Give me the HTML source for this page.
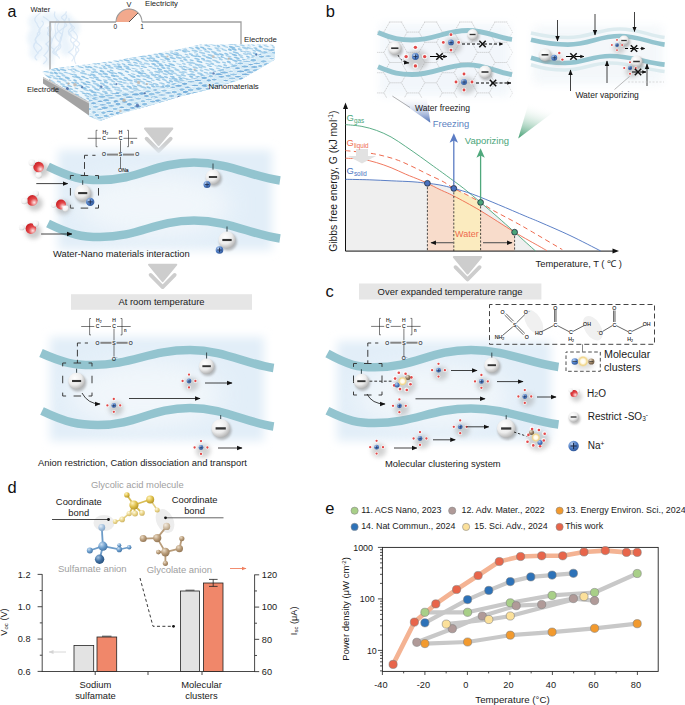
<!DOCTYPE html>
<html><head><meta charset="utf-8"><style>
html,body{margin:0;padding:0;background:#fff;}
svg{display:block;}
text{font-family:"Liberation Sans", sans-serif;}
</style></head><body>
<svg width="685" height="705" viewBox="0 0 685 705">
<defs>
<radialGradient id="gAn" cx="0.38" cy="0.32" r="0.75">
 <stop offset="0" stop-color="#ffffff"/><stop offset="0.55" stop-color="#ececec"/><stop offset="1" stop-color="#a8a8a8"/>
</radialGradient>
<radialGradient id="gNa" cx="0.35" cy="0.3" r="0.8">
 <stop offset="0" stop-color="#b9d0f0"/><stop offset="0.5" stop-color="#4f7fc8"/><stop offset="1" stop-color="#2b4f8e"/>
</radialGradient>
<radialGradient id="gO" cx="0.68" cy="0.7" r="0.75">
 <stop offset="0" stop-color="#fde8e8"/><stop offset="0.5" stop-color="#e4484a"/><stop offset="1" stop-color="#c81e22"/>
</radialGradient>
<radialGradient id="gH" cx="0.35" cy="0.3" r="0.8">
 <stop offset="0" stop-color="#ffffff"/><stop offset="0.6" stop-color="#f2f2f2"/><stop offset="1" stop-color="#c4c4c4"/>
</radialGradient>
<filter id="bl05" x="-20%" y="-20%" width="140%" height="140%"><feGaussianBlur stdDeviation="0.6"/></filter>
<filter id="bl1" x="-50%" y="-50%" width="200%" height="200%"><feGaussianBlur stdDeviation="1.3"/></filter>
<filter id="bl2" x="-50%" y="-50%" width="200%" height="200%"><feGaussianBlur stdDeviation="2"/></filter>
<filter id="bl8" x="-30%" y="-30%" width="160%" height="160%"><feGaussianBlur stdDeviation="12"/></filter>
<filter id="bl4" x="-20%" y="-20%" width="140%" height="140%"><feGaussianBlur stdDeviation="5"/></filter>
<marker id="ah" viewBox="0 0 10 10" refX="9" refY="5" markerWidth="5.5" markerHeight="5.5" orient="auto" markerUnits="userSpaceOnUse">
 <path d="M0,1 L10,5 L0,9 z" fill="#111"/>
</marker>
<clipPath id="cpSlab"><polygon points="42,72 53,68.5 106,62 150,54.4 182,48.6 201,44.6 240,44.2 272.5,44.8 275,47 273,48.5 232,65.5 201,76.5 150,89 89,96.5 89,102 89,96.5 150,89 201,76.5 232,65.5 273,48.5 275,47 275,59.5 242,79 211,89 181,96.3 150,105.5 116,115 100,121 89,116"/></clipPath><clipPath id="cpFront"><polygon points="89,96.5 150,89 201,76.5 232,65.5 273,48.5 275,47 275,59.5 242,79 211,89 181,96.3 150,105.5 116,115 100,121 89,116"/></clipPath><marker id="ahS" viewBox="0 0 10 10" refX="9" refY="5" markerWidth="4.2" markerHeight="4.2" orient="auto" markerUnits="userSpaceOnUse"><path d="M0,1 L10,5 L0,9 z" fill="#111"/></marker><clipPath id="cpHex"><rect x="377" y="21" width="136" height="77"/></clipPath><linearGradient id="gWedgeB" x1="0" y1="0" x2="0" y2="1"><stop offset="0" stop-color="#ffffff" stop-opacity="0"/><stop offset="1" stop-color="#4a6db5"/></linearGradient><linearGradient id="gWedgeG" x1="0.3" y1="0" x2="0" y2="1"><stop offset="0.15" stop-color="#ffffff" stop-opacity="0"/><stop offset="1" stop-color="#3b9a6c"/></linearGradient><radialGradient id="gYel" cx="0.5" cy="0.5" r="0.5"><stop offset="0" stop-color="#ffffff"/><stop offset="0.4" stop-color="#fffaea"/><stop offset="0.72" stop-color="#f2d68a"/><stop offset="1" stop-color="#f3d98a" stop-opacity="0.1"/></radialGradient><radialGradient id="gBr" cx="0.35" cy="0.3" r="0.8"><stop offset="0" stop-color="#e8dccb"/><stop offset="0.5" stop-color="#9c8466"/><stop offset="1" stop-color="#5e4c38"/></radialGradient><radialGradient id="gBl" cx="0.35" cy="0.3" r="0.8"><stop offset="0" stop-color="#c9def2"/><stop offset="0.5" stop-color="#6b9dcc"/><stop offset="1" stop-color="#3d6e9f"/></radialGradient><radialGradient id="gBlD" cx="0.35" cy="0.3" r="0.8"><stop offset="0" stop-color="#9fc0e0"/><stop offset="0.5" stop-color="#3f6fa2"/><stop offset="1" stop-color="#234a73"/></radialGradient><radialGradient id="gBlL" cx="0.35" cy="0.3" r="0.8"><stop offset="0" stop-color="#e6eef7"/><stop offset="0.5" stop-color="#a8c4df"/><stop offset="1" stop-color="#7d9fc3"/></radialGradient><radialGradient id="gYb" cx="0.35" cy="0.3" r="0.8"><stop offset="0" stop-color="#fff4c0"/><stop offset="0.5" stop-color="#e0c04a"/><stop offset="1" stop-color="#a88a20"/></radialGradient><radialGradient id="gYl" cx="0.35" cy="0.3" r="0.8"><stop offset="0" stop-color="#fffae0"/><stop offset="0.5" stop-color="#ead58a"/><stop offset="1" stop-color="#c7ad5a"/></radialGradient><radialGradient id="gTn" cx="0.35" cy="0.3" r="0.8"><stop offset="0" stop-color="#eadbc6"/><stop offset="0.5" stop-color="#b89b78"/><stop offset="1" stop-color="#8a6e4e"/></radialGradient><radialGradient id="gTnL" cx="0.35" cy="0.3" r="0.8"><stop offset="0" stop-color="#f3ebe0"/><stop offset="0.5" stop-color="#d3c1a8"/><stop offset="1" stop-color="#ad9677"/></radialGradient><marker id="ahO" viewBox="0 0 10 10" refX="9" refY="5" markerWidth="5" markerHeight="5" orient="auto" markerUnits="userSpaceOnUse"><path d="M0,1 L10,5 L0,9 z" fill="#f08060"/></marker><marker id="ahG" viewBox="0 0 10 10" refX="9" refY="5" markerWidth="5" markerHeight="5" orient="auto" markerUnits="userSpaceOnUse"><path d="M0,1 L10,5 L0,9 z" fill="#d4d4d4"/></marker>
</defs>
<text x="7.6" y="17" font-size="16" fill="#111" text-anchor="start" >a</text><g opacity="0.8" filter="url(#bl2)"><ellipse cx="36" cy="22" rx="8" ry="8" fill="#e2eef9" opacity="0.85"/><ellipse cx="50" cy="18" rx="9" ry="6" fill="#e2eef9" opacity="0.85"/><ellipse cx="64" cy="20" rx="9" ry="7" fill="#e2eef9" opacity="0.85"/><ellipse cx="34" cy="38" rx="7" ry="10" fill="#e2eef9" opacity="0.85"/><ellipse cx="46" cy="36" rx="8" ry="9" fill="#e2eef9" opacity="0.85"/><ellipse cx="62" cy="34" rx="8" ry="9" fill="#e2eef9" opacity="0.85"/><ellipse cx="36" cy="52" rx="7" ry="8" fill="#e2eef9" opacity="0.85"/><ellipse cx="50" cy="50" rx="7" ry="9" fill="#e2eef9" opacity="0.85"/><ellipse cx="66" cy="48" rx="6" ry="8" fill="#e2eef9" opacity="0.85"/><ellipse cx="48" cy="62" rx="6" ry="4" fill="#e2eef9" opacity="0.85"/><ellipse cx="74" cy="28" rx="6" ry="8" fill="#e2eef9" opacity="0.85"/></g><g fill="none" stroke="#c6dbf1" stroke-width="1.2" opacity="0.55" filter="url(#bl05)"><path d="M49.7,57.8 C49.8,53.8 50.6,49.2 49.4,45.2 C51.2,41.2 53.6,40.3 49.5,36.3 C43.8,32.3 51.9,31.8 47.5,27.8 C54.3,23.8 49.4,20.4 42.9,16.4"/><path d="M59.4,58.6 C59.8,54.6 48.4,53.8 54.5,49.8 C48.0,45.8 51.5,44.9 52.0,40.9 C52.2,36.9 57.3,34.7 55.4,30.7 C54.8,26.7 53.9,24.2 57.0,20.2"/><path d="M75.9,63.9 C73.3,59.9 74.2,55.7 78.0,51.7 C81.7,47.7 72.3,46.3 73.7,42.3 C80.1,38.3 77.4,34.1 72.5,30.1 C78.3,26.1 69.2,26.1 69.6,22.1"/><path d="M75.1,55.6 C79.0,51.6 73.1,51.2 76.4,47.2 C82.8,43.2 78.3,42.8 74.7,38.8 C69.1,34.8 66.0,34.2 72.1,30.2 C73.0,26.2 68.2,22.2 68.9,18.2"/><path d="M37.2,60.2 C31.8,56.2 37.5,55.6 38.6,51.6 C45.2,47.6 40.5,46.5 36.3,42.5 C32.2,38.5 38.7,37.0 40.1,33.0 C34.5,29.0 48.4,24.7 41.6,20.7"/><path d="M38.2,53.6 C35.4,49.6 30.6,45.8 36.5,41.8 C32.9,37.8 38.8,37.3 37.4,33.3 C43.8,29.3 36.7,27.4 36.9,23.4 C32.4,19.4 35.7,16.6 40.5,12.6"/><path d="M71.6,61.4 C75.0,57.4 74.7,56.2 68.5,52.2 C73.9,48.2 74.5,47.2 73.0,43.2 C66.5,39.2 75.5,37.1 69.0,33.1 C65.6,29.1 75.6,27.9 71.1,23.9"/><path d="M56.6,54.1 C50.6,50.1 55.0,49.2 58.8,45.2 C60.4,41.2 59.3,38.4 62.4,34.4 C55.6,30.4 56.2,25.8 59.4,21.8 C54.9,17.8 53.2,15.6 55.0,11.6"/><path d="M55.5,51.8 C62.2,47.8 61.6,46.0 59.4,42.0 C54.3,38.0 53.7,34.6 60.2,30.6 C63.0,26.6 70.8,26.5 64.3,22.5 C64.1,18.5 68.9,18.4 65.7,14.4"/><path d="M43.3,64.0 C46.6,60.0 49.4,59.6 43.8,55.6 C47.9,51.6 51.6,47.9 45.8,43.9 C51.4,39.9 52.9,38.2 47.7,34.2 C52.7,30.2 51.6,28.1 50.6,24.1"/><path d="M58.0,55.4 C52.1,51.4 61.0,48.4 59.1,44.4 C62.3,40.4 61.3,35.5 62.9,31.5 C62.1,27.5 68.4,23.8 63.7,19.8 C57.1,15.8 67.6,15.4 66.2,11.4"/></g><text x="30.6" y="12.3" font-size="7.45" fill="#222" text-anchor="start" >Water</text><path d="M50,83 L50,22 L116,22 M142,22 L241,22 L241,45" fill="none" stroke="#a0a0a0" stroke-width="1.3"/><path d="M116,22 A13,13 0 0 1 138.2,12.8 L129,22 Z" fill="#f2a98d"/><path d="M116,22 A13,13 0 0 1 142,22" fill="none" stroke="#9a9a9a" stroke-width="1.1"/><line x1="129" y1="22" x2="138" y2="13" stroke="#333" stroke-width="0.8"/><text x="129" y="6.6" font-size="7.4" fill="#222" text-anchor="middle" >V</text><text x="115.2" y="28.8" font-size="6.5" fill="#222" text-anchor="middle" >0</text><text x="142" y="28.8" font-size="6.5" fill="#222" text-anchor="middle" >1</text><text x="145" y="5.5" font-size="7.7" fill="#222" text-anchor="start" >Electricity</text><polygon points="42,72 53,68.5 106,62 150,54.4 182,48.6 201,44.6 240,44.2 272.5,44.8 275,47 273,48.5 232,65.5 201,76.5 150,89 89,96.5 89,102 89,96.5 150,89 201,76.5 232,65.5 273,48.5 275,47 275,59.5 242,79 211,89 181,96.3 150,105.5 116,115 100,121 89,116" fill="#eef7fc"/><g clip-path="url(#cpSlab)"><g transform="skewY(14)"><ellipse cx="39.5" cy="29.7" rx="2.9" ry="0.6" fill="#a3cee9"/><ellipse cx="44.3" cy="28.7" rx="3.3" ry="0.7" fill="#93c5e6"/><ellipse cx="50.6" cy="25.7" rx="2.0" ry="0.8" fill="#a3cee9"/><ellipse cx="55.1" cy="24.3" rx="2.8" ry="1.1" fill="#a3cee9"/><ellipse cx="61.8" cy="21.8" rx="2.2" ry="0.9" fill="#9ecbe8"/><ellipse cx="66.4" cy="20.3" rx="2.1" ry="0.8" fill="#9ecbe8"/><ellipse cx="71.3" cy="19.2" rx="2.2" ry="0.7" fill="#93c5e6"/><ellipse cx="78.0" cy="16.9" rx="2.6" ry="0.9" fill="#aad2ec"/><ellipse cx="83.1" cy="15.6" rx="2.4" ry="0.7" fill="#9ecbe8"/><ellipse cx="89.2" cy="12.5" rx="2.8" ry="0.9" fill="#aad2ec"/><ellipse cx="94.6" cy="10.6" rx="3.4" ry="0.7" fill="#8bc0e3"/><ellipse cx="98.5" cy="9.4" rx="3.3" ry="0.8" fill="#93c5e6"/><ellipse cx="105.5" cy="7.2" rx="3.2" ry="0.8" fill="#aad2ec"/><ellipse cx="110.5" cy="5.5" rx="2.6" ry="1.1" fill="#aad2ec"/><ellipse cx="115.5" cy="3.9" rx="2.0" ry="1.0" fill="#a3cee9"/><ellipse cx="122.4" cy="1.7" rx="2.3" ry="0.8" fill="#aad2ec"/><ellipse cx="125.1" cy="0.3" rx="2.2" ry="0.7" fill="#93c5e6"/><ellipse cx="131.0" cy="-2.1" rx="3.0" ry="0.8" fill="#8bc0e3"/><ellipse cx="136.0" cy="-3.6" rx="2.7" ry="1.1" fill="#8bc0e3"/><ellipse cx="143.6" cy="-6.5" rx="2.5" ry="0.8" fill="#8bc0e3"/><ellipse cx="149.3" cy="-8.6" rx="2.2" ry="0.7" fill="#9ecbe8"/><ellipse cx="152.0" cy="-8.6" rx="2.2" ry="0.8" fill="#9ecbe8"/><ellipse cx="158.6" cy="-11.6" rx="2.7" ry="1.1" fill="#a3cee9"/><ellipse cx="165.5" cy="-13.6" rx="3.0" ry="0.9" fill="#a3cee9"/><ellipse cx="169.3" cy="-15.3" rx="2.1" ry="0.9" fill="#93c5e6"/><ellipse cx="174.1" cy="-16.2" rx="2.6" ry="0.7" fill="#a3cee9"/><ellipse cx="179.1" cy="-19.3" rx="2.1" ry="0.7" fill="#aad2ec"/><ellipse cx="186.1" cy="-21.6" rx="2.2" ry="0.8" fill="#aad2ec"/><ellipse cx="192.5" cy="-23.1" rx="2.6" ry="0.7" fill="#8bc0e3"/><ellipse cx="198.0" cy="-25.2" rx="2.6" ry="0.6" fill="#93c5e6"/><ellipse cx="202.7" cy="-26.5" rx="2.6" ry="1.0" fill="#a3cee9"/><ellipse cx="206.1" cy="-27.4" rx="2.7" ry="0.7" fill="#a3cee9"/><ellipse cx="214.0" cy="-30.4" rx="2.3" ry="1.0" fill="#93c5e6"/><ellipse cx="218.7" cy="-32.7" rx="2.5" ry="0.7" fill="#9ecbe8"/><ellipse cx="223.7" cy="-33.8" rx="2.4" ry="0.7" fill="#9ecbe8"/><ellipse cx="229.9" cy="-35.8" rx="3.0" ry="0.7" fill="#a3cee9"/><ellipse cx="234.4" cy="-37.6" rx="3.4" ry="1.0" fill="#8bc0e3"/><ellipse cx="239.1" cy="-39.3" rx="3.3" ry="0.8" fill="#aad2ec"/><ellipse cx="246.5" cy="-42.3" rx="2.2" ry="0.7" fill="#9ecbe8"/><ellipse cx="250.1" cy="-43.4" rx="3.4" ry="0.9" fill="#93c5e6"/><ellipse cx="255.9" cy="-45.2" rx="3.1" ry="0.6" fill="#93c5e6"/><ellipse cx="262.5" cy="-47.3" rx="3.0" ry="0.9" fill="#9ecbe8"/><ellipse cx="266.6" cy="-48.9" rx="2.0" ry="1.1" fill="#8bc0e3"/><ellipse cx="272.1" cy="-50.7" rx="2.0" ry="0.7" fill="#9ecbe8"/><ellipse cx="276.3" cy="-52.4" rx="2.6" ry="1.0" fill="#a3cee9"/><ellipse cx="283.9" cy="-54.5" rx="2.9" ry="0.8" fill="#a3cee9"/><ellipse cx="42.8" cy="31.3" rx="3.1" ry="1.0" fill="#93c5e6"/><ellipse cx="48.2" cy="30.7" rx="2.6" ry="1.1" fill="#9ecbe8"/><ellipse cx="52.2" cy="28.3" rx="2.7" ry="1.0" fill="#aad2ec"/><ellipse cx="58.2" cy="26.4" rx="2.1" ry="1.1" fill="#aad2ec"/><ellipse cx="65.4" cy="24.3" rx="3.1" ry="0.9" fill="#a3cee9"/><ellipse cx="68.7" cy="22.4" rx="2.7" ry="1.1" fill="#9ecbe8"/><ellipse cx="75.4" cy="20.9" rx="2.1" ry="0.7" fill="#a3cee9"/><ellipse cx="81.1" cy="18.6" rx="2.4" ry="0.9" fill="#a3cee9"/><ellipse cx="85.9" cy="17.3" rx="3.2" ry="0.6" fill="#9ecbe8"/><ellipse cx="90.7" cy="15.6" rx="2.7" ry="0.9" fill="#93c5e6"/><ellipse cx="96.5" cy="13.3" rx="2.7" ry="0.9" fill="#aad2ec"/><ellipse cx="102.0" cy="11.3" rx="2.6" ry="1.1" fill="#a3cee9"/><ellipse cx="108.6" cy="9.6" rx="2.3" ry="0.9" fill="#9ecbe8"/><ellipse cx="113.9" cy="6.6" rx="2.1" ry="0.8" fill="#93c5e6"/><ellipse cx="118.8" cy="5.3" rx="2.2" ry="0.8" fill="#93c5e6"/><ellipse cx="124.8" cy="2.8" rx="3.0" ry="1.0" fill="#9ecbe8"/><ellipse cx="128.4" cy="1.5" rx="2.6" ry="1.0" fill="#93c5e6"/><ellipse cx="134.2" cy="-0.0" rx="3.4" ry="1.1" fill="#9ecbe8"/><ellipse cx="140.5" cy="-1.5" rx="2.5" ry="0.8" fill="#aad2ec"/><ellipse cx="144.8" cy="-3.4" rx="1.9" ry="0.9" fill="#8bc0e3"/><ellipse cx="151.3" cy="-6.1" rx="2.7" ry="0.8" fill="#93c5e6"/><ellipse cx="155.0" cy="-6.7" rx="2.2" ry="1.1" fill="#93c5e6"/><ellipse cx="160.8" cy="-9.9" rx="3.1" ry="0.7" fill="#9ecbe8"/><ellipse cx="167.8" cy="-11.2" rx="2.9" ry="1.1" fill="#8bc0e3"/><ellipse cx="171.3" cy="-12.4" rx="2.8" ry="1.0" fill="#93c5e6"/><ellipse cx="177.1" cy="-14.5" rx="2.2" ry="1.1" fill="#aad2ec"/><ellipse cx="184.3" cy="-17.3" rx="3.1" ry="0.6" fill="#9ecbe8"/><ellipse cx="187.3" cy="-18.0" rx="2.6" ry="0.8" fill="#a3cee9"/><ellipse cx="193.7" cy="-20.2" rx="2.8" ry="0.6" fill="#9ecbe8"/><ellipse cx="200.5" cy="-22.5" rx="2.3" ry="0.7" fill="#aad2ec"/><ellipse cx="205.1" cy="-24.7" rx="2.2" ry="0.8" fill="#9ecbe8"/><ellipse cx="209.5" cy="-25.8" rx="3.4" ry="0.6" fill="#93c5e6"/><ellipse cx="216.2" cy="-28.5" rx="2.2" ry="0.9" fill="#8bc0e3"/><ellipse cx="219.8" cy="-29.4" rx="2.5" ry="0.9" fill="#8bc0e3"/><ellipse cx="227.6" cy="-32.9" rx="2.2" ry="0.7" fill="#9ecbe8"/><ellipse cx="232.6" cy="-34.1" rx="2.9" ry="0.8" fill="#aad2ec"/><ellipse cx="238.4" cy="-35.9" rx="1.9" ry="0.9" fill="#aad2ec"/><ellipse cx="242.3" cy="-38.4" rx="2.9" ry="0.8" fill="#a3cee9"/><ellipse cx="248.4" cy="-40.2" rx="2.3" ry="0.8" fill="#8bc0e3"/><ellipse cx="252.4" cy="-41.6" rx="1.9" ry="0.8" fill="#aad2ec"/><ellipse cx="260.0" cy="-43.9" rx="2.3" ry="1.1" fill="#aad2ec"/><ellipse cx="263.3" cy="-45.5" rx="2.4" ry="0.6" fill="#aad2ec"/><ellipse cx="269.5" cy="-47.7" rx="2.7" ry="0.6" fill="#aad2ec"/><ellipse cx="275.8" cy="-49.9" rx="2.8" ry="0.8" fill="#aad2ec"/><ellipse cx="279.8" cy="-51.2" rx="2.8" ry="0.9" fill="#9ecbe8"/><ellipse cx="286.1" cy="-52.8" rx="3.2" ry="0.8" fill="#aad2ec"/><ellipse cx="40.6" cy="35.6" rx="2.3" ry="0.9" fill="#9ecbe8"/><ellipse cx="44.1" cy="34.9" rx="3.2" ry="0.9" fill="#a3cee9"/><ellipse cx="49.8" cy="32.4" rx="2.7" ry="1.1" fill="#93c5e6"/><ellipse cx="57.1" cy="30.0" rx="3.2" ry="1.0" fill="#9ecbe8"/><ellipse cx="60.4" cy="28.0" rx="2.9" ry="1.1" fill="#8bc0e3"/><ellipse cx="67.9" cy="26.1" rx="2.8" ry="0.9" fill="#9ecbe8"/><ellipse cx="72.4" cy="23.8" rx="3.1" ry="1.0" fill="#a3cee9"/><ellipse cx="78.9" cy="21.7" rx="2.7" ry="1.0" fill="#8bc0e3"/><ellipse cx="82.5" cy="20.4" rx="2.3" ry="1.0" fill="#9ecbe8"/><ellipse cx="87.8" cy="19.3" rx="2.6" ry="1.1" fill="#93c5e6"/><ellipse cx="93.9" cy="17.2" rx="3.1" ry="0.9" fill="#9ecbe8"/><ellipse cx="98.2" cy="15.0" rx="2.3" ry="1.0" fill="#aad2ec"/><ellipse cx="105.1" cy="12.6" rx="2.6" ry="0.9" fill="#93c5e6"/><ellipse cx="110.7" cy="11.4" rx="2.3" ry="0.9" fill="#8bc0e3"/><ellipse cx="115.5" cy="9.8" rx="3.4" ry="0.9" fill="#aad2ec"/><ellipse cx="122.3" cy="7.7" rx="1.9" ry="0.9" fill="#a3cee9"/><ellipse cx="127.7" cy="5.1" rx="2.3" ry="0.7" fill="#9ecbe8"/><ellipse cx="130.6" cy="3.6" rx="3.0" ry="0.7" fill="#aad2ec"/><ellipse cx="136.2" cy="2.7" rx="2.7" ry="1.1" fill="#aad2ec"/><ellipse cx="141.8" cy="0.8" rx="2.6" ry="0.6" fill="#93c5e6"/><ellipse cx="149.3" cy="-2.1" rx="2.5" ry="1.0" fill="#8bc0e3"/><ellipse cx="153.0" cy="-3.9" rx="3.2" ry="0.6" fill="#aad2ec"/><ellipse cx="159.7" cy="-6.5" rx="3.3" ry="1.0" fill="#aad2ec"/><ellipse cx="163.5" cy="-7.9" rx="2.5" ry="1.1" fill="#93c5e6"/><ellipse cx="169.2" cy="-9.4" rx="2.3" ry="0.6" fill="#93c5e6"/><ellipse cx="173.7" cy="-10.7" rx="2.9" ry="0.7" fill="#aad2ec"/><ellipse cx="180.2" cy="-13.4" rx="3.1" ry="1.0" fill="#8bc0e3"/><ellipse cx="186.9" cy="-15.0" rx="2.8" ry="1.1" fill="#a3cee9"/><ellipse cx="191.3" cy="-16.7" rx="2.0" ry="1.0" fill="#8bc0e3"/><ellipse cx="196.9" cy="-19.5" rx="3.2" ry="0.9" fill="#a3cee9"/><ellipse cx="201.0" cy="-20.4" rx="2.4" ry="0.8" fill="#aad2ec"/><ellipse cx="207.1" cy="-22.9" rx="2.6" ry="1.0" fill="#93c5e6"/><ellipse cx="211.9" cy="-24.7" rx="2.2" ry="1.1" fill="#8bc0e3"/><ellipse cx="218.3" cy="-26.5" rx="2.4" ry="1.0" fill="#8bc0e3"/><ellipse cx="222.6" cy="-28.4" rx="2.0" ry="0.8" fill="#93c5e6"/><ellipse cx="228.5" cy="-30.2" rx="3.1" ry="0.7" fill="#93c5e6"/><ellipse cx="235.1" cy="-32.4" rx="2.5" ry="0.9" fill="#8bc0e3"/><ellipse cx="239.2" cy="-33.4" rx="2.6" ry="0.9" fill="#aad2ec"/><ellipse cx="244.2" cy="-35.5" rx="2.8" ry="1.1" fill="#9ecbe8"/><ellipse cx="249.5" cy="-36.8" rx="2.5" ry="1.0" fill="#8bc0e3"/><ellipse cx="257.3" cy="-39.6" rx="3.2" ry="0.6" fill="#93c5e6"/><ellipse cx="261.2" cy="-41.1" rx="3.1" ry="1.1" fill="#8bc0e3"/><ellipse cx="265.4" cy="-43.1" rx="3.3" ry="1.1" fill="#8bc0e3"/><ellipse cx="273.5" cy="-46.1" rx="2.1" ry="0.7" fill="#a3cee9"/><ellipse cx="278.9" cy="-48.2" rx="3.1" ry="1.0" fill="#8bc0e3"/><ellipse cx="281.8" cy="-48.3" rx="1.9" ry="0.7" fill="#a3cee9"/><ellipse cx="43.9" cy="37.6" rx="2.4" ry="0.7" fill="#aad2ec"/><ellipse cx="48.2" cy="35.8" rx="3.0" ry="0.7" fill="#aad2ec"/><ellipse cx="53.6" cy="34.1" rx="2.5" ry="0.7" fill="#a3cee9"/><ellipse cx="57.5" cy="32.7" rx="3.4" ry="0.8" fill="#aad2ec"/><ellipse cx="64.7" cy="30.6" rx="2.6" ry="0.7" fill="#9ecbe8"/><ellipse cx="68.4" cy="28.7" rx="2.9" ry="0.6" fill="#9ecbe8"/><ellipse cx="75.1" cy="26.7" rx="2.5" ry="0.7" fill="#8bc0e3"/><ellipse cx="81.7" cy="23.8" rx="2.0" ry="0.8" fill="#8bc0e3"/><ellipse cx="85.5" cy="22.7" rx="1.9" ry="0.8" fill="#a3cee9"/><ellipse cx="90.1" cy="21.2" rx="2.2" ry="1.0" fill="#9ecbe8"/><ellipse cx="95.9" cy="18.8" rx="3.0" ry="0.8" fill="#a3cee9"/><ellipse cx="102.1" cy="16.6" rx="2.2" ry="0.8" fill="#93c5e6"/><ellipse cx="108.8" cy="14.2" rx="2.5" ry="0.7" fill="#a3cee9"/><ellipse cx="111.9" cy="13.0" rx="2.0" ry="0.8" fill="#aad2ec"/><ellipse cx="119.0" cy="11.8" rx="3.3" ry="0.8" fill="#9ecbe8"/><ellipse cx="124.1" cy="9.4" rx="2.6" ry="0.8" fill="#8bc0e3"/><ellipse cx="130.0" cy="7.9" rx="2.6" ry="0.7" fill="#93c5e6"/><ellipse cx="133.9" cy="5.7" rx="3.3" ry="0.7" fill="#9ecbe8"/><ellipse cx="139.6" cy="4.3" rx="2.4" ry="1.0" fill="#93c5e6"/><ellipse cx="144.0" cy="2.3" rx="2.5" ry="1.1" fill="#9ecbe8"/><ellipse cx="150.2" cy="0.6" rx="2.6" ry="0.9" fill="#9ecbe8"/><ellipse cx="157.0" cy="-1.8" rx="2.0" ry="0.6" fill="#93c5e6"/><ellipse cx="162.3" cy="-4.6" rx="2.2" ry="0.6" fill="#a3cee9"/><ellipse cx="166.4" cy="-5.8" rx="3.3" ry="0.9" fill="#aad2ec"/><ellipse cx="173.0" cy="-7.5" rx="3.3" ry="0.8" fill="#a3cee9"/><ellipse cx="178.9" cy="-9.6" rx="3.3" ry="0.6" fill="#9ecbe8"/><ellipse cx="182.0" cy="-10.6" rx="2.6" ry="1.0" fill="#aad2ec"/><ellipse cx="189.7" cy="-13.1" rx="2.1" ry="0.9" fill="#93c5e6"/><ellipse cx="194.7" cy="-15.0" rx="3.1" ry="1.0" fill="#a3cee9"/><ellipse cx="198.6" cy="-16.2" rx="2.6" ry="1.0" fill="#a3cee9"/><ellipse cx="203.5" cy="-18.8" rx="3.0" ry="0.7" fill="#93c5e6"/><ellipse cx="210.5" cy="-20.9" rx="2.7" ry="0.7" fill="#8bc0e3"/><ellipse cx="216.6" cy="-22.3" rx="2.3" ry="0.6" fill="#93c5e6"/><ellipse cx="220.7" cy="-23.7" rx="3.4" ry="0.7" fill="#9ecbe8"/><ellipse cx="226.1" cy="-26.1" rx="2.9" ry="1.0" fill="#93c5e6"/><ellipse cx="232.5" cy="-28.8" rx="2.3" ry="0.7" fill="#aad2ec"/><ellipse cx="237.8" cy="-30.8" rx="2.3" ry="0.7" fill="#9ecbe8"/><ellipse cx="241.9" cy="-31.2" rx="2.2" ry="0.6" fill="#aad2ec"/><ellipse cx="249.3" cy="-34.4" rx="2.2" ry="1.0" fill="#8bc0e3"/><ellipse cx="254.7" cy="-36.8" rx="2.6" ry="1.1" fill="#8bc0e3"/><ellipse cx="259.9" cy="-38.7" rx="2.3" ry="0.7" fill="#9ecbe8"/><ellipse cx="264.4" cy="-39.2" rx="2.2" ry="0.6" fill="#a3cee9"/><ellipse cx="270.5" cy="-41.9" rx="2.3" ry="1.0" fill="#93c5e6"/><ellipse cx="273.8" cy="-42.8" rx="2.8" ry="0.7" fill="#aad2ec"/><ellipse cx="279.9" cy="-45.7" rx="3.4" ry="0.6" fill="#9ecbe8"/><ellipse cx="286.6" cy="-47.0" rx="2.5" ry="0.8" fill="#a3cee9"/><ellipse cx="39.5" cy="41.4" rx="3.1" ry="0.9" fill="#93c5e6"/><ellipse cx="45.1" cy="40.2" rx="2.9" ry="0.7" fill="#a3cee9"/><ellipse cx="49.7" cy="37.8" rx="2.9" ry="0.8" fill="#aad2ec"/><ellipse cx="56.7" cy="35.7" rx="2.0" ry="1.0" fill="#aad2ec"/><ellipse cx="61.4" cy="33.5" rx="3.0" ry="1.0" fill="#9ecbe8"/><ellipse cx="66.7" cy="32.2" rx="3.3" ry="0.8" fill="#9ecbe8"/><ellipse cx="72.2" cy="30.8" rx="2.5" ry="1.1" fill="#8bc0e3"/><ellipse cx="78.6" cy="27.6" rx="2.0" ry="0.7" fill="#8bc0e3"/><ellipse cx="82.0" cy="27.1" rx="2.5" ry="0.9" fill="#9ecbe8"/><ellipse cx="88.2" cy="24.3" rx="2.2" ry="0.6" fill="#8bc0e3"/><ellipse cx="94.0" cy="23.2" rx="3.4" ry="0.7" fill="#9ecbe8"/><ellipse cx="100.3" cy="19.9" rx="3.3" ry="0.8" fill="#a3cee9"/><ellipse cx="106.0" cy="18.4" rx="3.3" ry="0.9" fill="#9ecbe8"/><ellipse cx="110.6" cy="17.5" rx="2.8" ry="0.9" fill="#9ecbe8"/><ellipse cx="116.5" cy="14.5" rx="2.2" ry="0.8" fill="#a3cee9"/><ellipse cx="120.0" cy="13.5" rx="2.1" ry="1.1" fill="#9ecbe8"/><ellipse cx="125.1" cy="12.0" rx="3.0" ry="0.6" fill="#aad2ec"/><ellipse cx="130.7" cy="10.1" rx="2.7" ry="0.9" fill="#aad2ec"/><ellipse cx="137.6" cy="7.3" rx="2.3" ry="0.8" fill="#aad2ec"/><ellipse cx="142.5" cy="5.8" rx="1.9" ry="0.9" fill="#8bc0e3"/><ellipse cx="147.9" cy="3.9" rx="2.8" ry="1.1" fill="#9ecbe8"/><ellipse cx="154.3" cy="1.6" rx="2.0" ry="0.8" fill="#aad2ec"/><ellipse cx="157.7" cy="0.4" rx="2.7" ry="0.6" fill="#9ecbe8"/><ellipse cx="163.0" cy="-1.0" rx="3.1" ry="0.9" fill="#93c5e6"/><ellipse cx="170.3" cy="-3.3" rx="2.9" ry="1.0" fill="#93c5e6"/><ellipse cx="176.0" cy="-5.2" rx="3.0" ry="1.0" fill="#9ecbe8"/><ellipse cx="179.4" cy="-6.5" rx="2.3" ry="1.0" fill="#9ecbe8"/><ellipse cx="186.3" cy="-9.2" rx="2.2" ry="1.1" fill="#a3cee9"/><ellipse cx="191.9" cy="-11.9" rx="3.2" ry="0.8" fill="#8bc0e3"/><ellipse cx="195.6" cy="-12.7" rx="3.3" ry="0.7" fill="#aad2ec"/><ellipse cx="202.3" cy="-15.4" rx="2.5" ry="0.7" fill="#8bc0e3"/><ellipse cx="206.5" cy="-15.9" rx="2.9" ry="1.1" fill="#9ecbe8"/><ellipse cx="213.6" cy="-19.4" rx="3.1" ry="0.6" fill="#aad2ec"/><ellipse cx="219.5" cy="-21.1" rx="2.7" ry="1.0" fill="#93c5e6"/><ellipse cx="222.9" cy="-22.2" rx="3.2" ry="1.0" fill="#aad2ec"/><ellipse cx="228.3" cy="-23.5" rx="2.8" ry="0.8" fill="#93c5e6"/><ellipse cx="234.2" cy="-26.7" rx="3.0" ry="0.6" fill="#a3cee9"/><ellipse cx="239.1" cy="-27.7" rx="3.4" ry="0.9" fill="#aad2ec"/><ellipse cx="245.9" cy="-29.9" rx="2.2" ry="0.8" fill="#8bc0e3"/><ellipse cx="250.4" cy="-32.1" rx="2.0" ry="0.9" fill="#a3cee9"/><ellipse cx="256.4" cy="-34.6" rx="1.9" ry="0.8" fill="#93c5e6"/><ellipse cx="261.5" cy="-35.7" rx="2.5" ry="0.8" fill="#9ecbe8"/><ellipse cx="266.0" cy="-37.1" rx="2.6" ry="0.7" fill="#9ecbe8"/><ellipse cx="272.8" cy="-39.8" rx="2.0" ry="0.7" fill="#aad2ec"/><ellipse cx="277.3" cy="-41.6" rx="1.9" ry="1.0" fill="#a3cee9"/><ellipse cx="284.1" cy="-43.5" rx="2.8" ry="0.9" fill="#a3cee9"/><ellipse cx="43.4" cy="43.0" rx="3.3" ry="0.6" fill="#a3cee9"/><ellipse cx="46.8" cy="41.7" rx="2.1" ry="1.1" fill="#93c5e6"/><ellipse cx="52.1" cy="40.4" rx="3.3" ry="0.7" fill="#9ecbe8"/><ellipse cx="59.0" cy="38.1" rx="2.9" ry="0.8" fill="#a3cee9"/><ellipse cx="63.4" cy="36.1" rx="2.4" ry="0.6" fill="#8bc0e3"/><ellipse cx="70.3" cy="33.3" rx="3.2" ry="1.0" fill="#8bc0e3"/><ellipse cx="73.9" cy="32.9" rx="2.2" ry="1.1" fill="#aad2ec"/><ellipse cx="79.8" cy="30.0" rx="2.4" ry="1.0" fill="#aad2ec"/><ellipse cx="86.5" cy="28.0" rx="2.7" ry="0.8" fill="#a3cee9"/><ellipse cx="92.6" cy="25.9" rx="3.3" ry="1.1" fill="#93c5e6"/><ellipse cx="97.8" cy="23.7" rx="2.3" ry="0.7" fill="#9ecbe8"/><ellipse cx="103.3" cy="22.7" rx="2.4" ry="1.1" fill="#aad2ec"/><ellipse cx="107.8" cy="20.7" rx="3.2" ry="1.1" fill="#a3cee9"/><ellipse cx="112.8" cy="19.6" rx="2.9" ry="1.1" fill="#8bc0e3"/><ellipse cx="119.6" cy="16.4" rx="3.2" ry="1.0" fill="#8bc0e3"/><ellipse cx="124.0" cy="14.6" rx="3.3" ry="0.7" fill="#93c5e6"/><ellipse cx="128.0" cy="14.0" rx="2.1" ry="1.1" fill="#93c5e6"/><ellipse cx="133.2" cy="11.5" rx="2.9" ry="0.6" fill="#93c5e6"/><ellipse cx="140.6" cy="8.8" rx="2.8" ry="0.8" fill="#a3cee9"/><ellipse cx="146.4" cy="6.8" rx="3.2" ry="1.1" fill="#8bc0e3"/><ellipse cx="149.6" cy="5.8" rx="2.1" ry="0.6" fill="#93c5e6"/><ellipse cx="157.0" cy="3.8" rx="2.3" ry="0.7" fill="#93c5e6"/><ellipse cx="162.3" cy="2.0" rx="2.3" ry="0.8" fill="#aad2ec"/><ellipse cx="165.6" cy="0.3" rx="2.3" ry="1.0" fill="#aad2ec"/><ellipse cx="173.4" cy="-1.7" rx="2.8" ry="0.9" fill="#aad2ec"/><ellipse cx="178.0" cy="-4.3" rx="2.5" ry="0.8" fill="#93c5e6"/><ellipse cx="182.7" cy="-5.0" rx="2.7" ry="0.7" fill="#93c5e6"/><ellipse cx="188.7" cy="-7.7" rx="2.6" ry="0.9" fill="#aad2ec"/><ellipse cx="194.6" cy="-8.8" rx="1.9" ry="0.9" fill="#8bc0e3"/><ellipse cx="199.8" cy="-10.9" rx="3.4" ry="0.9" fill="#a3cee9"/><ellipse cx="204.0" cy="-12.2" rx="2.3" ry="0.7" fill="#9ecbe8"/><ellipse cx="210.1" cy="-15.4" rx="2.9" ry="0.6" fill="#a3cee9"/><ellipse cx="216.3" cy="-16.9" rx="2.4" ry="0.8" fill="#8bc0e3"/><ellipse cx="222.0" cy="-18.7" rx="2.5" ry="1.0" fill="#aad2ec"/><ellipse cx="225.5" cy="-20.6" rx="3.3" ry="0.9" fill="#8bc0e3"/><ellipse cx="233.1" cy="-22.7" rx="3.3" ry="0.7" fill="#a3cee9"/><ellipse cx="237.8" cy="-24.2" rx="2.9" ry="0.8" fill="#aad2ec"/><ellipse cx="242.6" cy="-25.7" rx="2.6" ry="0.9" fill="#aad2ec"/><ellipse cx="247.0" cy="-27.9" rx="3.1" ry="0.9" fill="#9ecbe8"/><ellipse cx="252.8" cy="-29.6" rx="2.9" ry="0.9" fill="#aad2ec"/><ellipse cx="258.1" cy="-31.4" rx="3.2" ry="0.7" fill="#9ecbe8"/><ellipse cx="265.4" cy="-33.9" rx="2.8" ry="0.8" fill="#9ecbe8"/><ellipse cx="269.0" cy="-35.9" rx="3.4" ry="1.0" fill="#93c5e6"/><ellipse cx="274.0" cy="-37.0" rx="2.2" ry="0.7" fill="#9ecbe8"/><ellipse cx="281.1" cy="-39.4" rx="2.6" ry="0.7" fill="#93c5e6"/><ellipse cx="285.1" cy="-40.5" rx="2.6" ry="0.6" fill="#8bc0e3"/><ellipse cx="40.5" cy="47.2" rx="2.8" ry="0.9" fill="#9ecbe8"/><ellipse cx="44.7" cy="46.1" rx="1.9" ry="0.7" fill="#8bc0e3"/><ellipse cx="51.4" cy="43.6" rx="2.9" ry="1.1" fill="#a3cee9"/><ellipse cx="57.2" cy="41.7" rx="2.9" ry="0.8" fill="#aad2ec"/><ellipse cx="60.9" cy="40.4" rx="3.2" ry="0.7" fill="#8bc0e3"/><ellipse cx="67.6" cy="38.0" rx="2.3" ry="0.8" fill="#8bc0e3"/><ellipse cx="71.1" cy="37.1" rx="2.7" ry="1.0" fill="#9ecbe8"/><ellipse cx="78.9" cy="33.6" rx="1.9" ry="1.1" fill="#93c5e6"/><ellipse cx="81.9" cy="32.8" rx="2.1" ry="1.0" fill="#9ecbe8"/><ellipse cx="88.7" cy="29.9" rx="2.8" ry="0.9" fill="#8bc0e3"/><ellipse cx="94.0" cy="28.7" rx="3.1" ry="0.9" fill="#8bc0e3"/><ellipse cx="100.1" cy="26.4" rx="3.4" ry="0.7" fill="#a3cee9"/><ellipse cx="105.5" cy="24.0" rx="3.4" ry="0.8" fill="#93c5e6"/><ellipse cx="109.5" cy="23.0" rx="2.0" ry="0.6" fill="#8bc0e3"/><ellipse cx="116.0" cy="21.1" rx="2.8" ry="0.7" fill="#aad2ec"/><ellipse cx="121.7" cy="19.5" rx="2.7" ry="0.7" fill="#8bc0e3"/><ellipse cx="126.3" cy="16.8" rx="3.3" ry="0.6" fill="#9ecbe8"/><ellipse cx="131.7" cy="15.5" rx="2.2" ry="1.1" fill="#aad2ec"/><ellipse cx="137.7" cy="13.8" rx="3.1" ry="0.8" fill="#aad2ec"/><ellipse cx="143.3" cy="11.5" rx="3.1" ry="0.9" fill="#9ecbe8"/><ellipse cx="147.3" cy="9.8" rx="2.3" ry="0.8" fill="#9ecbe8"/><ellipse cx="153.3" cy="8.3" rx="3.1" ry="0.8" fill="#aad2ec"/><ellipse cx="158.3" cy="6.1" rx="2.8" ry="0.6" fill="#aad2ec"/><ellipse cx="163.2" cy="4.1" rx="2.5" ry="0.6" fill="#a3cee9"/><ellipse cx="170.7" cy="2.2" rx="2.1" ry="1.1" fill="#a3cee9"/><ellipse cx="173.6" cy="0.1" rx="3.3" ry="1.0" fill="#aad2ec"/><ellipse cx="180.7" cy="-1.6" rx="3.2" ry="0.7" fill="#8bc0e3"/><ellipse cx="185.4" cy="-3.8" rx="3.3" ry="1.0" fill="#9ecbe8"/><ellipse cx="191.5" cy="-5.2" rx="3.4" ry="0.6" fill="#a3cee9"/><ellipse cx="197.4" cy="-7.1" rx="2.2" ry="1.0" fill="#a3cee9"/><ellipse cx="200.8" cy="-8.3" rx="2.9" ry="0.7" fill="#93c5e6"/><ellipse cx="206.7" cy="-11.2" rx="2.1" ry="0.9" fill="#93c5e6"/><ellipse cx="212.8" cy="-12.4" rx="3.0" ry="0.7" fill="#9ecbe8"/><ellipse cx="218.3" cy="-14.4" rx="1.9" ry="1.1" fill="#8bc0e3"/><ellipse cx="224.1" cy="-16.9" rx="2.3" ry="0.9" fill="#8bc0e3"/><ellipse cx="228.8" cy="-17.9" rx="2.0" ry="1.0" fill="#93c5e6"/><ellipse cx="233.1" cy="-20.6" rx="3.0" ry="1.1" fill="#93c5e6"/><ellipse cx="239.8" cy="-22.4" rx="3.2" ry="0.6" fill="#8bc0e3"/><ellipse cx="245.6" cy="-24.6" rx="3.2" ry="0.8" fill="#8bc0e3"/><ellipse cx="251.4" cy="-26.3" rx="3.3" ry="0.8" fill="#aad2ec"/><ellipse cx="255.8" cy="-27.9" rx="3.1" ry="0.8" fill="#8bc0e3"/><ellipse cx="261.1" cy="-29.8" rx="2.3" ry="0.9" fill="#9ecbe8"/><ellipse cx="267.2" cy="-31.5" rx="2.4" ry="0.8" fill="#aad2ec"/><ellipse cx="271.2" cy="-32.7" rx="2.0" ry="1.1" fill="#8bc0e3"/><ellipse cx="278.2" cy="-35.3" rx="2.7" ry="0.6" fill="#aad2ec"/><ellipse cx="281.9" cy="-37.7" rx="3.1" ry="0.9" fill="#93c5e6"/><ellipse cx="43.5" cy="49.7" rx="2.8" ry="0.9" fill="#a3cee9"/><ellipse cx="49.2" cy="46.5" rx="2.0" ry="0.9" fill="#9ecbe8"/><ellipse cx="52.4" cy="45.6" rx="2.0" ry="1.0" fill="#93c5e6"/><ellipse cx="58.5" cy="44.3" rx="3.1" ry="0.9" fill="#aad2ec"/><ellipse cx="65.3" cy="41.0" rx="2.0" ry="0.6" fill="#a3cee9"/><ellipse cx="70.1" cy="40.4" rx="2.0" ry="0.9" fill="#93c5e6"/><ellipse cx="76.0" cy="38.1" rx="2.5" ry="1.0" fill="#8bc0e3"/><ellipse cx="80.4" cy="35.6" rx="2.5" ry="0.9" fill="#9ecbe8"/><ellipse cx="85.8" cy="34.2" rx="2.1" ry="1.0" fill="#9ecbe8"/><ellipse cx="92.4" cy="32.2" rx="2.5" ry="0.6" fill="#93c5e6"/><ellipse cx="98.1" cy="30.5" rx="2.2" ry="0.7" fill="#8bc0e3"/><ellipse cx="100.7" cy="29.4" rx="2.3" ry="1.0" fill="#9ecbe8"/><ellipse cx="108.7" cy="26.1" rx="3.0" ry="1.0" fill="#9ecbe8"/><ellipse cx="113.5" cy="24.1" rx="2.8" ry="1.0" fill="#8bc0e3"/><ellipse cx="118.8" cy="23.4" rx="3.3" ry="0.6" fill="#93c5e6"/><ellipse cx="122.3" cy="20.9" rx="2.9" ry="1.0" fill="#93c5e6"/><ellipse cx="128.8" cy="19.0" rx="2.8" ry="1.1" fill="#8bc0e3"/><ellipse cx="134.8" cy="17.0" rx="3.3" ry="1.0" fill="#8bc0e3"/><ellipse cx="140.4" cy="14.8" rx="3.1" ry="0.8" fill="#9ecbe8"/><ellipse cx="145.7" cy="13.3" rx="2.5" ry="1.0" fill="#aad2ec"/><ellipse cx="151.5" cy="11.5" rx="2.3" ry="0.6" fill="#a3cee9"/><ellipse cx="155.6" cy="10.1" rx="3.4" ry="1.1" fill="#a3cee9"/><ellipse cx="162.4" cy="7.7" rx="3.4" ry="0.7" fill="#8bc0e3"/><ellipse cx="167.4" cy="6.0" rx="3.2" ry="1.0" fill="#aad2ec"/><ellipse cx="172.8" cy="3.7" rx="2.3" ry="0.7" fill="#93c5e6"/><ellipse cx="177.1" cy="1.9" rx="3.2" ry="1.1" fill="#9ecbe8"/><ellipse cx="182.5" cy="1.1" rx="3.1" ry="1.0" fill="#8bc0e3"/><ellipse cx="188.1" cy="-2.0" rx="2.7" ry="1.0" fill="#9ecbe8"/><ellipse cx="194.7" cy="-3.4" rx="3.4" ry="0.8" fill="#93c5e6"/><ellipse cx="199.8" cy="-5.5" rx="2.2" ry="0.7" fill="#93c5e6"/><ellipse cx="205.5" cy="-7.5" rx="2.0" ry="1.0" fill="#93c5e6"/><ellipse cx="209.4" cy="-8.7" rx="3.2" ry="1.1" fill="#a3cee9"/><ellipse cx="215.0" cy="-10.8" rx="2.2" ry="0.7" fill="#93c5e6"/><ellipse cx="220.0" cy="-12.3" rx="2.4" ry="0.9" fill="#8bc0e3"/><ellipse cx="227.1" cy="-14.5" rx="2.3" ry="1.1" fill="#8bc0e3"/><ellipse cx="231.3" cy="-17.1" rx="2.8" ry="1.0" fill="#9ecbe8"/><ellipse cx="236.6" cy="-19.0" rx="2.3" ry="0.9" fill="#93c5e6"/><ellipse cx="241.2" cy="-19.3" rx="3.2" ry="0.9" fill="#a3cee9"/><ellipse cx="247.1" cy="-21.4" rx="2.3" ry="0.7" fill="#8bc0e3"/><ellipse cx="254.0" cy="-24.0" rx="3.3" ry="0.7" fill="#93c5e6"/><ellipse cx="258.2" cy="-25.2" rx="2.5" ry="0.6" fill="#93c5e6"/><ellipse cx="264.3" cy="-27.5" rx="2.6" ry="1.1" fill="#93c5e6"/><ellipse cx="270.5" cy="-30.0" rx="3.3" ry="1.0" fill="#93c5e6"/><ellipse cx="274.2" cy="-31.4" rx="2.9" ry="1.1" fill="#a3cee9"/><ellipse cx="280.0" cy="-33.6" rx="2.1" ry="1.1" fill="#9ecbe8"/><ellipse cx="284.8" cy="-34.6" rx="3.3" ry="0.6" fill="#a3cee9"/><ellipse cx="41.1" cy="53.3" rx="2.0" ry="1.0" fill="#8bc0e3"/><ellipse cx="44.2" cy="51.3" rx="3.0" ry="1.1" fill="#aad2ec"/><ellipse cx="51.1" cy="49.3" rx="2.9" ry="0.9" fill="#aad2ec"/><ellipse cx="55.5" cy="47.3" rx="2.6" ry="0.7" fill="#9ecbe8"/><ellipse cx="62.5" cy="46.0" rx="3.2" ry="0.9" fill="#9ecbe8"/><ellipse cx="67.8" cy="43.0" rx="3.1" ry="0.6" fill="#a3cee9"/><ellipse cx="73.4" cy="42.1" rx="2.1" ry="0.8" fill="#93c5e6"/><ellipse cx="79.0" cy="39.4" rx="1.9" ry="0.6" fill="#aad2ec"/><ellipse cx="82.7" cy="37.9" rx="2.1" ry="0.8" fill="#aad2ec"/><ellipse cx="87.8" cy="35.9" rx="3.0" ry="0.9" fill="#9ecbe8"/><ellipse cx="93.8" cy="33.9" rx="2.5" ry="0.7" fill="#93c5e6"/><ellipse cx="98.8" cy="33.2" rx="2.4" ry="0.7" fill="#8bc0e3"/><ellipse cx="103.7" cy="30.9" rx="2.6" ry="0.7" fill="#a3cee9"/><ellipse cx="109.0" cy="29.7" rx="2.9" ry="0.7" fill="#8bc0e3"/><ellipse cx="116.5" cy="26.0" rx="3.0" ry="1.1" fill="#8bc0e3"/><ellipse cx="122.4" cy="25.1" rx="3.3" ry="0.7" fill="#aad2ec"/><ellipse cx="126.2" cy="22.7" rx="3.1" ry="1.1" fill="#9ecbe8"/><ellipse cx="133.1" cy="20.0" rx="3.1" ry="0.8" fill="#9ecbe8"/><ellipse cx="137.0" cy="19.7" rx="3.3" ry="0.8" fill="#aad2ec"/><ellipse cx="142.4" cy="18.0" rx="2.2" ry="0.9" fill="#9ecbe8"/><ellipse cx="149.0" cy="15.2" rx="2.2" ry="0.7" fill="#a3cee9"/><ellipse cx="152.2" cy="13.4" rx="2.8" ry="0.9" fill="#aad2ec"/><ellipse cx="157.9" cy="11.5" rx="2.9" ry="0.9" fill="#9ecbe8"/><ellipse cx="164.4" cy="9.3" rx="2.0" ry="1.0" fill="#8bc0e3"/><ellipse cx="170.6" cy="8.2" rx="2.7" ry="0.8" fill="#aad2ec"/><ellipse cx="176.0" cy="6.2" rx="2.6" ry="0.6" fill="#8bc0e3"/><ellipse cx="179.4" cy="4.8" rx="2.3" ry="0.9" fill="#aad2ec"/><ellipse cx="184.5" cy="3.0" rx="2.8" ry="1.1" fill="#aad2ec"/><ellipse cx="191.3" cy="0.3" rx="2.7" ry="0.7" fill="#9ecbe8"/><ellipse cx="197.5" cy="-1.3" rx="2.4" ry="1.0" fill="#8bc0e3"/><ellipse cx="202.2" cy="-2.9" rx="2.3" ry="0.7" fill="#8bc0e3"/><ellipse cx="207.3" cy="-5.9" rx="3.1" ry="0.7" fill="#9ecbe8"/><ellipse cx="214.1" cy="-8.0" rx="2.2" ry="0.7" fill="#aad2ec"/><ellipse cx="218.4" cy="-8.4" rx="1.9" ry="1.1" fill="#9ecbe8"/><ellipse cx="222.9" cy="-10.2" rx="2.9" ry="0.9" fill="#9ecbe8"/><ellipse cx="229.6" cy="-13.6" rx="3.2" ry="1.0" fill="#93c5e6"/><ellipse cx="233.8" cy="-14.5" rx="2.8" ry="1.0" fill="#93c5e6"/><ellipse cx="238.7" cy="-16.3" rx="2.1" ry="0.9" fill="#9ecbe8"/><ellipse cx="244.2" cy="-18.0" rx="3.0" ry="0.7" fill="#93c5e6"/><ellipse cx="251.8" cy="-20.9" rx="2.5" ry="1.1" fill="#a3cee9"/><ellipse cx="254.7" cy="-21.1" rx="2.0" ry="0.8" fill="#8bc0e3"/><ellipse cx="260.7" cy="-24.1" rx="2.6" ry="1.1" fill="#aad2ec"/><ellipse cx="267.7" cy="-25.8" rx="2.0" ry="0.9" fill="#aad2ec"/><ellipse cx="271.5" cy="-27.8" rx="2.8" ry="0.8" fill="#a3cee9"/><ellipse cx="276.7" cy="-29.7" rx="2.2" ry="1.0" fill="#9ecbe8"/><ellipse cx="282.0" cy="-30.6" rx="3.1" ry="1.1" fill="#93c5e6"/><ellipse cx="43.6" cy="55.4" rx="3.2" ry="0.6" fill="#a3cee9"/><ellipse cx="47.4" cy="53.8" rx="2.3" ry="0.9" fill="#93c5e6"/><ellipse cx="53.8" cy="50.9" rx="2.7" ry="0.8" fill="#93c5e6"/><ellipse cx="58.3" cy="49.5" rx="2.9" ry="0.7" fill="#a3cee9"/><ellipse cx="65.6" cy="47.8" rx="3.3" ry="0.6" fill="#a3cee9"/><ellipse cx="69.8" cy="45.2" rx="2.1" ry="0.7" fill="#aad2ec"/><ellipse cx="76.3" cy="43.6" rx="2.3" ry="1.0" fill="#a3cee9"/><ellipse cx="79.9" cy="42.1" rx="2.9" ry="0.7" fill="#8bc0e3"/><ellipse cx="85.1" cy="40.7" rx="2.6" ry="0.9" fill="#a3cee9"/><ellipse cx="91.2" cy="38.7" rx="1.9" ry="0.8" fill="#9ecbe8"/><ellipse cx="96.7" cy="36.1" rx="2.8" ry="0.6" fill="#aad2ec"/><ellipse cx="101.2" cy="35.4" rx="2.4" ry="0.8" fill="#aad2ec"/><ellipse cx="106.9" cy="33.4" rx="2.3" ry="1.0" fill="#9ecbe8"/><ellipse cx="113.0" cy="30.8" rx="2.4" ry="1.0" fill="#a3cee9"/><ellipse cx="118.0" cy="28.8" rx="3.0" ry="0.7" fill="#9ecbe8"/><ellipse cx="125.1" cy="26.7" rx="3.3" ry="0.8" fill="#aad2ec"/><ellipse cx="128.1" cy="24.9" rx="2.8" ry="0.8" fill="#a3cee9"/><ellipse cx="133.4" cy="24.0" rx="3.3" ry="1.1" fill="#aad2ec"/><ellipse cx="140.7" cy="21.2" rx="3.3" ry="0.7" fill="#93c5e6"/><ellipse cx="143.9" cy="20.2" rx="2.8" ry="0.9" fill="#a3cee9"/><ellipse cx="149.7" cy="18.3" rx="2.3" ry="0.9" fill="#93c5e6"/><ellipse cx="155.8" cy="15.6" rx="2.6" ry="1.0" fill="#aad2ec"/><ellipse cx="161.1" cy="13.9" rx="2.8" ry="1.0" fill="#93c5e6"/><ellipse cx="167.7" cy="12.0" rx="2.6" ry="0.8" fill="#9ecbe8"/><ellipse cx="172.4" cy="10.3" rx="2.6" ry="0.8" fill="#9ecbe8"/><ellipse cx="176.5" cy="9.0" rx="2.4" ry="1.1" fill="#9ecbe8"/><ellipse cx="184.4" cy="5.3" rx="2.5" ry="1.1" fill="#93c5e6"/><ellipse cx="187.2" cy="4.4" rx="3.2" ry="0.8" fill="#a3cee9"/><ellipse cx="194.7" cy="2.2" rx="3.4" ry="0.9" fill="#a3cee9"/><ellipse cx="199.9" cy="0.2" rx="2.6" ry="0.6" fill="#aad2ec"/><ellipse cx="204.6" cy="-2.0" rx="2.0" ry="0.7" fill="#8bc0e3"/><ellipse cx="209.7" cy="-3.3" rx="2.7" ry="0.9" fill="#9ecbe8"/><ellipse cx="216.8" cy="-5.7" rx="2.6" ry="0.9" fill="#a3cee9"/><ellipse cx="220.5" cy="-6.9" rx="3.1" ry="0.7" fill="#aad2ec"/><ellipse cx="225.9" cy="-9.4" rx="2.4" ry="0.7" fill="#aad2ec"/><ellipse cx="232.2" cy="-10.6" rx="3.4" ry="1.1" fill="#8bc0e3"/><ellipse cx="237.5" cy="-12.8" rx="3.1" ry="0.7" fill="#9ecbe8"/><ellipse cx="242.3" cy="-15.1" rx="2.7" ry="0.7" fill="#a3cee9"/><ellipse cx="249.3" cy="-16.8" rx="2.0" ry="0.8" fill="#93c5e6"/><ellipse cx="252.8" cy="-17.9" rx="1.9" ry="0.8" fill="#93c5e6"/><ellipse cx="258.9" cy="-20.1" rx="2.2" ry="0.9" fill="#a3cee9"/><ellipse cx="264.3" cy="-21.7" rx="3.2" ry="0.9" fill="#9ecbe8"/><ellipse cx="269.7" cy="-24.2" rx="2.1" ry="0.7" fill="#a3cee9"/><ellipse cx="273.8" cy="-26.1" rx="2.2" ry="0.9" fill="#8bc0e3"/><ellipse cx="280.6" cy="-27.5" rx="2.0" ry="0.6" fill="#a3cee9"/><ellipse cx="285.2" cy="-29.2" rx="2.4" ry="0.7" fill="#aad2ec"/><ellipse cx="40.4" cy="59.4" rx="3.3" ry="0.6" fill="#9ecbe8"/><ellipse cx="45.3" cy="57.0" rx="2.0" ry="1.1" fill="#a3cee9"/><ellipse cx="51.5" cy="54.4" rx="2.0" ry="0.7" fill="#9ecbe8"/><ellipse cx="54.9" cy="54.4" rx="3.2" ry="0.8" fill="#8bc0e3"/><ellipse cx="61.1" cy="51.8" rx="3.3" ry="0.9" fill="#93c5e6"/><ellipse cx="66.3" cy="49.7" rx="3.0" ry="0.7" fill="#aad2ec"/><ellipse cx="72.1" cy="48.1" rx="1.9" ry="1.1" fill="#93c5e6"/><ellipse cx="76.9" cy="45.9" rx="2.2" ry="1.1" fill="#aad2ec"/><ellipse cx="82.9" cy="43.8" rx="2.4" ry="1.1" fill="#aad2ec"/><ellipse cx="88.3" cy="41.5" rx="2.1" ry="1.1" fill="#aad2ec"/><ellipse cx="94.2" cy="40.0" rx="2.6" ry="0.8" fill="#8bc0e3"/><ellipse cx="98.1" cy="39.0" rx="2.4" ry="0.7" fill="#9ecbe8"/><ellipse cx="103.7" cy="36.5" rx="3.2" ry="0.7" fill="#8bc0e3"/><ellipse cx="110.1" cy="34.9" rx="2.3" ry="0.8" fill="#9ecbe8"/><ellipse cx="116.2" cy="32.2" rx="3.3" ry="0.7" fill="#8bc0e3"/><ellipse cx="121.0" cy="30.3" rx="2.6" ry="0.7" fill="#aad2ec"/><ellipse cx="126.7" cy="28.7" rx="3.4" ry="0.9" fill="#8bc0e3"/><ellipse cx="132.1" cy="26.5" rx="3.2" ry="0.7" fill="#a3cee9"/><ellipse cx="136.1" cy="26.0" rx="3.0" ry="1.0" fill="#93c5e6"/><ellipse cx="143.0" cy="23.1" rx="2.4" ry="0.8" fill="#93c5e6"/><ellipse cx="148.5" cy="21.5" rx="2.2" ry="0.7" fill="#93c5e6"/><ellipse cx="152.2" cy="20.4" rx="3.1" ry="1.0" fill="#9ecbe8"/><ellipse cx="157.6" cy="17.7" rx="2.2" ry="0.7" fill="#8bc0e3"/><ellipse cx="163.6" cy="15.7" rx="3.3" ry="1.0" fill="#9ecbe8"/><ellipse cx="170.8" cy="12.9" rx="2.4" ry="1.0" fill="#aad2ec"/><ellipse cx="176.1" cy="10.8" rx="3.0" ry="0.9" fill="#8bc0e3"/><ellipse cx="180.0" cy="10.3" rx="2.2" ry="0.7" fill="#a3cee9"/><ellipse cx="186.5" cy="8.2" rx="2.0" ry="0.6" fill="#9ecbe8"/><ellipse cx="191.0" cy="6.6" rx="2.1" ry="1.0" fill="#a3cee9"/><ellipse cx="196.1" cy="4.7" rx="2.2" ry="1.1" fill="#a3cee9"/><ellipse cx="202.0" cy="2.5" rx="3.3" ry="1.0" fill="#a3cee9"/><ellipse cx="207.0" cy="-0.0" rx="3.2" ry="1.0" fill="#aad2ec"/><ellipse cx="213.9" cy="-1.2" rx="2.8" ry="1.0" fill="#9ecbe8"/><ellipse cx="218.7" cy="-4.0" rx="2.4" ry="1.0" fill="#aad2ec"/><ellipse cx="224.3" cy="-5.9" rx="2.9" ry="0.8" fill="#a3cee9"/><ellipse cx="229.9" cy="-7.6" rx="2.0" ry="1.1" fill="#8bc0e3"/><ellipse cx="234.2" cy="-9.0" rx="2.7" ry="1.0" fill="#8bc0e3"/><ellipse cx="239.8" cy="-10.5" rx="2.2" ry="1.0" fill="#9ecbe8"/><ellipse cx="245.2" cy="-13.1" rx="3.3" ry="1.1" fill="#a3cee9"/><ellipse cx="249.9" cy="-14.2" rx="3.4" ry="1.0" fill="#a3cee9"/><ellipse cx="255.3" cy="-15.5" rx="2.2" ry="0.8" fill="#93c5e6"/><ellipse cx="260.6" cy="-18.3" rx="2.1" ry="1.0" fill="#8bc0e3"/><ellipse cx="266.1" cy="-20.3" rx="2.7" ry="0.8" fill="#aad2ec"/><ellipse cx="272.8" cy="-22.8" rx="3.0" ry="0.9" fill="#9ecbe8"/><ellipse cx="277.1" cy="-23.4" rx="2.7" ry="1.0" fill="#9ecbe8"/><ellipse cx="283.5" cy="-26.5" rx="3.4" ry="1.1" fill="#8bc0e3"/><ellipse cx="43.6" cy="60.1" rx="2.3" ry="0.8" fill="#9ecbe8"/><ellipse cx="46.8" cy="60.1" rx="2.4" ry="0.7" fill="#aad2ec"/><ellipse cx="53.4" cy="56.7" rx="2.4" ry="0.9" fill="#aad2ec"/><ellipse cx="58.3" cy="55.6" rx="2.0" ry="0.9" fill="#8bc0e3"/><ellipse cx="63.1" cy="54.1" rx="3.4" ry="0.9" fill="#93c5e6"/><ellipse cx="70.1" cy="52.0" rx="2.6" ry="1.0" fill="#aad2ec"/><ellipse cx="73.7" cy="50.7" rx="2.9" ry="0.9" fill="#aad2ec"/><ellipse cx="80.9" cy="47.0" rx="3.0" ry="0.6" fill="#8bc0e3"/><ellipse cx="86.9" cy="45.3" rx="2.2" ry="1.0" fill="#9ecbe8"/><ellipse cx="90.2" cy="44.7" rx="2.4" ry="0.9" fill="#8bc0e3"/><ellipse cx="95.8" cy="42.9" rx="2.4" ry="0.8" fill="#a3cee9"/><ellipse cx="103.3" cy="40.3" rx="2.3" ry="0.6" fill="#93c5e6"/><ellipse cx="107.7" cy="38.5" rx="3.1" ry="1.0" fill="#93c5e6"/><ellipse cx="114.1" cy="36.0" rx="2.6" ry="0.7" fill="#aad2ec"/><ellipse cx="118.6" cy="34.7" rx="2.1" ry="0.7" fill="#9ecbe8"/><ellipse cx="123.5" cy="33.4" rx="2.0" ry="0.6" fill="#8bc0e3"/><ellipse cx="129.0" cy="30.4" rx="2.5" ry="0.6" fill="#a3cee9"/><ellipse cx="135.5" cy="29.0" rx="2.5" ry="0.8" fill="#93c5e6"/><ellipse cx="139.9" cy="26.9" rx="2.4" ry="0.8" fill="#9ecbe8"/><ellipse cx="146.4" cy="24.3" rx="2.3" ry="0.8" fill="#a3cee9"/><ellipse cx="151.2" cy="23.2" rx="2.6" ry="0.9" fill="#a3cee9"/><ellipse cx="156.0" cy="22.1" rx="3.3" ry="1.1" fill="#8bc0e3"/><ellipse cx="162.8" cy="19.2" rx="3.1" ry="0.6" fill="#aad2ec"/><ellipse cx="167.2" cy="17.2" rx="2.8" ry="1.1" fill="#8bc0e3"/><ellipse cx="172.7" cy="15.0" rx="3.2" ry="0.9" fill="#93c5e6"/><ellipse cx="178.7" cy="13.1" rx="3.0" ry="1.0" fill="#9ecbe8"/><ellipse cx="183.5" cy="11.6" rx="2.8" ry="0.8" fill="#a3cee9"/><ellipse cx="187.8" cy="10.2" rx="2.3" ry="0.7" fill="#9ecbe8"/><ellipse cx="194.0" cy="7.6" rx="3.2" ry="0.7" fill="#93c5e6"/><ellipse cx="198.4" cy="6.8" rx="3.0" ry="0.7" fill="#8bc0e3"/><ellipse cx="203.9" cy="4.8" rx="2.1" ry="0.9" fill="#a3cee9"/><ellipse cx="210.3" cy="2.9" rx="2.9" ry="1.0" fill="#9ecbe8"/><ellipse cx="216.5" cy="0.3" rx="3.0" ry="1.0" fill="#93c5e6"/><ellipse cx="221.3" cy="-0.7" rx="2.7" ry="0.9" fill="#8bc0e3"/><ellipse cx="226.4" cy="-2.5" rx="2.2" ry="0.9" fill="#93c5e6"/><ellipse cx="230.7" cy="-4.3" rx="2.0" ry="0.7" fill="#aad2ec"/><ellipse cx="235.8" cy="-6.2" rx="3.3" ry="0.9" fill="#93c5e6"/><ellipse cx="243.1" cy="-9.1" rx="3.2" ry="0.9" fill="#9ecbe8"/><ellipse cx="248.1" cy="-10.2" rx="3.2" ry="0.7" fill="#aad2ec"/><ellipse cx="254.2" cy="-12.6" rx="1.9" ry="0.7" fill="#9ecbe8"/><ellipse cx="258.3" cy="-14.0" rx="3.3" ry="1.0" fill="#93c5e6"/><ellipse cx="265.0" cy="-16.9" rx="2.4" ry="0.8" fill="#a3cee9"/><ellipse cx="268.4" cy="-17.3" rx="2.9" ry="0.7" fill="#9ecbe8"/><ellipse cx="275.4" cy="-21.0" rx="3.4" ry="0.8" fill="#93c5e6"/><ellipse cx="280.3" cy="-22.6" rx="2.3" ry="0.7" fill="#aad2ec"/><ellipse cx="286.7" cy="-24.0" rx="3.2" ry="0.9" fill="#aad2ec"/><ellipse cx="40.1" cy="65.1" rx="3.1" ry="1.1" fill="#93c5e6"/><ellipse cx="44.1" cy="64.1" rx="2.6" ry="0.9" fill="#93c5e6"/><ellipse cx="51.6" cy="60.1" rx="2.2" ry="1.1" fill="#a3cee9"/><ellipse cx="55.9" cy="59.2" rx="2.1" ry="1.1" fill="#8bc0e3"/><ellipse cx="60.8" cy="58.2" rx="2.7" ry="0.8" fill="#a3cee9"/><ellipse cx="66.2" cy="56.2" rx="2.8" ry="0.6" fill="#9ecbe8"/><ellipse cx="73.3" cy="53.5" rx="2.4" ry="0.9" fill="#aad2ec"/><ellipse cx="77.3" cy="51.6" rx="2.6" ry="0.7" fill="#9ecbe8"/><ellipse cx="83.1" cy="50.5" rx="2.0" ry="0.7" fill="#9ecbe8"/><ellipse cx="88.0" cy="47.8" rx="2.7" ry="0.7" fill="#a3cee9"/><ellipse cx="94.2" cy="46.0" rx="2.1" ry="1.0" fill="#a3cee9"/><ellipse cx="100.5" cy="43.1" rx="2.2" ry="0.8" fill="#a3cee9"/><ellipse cx="105.2" cy="41.9" rx="2.3" ry="1.0" fill="#9ecbe8"/><ellipse cx="110.7" cy="39.9" rx="3.0" ry="1.0" fill="#a3cee9"/><ellipse cx="116.6" cy="37.7" rx="3.2" ry="1.0" fill="#aad2ec"/><ellipse cx="119.8" cy="36.7" rx="2.4" ry="1.1" fill="#8bc0e3"/><ellipse cx="126.4" cy="35.2" rx="3.1" ry="1.1" fill="#9ecbe8"/><ellipse cx="130.8" cy="32.4" rx="3.2" ry="0.8" fill="#8bc0e3"/><ellipse cx="136.9" cy="31.4" rx="3.3" ry="0.9" fill="#9ecbe8"/><ellipse cx="142.0" cy="28.9" rx="3.0" ry="0.9" fill="#aad2ec"/><ellipse cx="146.8" cy="27.1" rx="3.3" ry="0.9" fill="#aad2ec"/><ellipse cx="153.6" cy="25.8" rx="2.4" ry="1.0" fill="#8bc0e3"/><ellipse cx="159.4" cy="23.7" rx="3.2" ry="0.8" fill="#9ecbe8"/><ellipse cx="163.6" cy="21.3" rx="1.9" ry="0.7" fill="#aad2ec"/><ellipse cx="168.9" cy="19.1" rx="2.0" ry="0.8" fill="#a3cee9"/><ellipse cx="174.4" cy="17.9" rx="2.0" ry="0.7" fill="#93c5e6"/><ellipse cx="181.7" cy="15.5" rx="2.0" ry="1.0" fill="#a3cee9"/><ellipse cx="185.4" cy="13.5" rx="2.2" ry="0.9" fill="#93c5e6"/><ellipse cx="191.6" cy="12.5" rx="2.2" ry="0.8" fill="#93c5e6"/><ellipse cx="197.0" cy="9.8" rx="2.9" ry="0.8" fill="#93c5e6"/><ellipse cx="203.0" cy="8.3" rx="2.0" ry="0.9" fill="#8bc0e3"/><ellipse cx="208.8" cy="5.7" rx="3.3" ry="1.1" fill="#93c5e6"/><ellipse cx="214.0" cy="4.1" rx="3.4" ry="0.6" fill="#a3cee9"/><ellipse cx="218.8" cy="2.8" rx="2.1" ry="0.6" fill="#9ecbe8"/><ellipse cx="222.6" cy="1.4" rx="2.0" ry="1.0" fill="#8bc0e3"/><ellipse cx="228.6" cy="-0.8" rx="3.2" ry="0.7" fill="#a3cee9"/><ellipse cx="234.6" cy="-3.5" rx="2.8" ry="1.0" fill="#8bc0e3"/><ellipse cx="240.5" cy="-4.8" rx="2.4" ry="1.0" fill="#8bc0e3"/><ellipse cx="245.4" cy="-7.1" rx="2.7" ry="0.8" fill="#aad2ec"/><ellipse cx="249.2" cy="-8.3" rx="2.9" ry="1.0" fill="#aad2ec"/><ellipse cx="255.0" cy="-10.1" rx="2.5" ry="1.1" fill="#93c5e6"/><ellipse cx="261.7" cy="-13.2" rx="2.7" ry="0.7" fill="#9ecbe8"/><ellipse cx="266.1" cy="-14.0" rx="3.0" ry="1.1" fill="#9ecbe8"/><ellipse cx="272.3" cy="-16.5" rx="3.0" ry="0.8" fill="#8bc0e3"/><ellipse cx="276.8" cy="-17.3" rx="3.3" ry="0.8" fill="#9ecbe8"/><ellipse cx="282.5" cy="-19.3" rx="2.1" ry="1.0" fill="#93c5e6"/><ellipse cx="43.6" cy="67.1" rx="2.9" ry="0.8" fill="#9ecbe8"/><ellipse cx="48.3" cy="64.7" rx="3.3" ry="1.1" fill="#9ecbe8"/><ellipse cx="52.2" cy="62.8" rx="3.0" ry="0.7" fill="#aad2ec"/><ellipse cx="58.1" cy="61.8" rx="2.9" ry="0.8" fill="#8bc0e3"/><ellipse cx="63.5" cy="59.6" rx="2.1" ry="1.1" fill="#aad2ec"/><ellipse cx="71.0" cy="56.4" rx="2.4" ry="0.6" fill="#93c5e6"/><ellipse cx="75.1" cy="56.0" rx="2.1" ry="1.0" fill="#a3cee9"/><ellipse cx="81.8" cy="52.7" rx="2.0" ry="1.0" fill="#aad2ec"/><ellipse cx="84.6" cy="52.5" rx="2.6" ry="0.8" fill="#9ecbe8"/><ellipse cx="92.7" cy="49.0" rx="1.9" ry="0.7" fill="#93c5e6"/><ellipse cx="95.7" cy="48.0" rx="2.7" ry="0.8" fill="#9ecbe8"/><ellipse cx="102.0" cy="45.9" rx="2.5" ry="1.0" fill="#8bc0e3"/><ellipse cx="108.6" cy="44.4" rx="1.9" ry="0.7" fill="#93c5e6"/><ellipse cx="111.6" cy="42.7" rx="2.2" ry="0.8" fill="#93c5e6"/><ellipse cx="118.9" cy="39.5" rx="3.2" ry="0.6" fill="#93c5e6"/><ellipse cx="122.6" cy="38.8" rx="2.1" ry="0.8" fill="#9ecbe8"/><ellipse cx="128.3" cy="36.9" rx="2.8" ry="0.9" fill="#93c5e6"/><ellipse cx="134.6" cy="35.2" rx="3.3" ry="0.6" fill="#9ecbe8"/><ellipse cx="140.9" cy="33.1" rx="2.2" ry="0.6" fill="#9ecbe8"/><ellipse cx="143.9" cy="31.1" rx="3.3" ry="0.7" fill="#93c5e6"/><ellipse cx="150.4" cy="29.2" rx="2.4" ry="0.6" fill="#93c5e6"/><ellipse cx="156.5" cy="27.1" rx="2.7" ry="1.0" fill="#aad2ec"/><ellipse cx="161.2" cy="25.1" rx="2.5" ry="1.1" fill="#8bc0e3"/><ellipse cx="167.6" cy="23.7" rx="3.1" ry="1.1" fill="#93c5e6"/><ellipse cx="171.6" cy="21.8" rx="3.4" ry="1.0" fill="#8bc0e3"/><ellipse cx="179.1" cy="19.6" rx="2.9" ry="0.6" fill="#a3cee9"/><ellipse cx="183.9" cy="18.0" rx="2.0" ry="1.0" fill="#aad2ec"/><ellipse cx="189.0" cy="15.6" rx="2.9" ry="0.9" fill="#a3cee9"/><ellipse cx="192.5" cy="14.8" rx="3.2" ry="0.9" fill="#a3cee9"/><ellipse cx="199.4" cy="11.9" rx="3.1" ry="1.0" fill="#8bc0e3"/><ellipse cx="204.3" cy="9.7" rx="3.4" ry="0.7" fill="#aad2ec"/><ellipse cx="208.9" cy="9.1" rx="2.9" ry="1.1" fill="#aad2ec"/><ellipse cx="214.8" cy="7.1" rx="3.2" ry="0.8" fill="#a3cee9"/><ellipse cx="220.8" cy="4.2" rx="2.1" ry="1.1" fill="#a3cee9"/><ellipse cx="225.9" cy="2.4" rx="2.2" ry="0.8" fill="#9ecbe8"/><ellipse cx="230.7" cy="1.3" rx="2.2" ry="1.1" fill="#93c5e6"/><ellipse cx="236.6" cy="-1.1" rx="3.2" ry="0.8" fill="#8bc0e3"/><ellipse cx="241.5" cy="-3.0" rx="2.1" ry="0.8" fill="#a3cee9"/><ellipse cx="248.0" cy="-5.0" rx="2.0" ry="0.8" fill="#8bc0e3"/><ellipse cx="253.8" cy="-7.0" rx="2.6" ry="1.0" fill="#a3cee9"/><ellipse cx="257.7" cy="-8.1" rx="2.5" ry="0.9" fill="#9ecbe8"/><ellipse cx="264.4" cy="-10.6" rx="3.1" ry="0.7" fill="#a3cee9"/><ellipse cx="268.7" cy="-12.1" rx="2.0" ry="0.7" fill="#a3cee9"/><ellipse cx="274.3" cy="-14.4" rx="2.3" ry="1.1" fill="#93c5e6"/><ellipse cx="280.4" cy="-16.3" rx="2.0" ry="0.7" fill="#aad2ec"/><ellipse cx="286.0" cy="-18.4" rx="2.0" ry="0.8" fill="#aad2ec"/><ellipse cx="38.7" cy="71.4" rx="3.4" ry="0.8" fill="#a3cee9"/><ellipse cx="46.3" cy="68.2" rx="2.5" ry="0.9" fill="#a3cee9"/><ellipse cx="49.9" cy="67.8" rx="3.0" ry="0.8" fill="#9ecbe8"/><ellipse cx="55.7" cy="64.5" rx="3.0" ry="0.8" fill="#a3cee9"/><ellipse cx="61.4" cy="63.8" rx="2.9" ry="1.0" fill="#93c5e6"/><ellipse cx="67.3" cy="61.1" rx="2.6" ry="1.1" fill="#8bc0e3"/><ellipse cx="73.8" cy="58.4" rx="2.0" ry="0.8" fill="#9ecbe8"/><ellipse cx="77.8" cy="57.9" rx="2.9" ry="1.0" fill="#8bc0e3"/><ellipse cx="83.3" cy="56.1" rx="2.3" ry="0.8" fill="#8bc0e3"/><ellipse cx="89.4" cy="52.9" rx="2.2" ry="0.6" fill="#93c5e6"/><ellipse cx="92.9" cy="51.6" rx="3.0" ry="0.9" fill="#93c5e6"/><ellipse cx="100.3" cy="49.1" rx="2.4" ry="1.1" fill="#a3cee9"/><ellipse cx="105.3" cy="47.7" rx="2.8" ry="1.1" fill="#93c5e6"/><ellipse cx="111.2" cy="45.2" rx="2.4" ry="0.9" fill="#93c5e6"/><ellipse cx="114.7" cy="44.6" rx="2.7" ry="0.6" fill="#8bc0e3"/><ellipse cx="120.3" cy="43.1" rx="2.7" ry="0.9" fill="#8bc0e3"/><ellipse cx="126.9" cy="40.0" rx="2.3" ry="0.8" fill="#8bc0e3"/><ellipse cx="132.8" cy="37.9" rx="2.2" ry="0.6" fill="#a3cee9"/><ellipse cx="137.6" cy="37.1" rx="2.9" ry="1.0" fill="#9ecbe8"/><ellipse cx="142.2" cy="35.3" rx="2.2" ry="1.1" fill="#a3cee9"/><ellipse cx="148.5" cy="33.1" rx="1.9" ry="0.6" fill="#a3cee9"/><ellipse cx="154.3" cy="30.0" rx="2.2" ry="0.8" fill="#9ecbe8"/><ellipse cx="159.4" cy="29.3" rx="2.8" ry="0.9" fill="#8bc0e3"/><ellipse cx="163.4" cy="27.1" rx="2.2" ry="1.1" fill="#93c5e6"/><ellipse cx="168.3" cy="26.3" rx="2.0" ry="0.9" fill="#9ecbe8"/><ellipse cx="173.6" cy="24.3" rx="3.0" ry="0.7" fill="#9ecbe8"/><ellipse cx="180.9" cy="21.7" rx="2.3" ry="0.7" fill="#9ecbe8"/><ellipse cx="184.8" cy="20.6" rx="2.2" ry="0.7" fill="#93c5e6"/><ellipse cx="190.4" cy="17.5" rx="2.0" ry="0.7" fill="#aad2ec"/><ellipse cx="197.2" cy="15.6" rx="2.5" ry="1.1" fill="#9ecbe8"/><ellipse cx="200.7" cy="15.0" rx="2.3" ry="0.7" fill="#a3cee9"/><ellipse cx="208.2" cy="12.1" rx="3.0" ry="0.8" fill="#aad2ec"/><ellipse cx="212.3" cy="10.9" rx="2.1" ry="1.0" fill="#9ecbe8"/><ellipse cx="217.9" cy="7.8" rx="2.5" ry="1.0" fill="#9ecbe8"/><ellipse cx="224.0" cy="6.6" rx="2.2" ry="0.7" fill="#9ecbe8"/><ellipse cx="228.8" cy="4.9" rx="2.1" ry="1.1" fill="#93c5e6"/><ellipse cx="234.8" cy="2.2" rx="2.9" ry="0.9" fill="#93c5e6"/><ellipse cx="239.2" cy="0.8" rx="3.0" ry="0.9" fill="#93c5e6"/><ellipse cx="244.4" cy="-1.1" rx="2.4" ry="0.9" fill="#93c5e6"/><ellipse cx="249.8" cy="-2.7" rx="3.1" ry="1.0" fill="#9ecbe8"/><ellipse cx="256.2" cy="-5.2" rx="2.8" ry="0.7" fill="#93c5e6"/><ellipse cx="261.0" cy="-5.9" rx="2.9" ry="0.6" fill="#aad2ec"/><ellipse cx="266.4" cy="-8.5" rx="2.4" ry="0.8" fill="#93c5e6"/><ellipse cx="273.0" cy="-11.1" rx="2.0" ry="0.9" fill="#93c5e6"/><ellipse cx="278.3" cy="-13.2" rx="2.1" ry="0.8" fill="#93c5e6"/><ellipse cx="281.7" cy="-13.8" rx="2.0" ry="1.0" fill="#9ecbe8"/><ellipse cx="42.5" cy="73.1" rx="2.0" ry="1.0" fill="#9ecbe8"/><ellipse cx="47.7" cy="71.1" rx="2.0" ry="0.6" fill="#8bc0e3"/><ellipse cx="52.9" cy="68.7" rx="2.1" ry="0.7" fill="#9ecbe8"/><ellipse cx="58.9" cy="67.0" rx="2.1" ry="0.9" fill="#9ecbe8"/><ellipse cx="64.5" cy="64.3" rx="2.3" ry="1.1" fill="#aad2ec"/><ellipse cx="69.4" cy="62.8" rx="2.1" ry="0.7" fill="#a3cee9"/><ellipse cx="75.1" cy="61.8" rx="1.9" ry="1.1" fill="#8bc0e3"/><ellipse cx="81.3" cy="59.4" rx="2.2" ry="1.0" fill="#93c5e6"/><ellipse cx="86.6" cy="56.8" rx="2.3" ry="0.6" fill="#8bc0e3"/><ellipse cx="91.6" cy="54.9" rx="2.8" ry="0.7" fill="#a3cee9"/><ellipse cx="95.9" cy="53.6" rx="3.1" ry="0.9" fill="#93c5e6"/><ellipse cx="103.0" cy="50.9" rx="2.4" ry="0.7" fill="#9ecbe8"/><ellipse cx="107.8" cy="50.1" rx="3.1" ry="0.8" fill="#8bc0e3"/><ellipse cx="113.2" cy="47.5" rx="2.4" ry="1.1" fill="#8bc0e3"/><ellipse cx="117.0" cy="47.0" rx="2.1" ry="0.9" fill="#9ecbe8"/><ellipse cx="122.7" cy="44.4" rx="2.1" ry="0.7" fill="#9ecbe8"/><ellipse cx="129.6" cy="42.5" rx="2.0" ry="0.6" fill="#8bc0e3"/><ellipse cx="133.2" cy="41.0" rx="2.4" ry="0.6" fill="#a3cee9"/><ellipse cx="140.3" cy="38.1" rx="2.8" ry="1.1" fill="#8bc0e3"/><ellipse cx="144.2" cy="37.4" rx="2.4" ry="0.7" fill="#8bc0e3"/><ellipse cx="151.2" cy="35.0" rx="2.1" ry="1.1" fill="#aad2ec"/><ellipse cx="157.2" cy="32.9" rx="3.1" ry="1.0" fill="#a3cee9"/><ellipse cx="160.6" cy="31.3" rx="2.9" ry="1.1" fill="#a3cee9"/><ellipse cx="166.3" cy="30.0" rx="2.7" ry="1.1" fill="#93c5e6"/><ellipse cx="171.1" cy="28.1" rx="3.1" ry="1.0" fill="#9ecbe8"/><ellipse cx="177.0" cy="25.8" rx="2.7" ry="1.1" fill="#a3cee9"/><ellipse cx="184.2" cy="23.4" rx="3.0" ry="0.8" fill="#8bc0e3"/><ellipse cx="189.3" cy="21.6" rx="3.3" ry="1.1" fill="#8bc0e3"/><ellipse cx="195.2" cy="18.9" rx="2.9" ry="1.0" fill="#a3cee9"/><ellipse cx="200.4" cy="17.4" rx="2.4" ry="0.8" fill="#a3cee9"/><ellipse cx="203.3" cy="15.9" rx="3.1" ry="0.8" fill="#a3cee9"/><ellipse cx="209.5" cy="13.8" rx="2.7" ry="0.6" fill="#8bc0e3"/><ellipse cx="216.5" cy="12.0" rx="2.3" ry="0.6" fill="#aad2ec"/><ellipse cx="220.0" cy="11.2" rx="2.5" ry="0.9" fill="#9ecbe8"/><ellipse cx="225.2" cy="9.1" rx="2.0" ry="1.1" fill="#9ecbe8"/><ellipse cx="231.4" cy="6.4" rx="2.1" ry="0.7" fill="#aad2ec"/><ellipse cx="238.2" cy="4.4" rx="3.2" ry="0.8" fill="#8bc0e3"/><ellipse cx="242.0" cy="3.5" rx="3.1" ry="0.9" fill="#9ecbe8"/><ellipse cx="247.6" cy="0.3" rx="3.2" ry="0.7" fill="#9ecbe8"/><ellipse cx="253.2" cy="-0.5" rx="2.3" ry="0.8" fill="#93c5e6"/><ellipse cx="260.1" cy="-3.0" rx="3.0" ry="1.0" fill="#9ecbe8"/><ellipse cx="265.3" cy="-4.6" rx="2.9" ry="0.6" fill="#a3cee9"/><ellipse cx="269.0" cy="-6.8" rx="2.3" ry="0.8" fill="#8bc0e3"/><ellipse cx="276.1" cy="-8.5" rx="2.0" ry="1.0" fill="#8bc0e3"/><ellipse cx="279.9" cy="-9.6" rx="2.0" ry="1.1" fill="#93c5e6"/><ellipse cx="285.9" cy="-12.4" rx="3.0" ry="1.1" fill="#a3cee9"/><ellipse cx="40.7" cy="75.5" rx="2.4" ry="0.7" fill="#aad2ec"/><ellipse cx="44.4" cy="75.0" rx="2.8" ry="0.6" fill="#8bc0e3"/><ellipse cx="49.9" cy="73.1" rx="3.4" ry="0.9" fill="#9ecbe8"/><ellipse cx="55.6" cy="71.0" rx="2.5" ry="1.1" fill="#93c5e6"/><ellipse cx="62.5" cy="68.8" rx="2.5" ry="1.1" fill="#aad2ec"/><ellipse cx="67.5" cy="66.5" rx="2.1" ry="0.9" fill="#93c5e6"/><ellipse cx="73.2" cy="64.6" rx="2.1" ry="0.9" fill="#93c5e6"/><ellipse cx="76.9" cy="63.9" rx="2.2" ry="0.8" fill="#93c5e6"/><ellipse cx="83.4" cy="61.9" rx="3.1" ry="0.8" fill="#9ecbe8"/><ellipse cx="88.0" cy="60.2" rx="2.6" ry="0.9" fill="#8bc0e3"/><ellipse cx="93.7" cy="57.9" rx="2.4" ry="0.8" fill="#8bc0e3"/><ellipse cx="98.7" cy="55.5" rx="3.3" ry="0.8" fill="#8bc0e3"/><ellipse cx="105.2" cy="54.0" rx="2.4" ry="0.7" fill="#a3cee9"/><ellipse cx="110.1" cy="52.0" rx="2.9" ry="1.0" fill="#aad2ec"/><ellipse cx="115.3" cy="50.4" rx="2.5" ry="1.0" fill="#93c5e6"/><ellipse cx="120.3" cy="48.7" rx="2.0" ry="1.1" fill="#a3cee9"/><ellipse cx="125.9" cy="46.6" rx="2.4" ry="1.1" fill="#93c5e6"/><ellipse cx="132.9" cy="43.4" rx="2.8" ry="1.1" fill="#93c5e6"/><ellipse cx="138.4" cy="41.6" rx="2.2" ry="1.0" fill="#93c5e6"/><ellipse cx="143.4" cy="40.2" rx="3.3" ry="1.0" fill="#aad2ec"/><ellipse cx="147.7" cy="38.8" rx="2.4" ry="1.1" fill="#9ecbe8"/><ellipse cx="153.5" cy="36.8" rx="2.9" ry="1.1" fill="#9ecbe8"/><ellipse cx="158.0" cy="35.5" rx="3.3" ry="0.6" fill="#93c5e6"/><ellipse cx="165.2" cy="32.9" rx="2.8" ry="0.8" fill="#a3cee9"/><ellipse cx="170.2" cy="31.3" rx="2.9" ry="1.1" fill="#9ecbe8"/><ellipse cx="174.0" cy="29.8" rx="3.0" ry="0.9" fill="#aad2ec"/><ellipse cx="181.5" cy="27.3" rx="3.1" ry="1.0" fill="#aad2ec"/><ellipse cx="184.8" cy="26.1" rx="3.0" ry="0.9" fill="#aad2ec"/><ellipse cx="191.8" cy="23.8" rx="2.8" ry="0.9" fill="#a3cee9"/><ellipse cx="195.8" cy="21.6" rx="2.0" ry="1.0" fill="#93c5e6"/><ellipse cx="201.6" cy="20.3" rx="2.0" ry="1.1" fill="#aad2ec"/><ellipse cx="206.6" cy="18.2" rx="3.0" ry="0.8" fill="#a3cee9"/><ellipse cx="211.6" cy="16.4" rx="2.7" ry="1.0" fill="#93c5e6"/><ellipse cx="218.3" cy="14.1" rx="2.6" ry="0.8" fill="#aad2ec"/><ellipse cx="224.9" cy="11.9" rx="2.2" ry="0.9" fill="#9ecbe8"/><ellipse cx="228.4" cy="11.3" rx="2.8" ry="1.0" fill="#9ecbe8"/><ellipse cx="235.2" cy="7.6" rx="2.7" ry="0.8" fill="#93c5e6"/><ellipse cx="241.1" cy="5.9" rx="2.0" ry="0.7" fill="#8bc0e3"/><ellipse cx="245.2" cy="4.9" rx="2.2" ry="1.1" fill="#93c5e6"/><ellipse cx="251.5" cy="3.2" rx="2.4" ry="1.1" fill="#93c5e6"/><ellipse cx="256.4" cy="0.9" rx="2.5" ry="1.1" fill="#a3cee9"/><ellipse cx="261.3" cy="-1.1" rx="2.2" ry="0.8" fill="#aad2ec"/><ellipse cx="267.5" cy="-3.6" rx="3.2" ry="0.6" fill="#9ecbe8"/><ellipse cx="273.0" cy="-4.6" rx="3.1" ry="0.7" fill="#aad2ec"/><ellipse cx="278.3" cy="-6.2" rx="3.3" ry="1.0" fill="#93c5e6"/><ellipse cx="281.8" cy="-8.4" rx="1.9" ry="1.1" fill="#a3cee9"/><ellipse cx="42.0" cy="78.4" rx="2.1" ry="0.9" fill="#aad2ec"/><ellipse cx="47.6" cy="76.0" rx="2.2" ry="0.8" fill="#93c5e6"/><ellipse cx="54.4" cy="74.3" rx="2.1" ry="0.7" fill="#9ecbe8"/><ellipse cx="58.5" cy="73.4" rx="2.6" ry="0.6" fill="#aad2ec"/><ellipse cx="65.1" cy="70.5" rx="3.1" ry="0.7" fill="#93c5e6"/><ellipse cx="69.8" cy="68.6" rx="2.5" ry="0.8" fill="#93c5e6"/><ellipse cx="76.3" cy="66.2" rx="2.3" ry="1.0" fill="#a3cee9"/><ellipse cx="80.3" cy="65.6" rx="2.5" ry="1.0" fill="#8bc0e3"/><ellipse cx="84.9" cy="63.0" rx="2.2" ry="0.9" fill="#8bc0e3"/><ellipse cx="90.0" cy="62.3" rx="3.4" ry="0.6" fill="#93c5e6"/><ellipse cx="95.9" cy="59.9" rx="3.3" ry="1.1" fill="#aad2ec"/><ellipse cx="102.4" cy="58.1" rx="2.6" ry="1.0" fill="#9ecbe8"/><ellipse cx="106.1" cy="55.8" rx="2.4" ry="1.1" fill="#93c5e6"/><ellipse cx="113.2" cy="53.2" rx="2.2" ry="0.9" fill="#a3cee9"/><ellipse cx="119.5" cy="51.8" rx="3.3" ry="1.0" fill="#a3cee9"/><ellipse cx="124.3" cy="49.2" rx="2.6" ry="0.8" fill="#9ecbe8"/><ellipse cx="129.7" cy="47.9" rx="3.2" ry="0.9" fill="#93c5e6"/><ellipse cx="135.6" cy="46.1" rx="2.0" ry="0.7" fill="#9ecbe8"/><ellipse cx="138.5" cy="45.0" rx="3.0" ry="0.7" fill="#93c5e6"/><ellipse cx="144.6" cy="43.4" rx="2.2" ry="0.6" fill="#8bc0e3"/><ellipse cx="149.4" cy="40.7" rx="3.3" ry="0.7" fill="#93c5e6"/><ellipse cx="157.3" cy="38.5" rx="3.3" ry="0.7" fill="#9ecbe8"/><ellipse cx="161.4" cy="36.9" rx="3.3" ry="1.0" fill="#93c5e6"/><ellipse cx="166.0" cy="35.7" rx="2.1" ry="0.9" fill="#93c5e6"/><ellipse cx="172.3" cy="33.7" rx="2.5" ry="1.1" fill="#93c5e6"/><ellipse cx="178.7" cy="31.0" rx="3.1" ry="0.9" fill="#a3cee9"/><ellipse cx="183.4" cy="29.6" rx="2.7" ry="1.0" fill="#a3cee9"/><ellipse cx="188.8" cy="27.3" rx="2.9" ry="0.9" fill="#9ecbe8"/><ellipse cx="192.6" cy="26.5" rx="3.1" ry="0.9" fill="#93c5e6"/><ellipse cx="199.9" cy="23.8" rx="2.9" ry="1.1" fill="#a3cee9"/><ellipse cx="206.0" cy="21.4" rx="2.4" ry="0.7" fill="#9ecbe8"/><ellipse cx="211.1" cy="20.1" rx="2.1" ry="0.8" fill="#aad2ec"/><ellipse cx="215.0" cy="17.9" rx="2.6" ry="0.9" fill="#aad2ec"/><ellipse cx="221.7" cy="15.2" rx="2.0" ry="0.7" fill="#a3cee9"/><ellipse cx="225.5" cy="14.4" rx="3.4" ry="1.1" fill="#a3cee9"/><ellipse cx="232.1" cy="12.8" rx="3.0" ry="1.0" fill="#93c5e6"/><ellipse cx="238.0" cy="10.4" rx="1.9" ry="1.0" fill="#8bc0e3"/><ellipse cx="243.3" cy="7.7" rx="2.8" ry="0.8" fill="#aad2ec"/><ellipse cx="248.5" cy="6.2" rx="2.4" ry="0.8" fill="#aad2ec"/><ellipse cx="253.0" cy="4.5" rx="2.1" ry="1.1" fill="#8bc0e3"/><ellipse cx="259.4" cy="3.1" rx="3.4" ry="1.0" fill="#aad2ec"/><ellipse cx="265.0" cy="0.1" rx="2.7" ry="0.8" fill="#a3cee9"/><ellipse cx="270.6" cy="-0.6" rx="2.4" ry="1.0" fill="#9ecbe8"/><ellipse cx="276.0" cy="-2.7" rx="2.7" ry="0.7" fill="#aad2ec"/><ellipse cx="280.1" cy="-4.8" rx="2.0" ry="0.7" fill="#8bc0e3"/><ellipse cx="284.8" cy="-6.1" rx="2.9" ry="0.9" fill="#8bc0e3"/><ellipse cx="41.2" cy="81.8" rx="3.1" ry="0.9" fill="#9ecbe8"/><ellipse cx="44.6" cy="81.0" rx="3.2" ry="1.0" fill="#8bc0e3"/><ellipse cx="51.4" cy="78.9" rx="2.2" ry="0.8" fill="#9ecbe8"/><ellipse cx="56.7" cy="76.7" rx="3.0" ry="0.7" fill="#aad2ec"/><ellipse cx="62.9" cy="73.7" rx="3.2" ry="1.0" fill="#a3cee9"/><ellipse cx="68.3" cy="72.5" rx="2.8" ry="1.0" fill="#a3cee9"/><ellipse cx="71.2" cy="71.2" rx="2.0" ry="1.0" fill="#a3cee9"/><ellipse cx="76.4" cy="69.3" rx="2.1" ry="0.7" fill="#8bc0e3"/><ellipse cx="83.6" cy="67.0" rx="3.2" ry="1.1" fill="#8bc0e3"/><ellipse cx="87.7" cy="65.0" rx="2.4" ry="0.8" fill="#9ecbe8"/><ellipse cx="93.8" cy="63.7" rx="2.0" ry="1.1" fill="#aad2ec"/><ellipse cx="98.9" cy="61.2" rx="2.5" ry="1.0" fill="#93c5e6"/><ellipse cx="105.8" cy="59.7" rx="2.9" ry="0.8" fill="#93c5e6"/><ellipse cx="111.2" cy="56.8" rx="2.0" ry="1.0" fill="#a3cee9"/><ellipse cx="115.1" cy="55.7" rx="2.0" ry="0.9" fill="#93c5e6"/><ellipse cx="120.7" cy="54.3" rx="2.8" ry="0.7" fill="#93c5e6"/><ellipse cx="125.8" cy="51.9" rx="3.3" ry="1.1" fill="#aad2ec"/><ellipse cx="131.4" cy="50.6" rx="2.1" ry="1.0" fill="#aad2ec"/><ellipse cx="136.8" cy="47.9" rx="2.9" ry="1.1" fill="#9ecbe8"/><ellipse cx="142.0" cy="46.4" rx="3.0" ry="0.7" fill="#9ecbe8"/><ellipse cx="149.1" cy="44.5" rx="3.2" ry="0.7" fill="#8bc0e3"/><ellipse cx="152.7" cy="42.2" rx="2.0" ry="0.8" fill="#aad2ec"/><ellipse cx="158.1" cy="40.3" rx="2.6" ry="0.7" fill="#8bc0e3"/><ellipse cx="164.4" cy="38.8" rx="2.5" ry="0.9" fill="#9ecbe8"/><ellipse cx="170.7" cy="36.4" rx="2.0" ry="0.7" fill="#aad2ec"/><ellipse cx="174.6" cy="35.2" rx="3.3" ry="0.9" fill="#93c5e6"/><ellipse cx="180.4" cy="33.1" rx="2.2" ry="0.9" fill="#8bc0e3"/><ellipse cx="184.7" cy="32.3" rx="2.7" ry="0.7" fill="#9ecbe8"/><ellipse cx="191.2" cy="29.1" rx="2.1" ry="0.9" fill="#8bc0e3"/><ellipse cx="197.8" cy="27.1" rx="3.0" ry="0.6" fill="#8bc0e3"/><ellipse cx="202.4" cy="24.9" rx="2.3" ry="1.0" fill="#93c5e6"/><ellipse cx="206.3" cy="24.8" rx="2.6" ry="0.7" fill="#93c5e6"/><ellipse cx="213.2" cy="22.2" rx="3.3" ry="1.0" fill="#93c5e6"/><ellipse cx="218.3" cy="19.6" rx="2.6" ry="0.9" fill="#aad2ec"/><ellipse cx="222.6" cy="18.9" rx="3.3" ry="1.0" fill="#aad2ec"/><ellipse cx="229.4" cy="16.3" rx="2.9" ry="0.6" fill="#8bc0e3"/><ellipse cx="235.5" cy="13.3" rx="2.2" ry="0.6" fill="#8bc0e3"/><ellipse cx="241.1" cy="12.4" rx="2.4" ry="0.8" fill="#9ecbe8"/><ellipse cx="246.4" cy="10.0" rx="2.9" ry="0.6" fill="#8bc0e3"/><ellipse cx="249.9" cy="8.9" rx="2.7" ry="1.1" fill="#8bc0e3"/><ellipse cx="256.5" cy="6.2" rx="3.3" ry="0.7" fill="#8bc0e3"/><ellipse cx="260.6" cy="5.9" rx="2.6" ry="0.7" fill="#aad2ec"/><ellipse cx="265.5" cy="3.0" rx="2.5" ry="1.0" fill="#a3cee9"/><ellipse cx="271.8" cy="0.8" rx="3.1" ry="0.6" fill="#a3cee9"/><ellipse cx="278.5" cy="-0.9" rx="2.6" ry="0.9" fill="#8bc0e3"/><ellipse cx="282.0" cy="-2.7" rx="2.1" ry="1.1" fill="#9ecbe8"/><ellipse cx="43.8" cy="84.5" rx="2.1" ry="0.8" fill="#93c5e6"/><ellipse cx="47.2" cy="82.5" rx="2.0" ry="1.1" fill="#8bc0e3"/><ellipse cx="52.8" cy="80.8" rx="2.2" ry="0.7" fill="#aad2ec"/><ellipse cx="60.2" cy="78.4" rx="2.0" ry="0.8" fill="#93c5e6"/><ellipse cx="65.6" cy="76.7" rx="2.0" ry="1.0" fill="#9ecbe8"/><ellipse cx="70.7" cy="74.3" rx="2.7" ry="1.1" fill="#a3cee9"/><ellipse cx="75.3" cy="72.7" rx="2.6" ry="0.9" fill="#aad2ec"/><ellipse cx="81.6" cy="71.2" rx="2.2" ry="0.6" fill="#aad2ec"/><ellipse cx="86.1" cy="68.6" rx="2.9" ry="0.7" fill="#9ecbe8"/><ellipse cx="91.1" cy="67.9" rx="2.3" ry="1.1" fill="#93c5e6"/><ellipse cx="97.0" cy="65.2" rx="2.9" ry="1.0" fill="#93c5e6"/><ellipse cx="101.9" cy="63.3" rx="3.0" ry="1.1" fill="#9ecbe8"/><ellipse cx="107.4" cy="61.3" rx="3.4" ry="1.1" fill="#93c5e6"/><ellipse cx="114.2" cy="58.8" rx="2.5" ry="1.1" fill="#9ecbe8"/><ellipse cx="117.9" cy="58.2" rx="2.5" ry="0.9" fill="#aad2ec"/><ellipse cx="122.7" cy="55.9" rx="2.2" ry="0.7" fill="#93c5e6"/><ellipse cx="129.1" cy="54.5" rx="2.8" ry="1.0" fill="#8bc0e3"/><ellipse cx="134.7" cy="52.7" rx="2.8" ry="0.8" fill="#8bc0e3"/><ellipse cx="139.4" cy="50.8" rx="2.9" ry="1.0" fill="#9ecbe8"/><ellipse cx="145.0" cy="47.9" rx="2.8" ry="0.8" fill="#a3cee9"/><ellipse cx="151.1" cy="46.5" rx="3.0" ry="1.1" fill="#9ecbe8"/><ellipse cx="155.7" cy="45.2" rx="2.9" ry="0.7" fill="#93c5e6"/><ellipse cx="161.8" cy="43.1" rx="3.2" ry="0.9" fill="#9ecbe8"/><ellipse cx="168.0" cy="40.5" rx="2.5" ry="0.9" fill="#93c5e6"/><ellipse cx="171.1" cy="38.6" rx="2.2" ry="1.0" fill="#93c5e6"/><ellipse cx="176.8" cy="36.9" rx="3.3" ry="1.0" fill="#9ecbe8"/><ellipse cx="181.8" cy="35.1" rx="3.3" ry="1.1" fill="#9ecbe8"/><ellipse cx="188.4" cy="32.7" rx="2.4" ry="0.8" fill="#8bc0e3"/><ellipse cx="194.9" cy="30.8" rx="3.3" ry="0.7" fill="#aad2ec"/><ellipse cx="198.2" cy="30.1" rx="2.9" ry="0.7" fill="#aad2ec"/><ellipse cx="204.3" cy="27.7" rx="2.2" ry="1.1" fill="#a3cee9"/><ellipse cx="211.0" cy="25.8" rx="3.2" ry="0.8" fill="#aad2ec"/><ellipse cx="216.1" cy="23.2" rx="3.1" ry="1.0" fill="#93c5e6"/><ellipse cx="219.7" cy="21.9" rx="3.1" ry="0.8" fill="#8bc0e3"/><ellipse cx="227.1" cy="19.4" rx="2.0" ry="1.0" fill="#a3cee9"/><ellipse cx="231.5" cy="17.5" rx="3.3" ry="0.7" fill="#8bc0e3"/><ellipse cx="236.4" cy="16.2" rx="2.5" ry="0.9" fill="#93c5e6"/><ellipse cx="241.2" cy="15.2" rx="2.2" ry="0.8" fill="#8bc0e3"/><ellipse cx="248.2" cy="13.0" rx="2.2" ry="0.8" fill="#aad2ec"/><ellipse cx="252.3" cy="10.4" rx="2.6" ry="0.8" fill="#aad2ec"/><ellipse cx="258.4" cy="8.9" rx="2.4" ry="1.0" fill="#aad2ec"/><ellipse cx="262.9" cy="6.6" rx="2.7" ry="0.7" fill="#9ecbe8"/><ellipse cx="269.4" cy="4.6" rx="2.1" ry="0.9" fill="#a3cee9"/><ellipse cx="275.9" cy="3.0" rx="2.6" ry="0.8" fill="#93c5e6"/><ellipse cx="279.2" cy="1.0" rx="2.5" ry="0.9" fill="#aad2ec"/><ellipse cx="286.5" cy="-1.0" rx="2.6" ry="1.1" fill="#8bc0e3"/><ellipse cx="40.8" cy="87.6" rx="2.6" ry="1.1" fill="#aad2ec"/><ellipse cx="45.7" cy="85.5" rx="2.6" ry="1.0" fill="#aad2ec"/><ellipse cx="49.8" cy="85.1" rx="3.3" ry="0.9" fill="#93c5e6"/><ellipse cx="56.1" cy="82.6" rx="2.3" ry="0.6" fill="#aad2ec"/><ellipse cx="61.4" cy="80.0" rx="2.5" ry="0.7" fill="#93c5e6"/><ellipse cx="65.7" cy="79.6" rx="2.9" ry="0.9" fill="#93c5e6"/><ellipse cx="71.9" cy="77.3" rx="2.8" ry="0.8" fill="#9ecbe8"/><ellipse cx="76.9" cy="75.5" rx="2.5" ry="0.8" fill="#93c5e6"/><ellipse cx="84.3" cy="72.5" rx="2.7" ry="0.7" fill="#8bc0e3"/><ellipse cx="88.5" cy="71.7" rx="2.8" ry="0.8" fill="#8bc0e3"/><ellipse cx="93.7" cy="68.9" rx="3.1" ry="1.0" fill="#8bc0e3"/><ellipse cx="98.3" cy="68.1" rx="2.4" ry="0.7" fill="#aad2ec"/><ellipse cx="104.8" cy="65.8" rx="2.9" ry="1.1" fill="#a3cee9"/><ellipse cx="109.7" cy="63.2" rx="3.0" ry="0.8" fill="#9ecbe8"/><ellipse cx="116.0" cy="60.8" rx="1.9" ry="0.7" fill="#aad2ec"/><ellipse cx="119.6" cy="60.6" rx="2.8" ry="1.1" fill="#aad2ec"/><ellipse cx="125.6" cy="57.9" rx="3.2" ry="1.1" fill="#aad2ec"/><ellipse cx="131.4" cy="55.9" rx="2.5" ry="0.7" fill="#9ecbe8"/><ellipse cx="135.8" cy="54.8" rx="3.0" ry="1.0" fill="#a3cee9"/><ellipse cx="143.3" cy="51.6" rx="3.3" ry="1.0" fill="#9ecbe8"/><ellipse cx="148.7" cy="50.5" rx="2.3" ry="1.0" fill="#8bc0e3"/><ellipse cx="153.2" cy="48.2" rx="2.3" ry="1.0" fill="#93c5e6"/><ellipse cx="158.4" cy="47.2" rx="3.2" ry="1.1" fill="#9ecbe8"/><ellipse cx="165.2" cy="44.9" rx="3.2" ry="0.9" fill="#93c5e6"/><ellipse cx="170.4" cy="42.9" rx="3.4" ry="1.1" fill="#8bc0e3"/><ellipse cx="175.8" cy="41.0" rx="3.2" ry="0.7" fill="#aad2ec"/><ellipse cx="180.0" cy="38.5" rx="2.1" ry="1.1" fill="#93c5e6"/><ellipse cx="185.0" cy="36.8" rx="2.0" ry="1.0" fill="#9ecbe8"/><ellipse cx="192.2" cy="35.1" rx="2.4" ry="0.9" fill="#8bc0e3"/><ellipse cx="196.1" cy="33.7" rx="3.2" ry="0.9" fill="#aad2ec"/><ellipse cx="202.7" cy="30.9" rx="3.2" ry="0.9" fill="#93c5e6"/><ellipse cx="207.7" cy="30.1" rx="3.2" ry="0.6" fill="#8bc0e3"/><ellipse cx="212.6" cy="28.3" rx="2.9" ry="0.7" fill="#aad2ec"/><ellipse cx="218.3" cy="26.3" rx="2.9" ry="1.1" fill="#a3cee9"/><ellipse cx="222.3" cy="24.5" rx="2.5" ry="1.0" fill="#8bc0e3"/><ellipse cx="230.4" cy="21.1" rx="2.3" ry="0.9" fill="#aad2ec"/><ellipse cx="233.3" cy="20.9" rx="2.8" ry="0.6" fill="#aad2ec"/><ellipse cx="240.9" cy="18.5" rx="2.6" ry="0.8" fill="#93c5e6"/><ellipse cx="246.4" cy="15.5" rx="2.4" ry="0.8" fill="#9ecbe8"/><ellipse cx="250.6" cy="14.8" rx="1.9" ry="1.1" fill="#a3cee9"/><ellipse cx="257.3" cy="12.8" rx="2.7" ry="1.0" fill="#9ecbe8"/><ellipse cx="260.0" cy="11.4" rx="3.2" ry="0.7" fill="#a3cee9"/><ellipse cx="266.4" cy="9.5" rx="2.2" ry="0.6" fill="#a3cee9"/><ellipse cx="273.2" cy="6.9" rx="3.0" ry="0.7" fill="#8bc0e3"/><ellipse cx="278.8" cy="4.7" rx="2.1" ry="0.9" fill="#93c5e6"/><ellipse cx="282.8" cy="3.4" rx="2.3" ry="0.8" fill="#8bc0e3"/><ellipse cx="41.9" cy="90.4" rx="2.0" ry="1.0" fill="#aad2ec"/><ellipse cx="49.2" cy="87.2" rx="3.1" ry="0.9" fill="#9ecbe8"/><ellipse cx="53.5" cy="85.7" rx="2.8" ry="1.1" fill="#9ecbe8"/><ellipse cx="60.2" cy="84.2" rx="2.1" ry="0.9" fill="#a3cee9"/><ellipse cx="64.9" cy="81.9" rx="3.2" ry="1.1" fill="#93c5e6"/><ellipse cx="69.7" cy="79.9" rx="3.2" ry="1.1" fill="#a3cee9"/><ellipse cx="75.6" cy="78.0" rx="2.6" ry="1.0" fill="#a3cee9"/><ellipse cx="80.0" cy="77.3" rx="2.3" ry="0.7" fill="#9ecbe8"/><ellipse cx="86.9" cy="74.3" rx="2.6" ry="0.8" fill="#9ecbe8"/><ellipse cx="91.1" cy="72.6" rx="2.8" ry="0.7" fill="#aad2ec"/><ellipse cx="95.8" cy="71.4" rx="2.6" ry="1.1" fill="#8bc0e3"/><ellipse cx="102.0" cy="68.9" rx="2.7" ry="0.9" fill="#a3cee9"/><ellipse cx="106.5" cy="67.2" rx="2.0" ry="1.0" fill="#93c5e6"/><ellipse cx="112.6" cy="65.4" rx="2.5" ry="0.8" fill="#8bc0e3"/><ellipse cx="118.7" cy="63.4" rx="3.2" ry="0.9" fill="#93c5e6"/><ellipse cx="124.7" cy="61.7" rx="2.4" ry="0.9" fill="#8bc0e3"/><ellipse cx="130.4" cy="59.5" rx="2.1" ry="1.0" fill="#93c5e6"/><ellipse cx="135.8" cy="57.0" rx="2.4" ry="1.1" fill="#aad2ec"/><ellipse cx="140.2" cy="56.2" rx="2.4" ry="1.1" fill="#a3cee9"/><ellipse cx="145.4" cy="54.3" rx="2.3" ry="0.7" fill="#93c5e6"/><ellipse cx="151.0" cy="52.6" rx="2.6" ry="0.8" fill="#a3cee9"/><ellipse cx="157.2" cy="49.8" rx="2.7" ry="1.1" fill="#8bc0e3"/><ellipse cx="160.4" cy="48.5" rx="2.8" ry="0.9" fill="#aad2ec"/><ellipse cx="165.5" cy="47.5" rx="2.0" ry="1.0" fill="#a3cee9"/><ellipse cx="170.9" cy="45.7" rx="2.3" ry="0.9" fill="#8bc0e3"/><ellipse cx="176.4" cy="42.9" rx="2.0" ry="1.0" fill="#9ecbe8"/><ellipse cx="182.6" cy="40.7" rx="2.6" ry="0.7" fill="#93c5e6"/><ellipse cx="189.8" cy="38.7" rx="3.3" ry="0.6" fill="#9ecbe8"/><ellipse cx="193.7" cy="36.8" rx="3.0" ry="1.1" fill="#8bc0e3"/><ellipse cx="199.1" cy="35.5" rx="3.0" ry="0.7" fill="#9ecbe8"/><ellipse cx="206.0" cy="32.3" rx="2.0" ry="0.7" fill="#93c5e6"/><ellipse cx="209.6" cy="31.9" rx="2.2" ry="0.9" fill="#93c5e6"/><ellipse cx="214.6" cy="30.1" rx="2.9" ry="1.1" fill="#aad2ec"/><ellipse cx="219.8" cy="28.6" rx="2.4" ry="0.8" fill="#8bc0e3"/><ellipse cx="225.6" cy="26.8" rx="3.4" ry="1.0" fill="#9ecbe8"/><ellipse cx="230.8" cy="24.8" rx="3.1" ry="0.9" fill="#93c5e6"/><ellipse cx="236.9" cy="22.3" rx="3.3" ry="1.0" fill="#a3cee9"/><ellipse cx="243.3" cy="20.0" rx="2.6" ry="1.1" fill="#a3cee9"/><ellipse cx="248.3" cy="18.4" rx="2.7" ry="0.7" fill="#93c5e6"/><ellipse cx="254.5" cy="16.1" rx="2.1" ry="0.7" fill="#8bc0e3"/><ellipse cx="257.7" cy="15.1" rx="2.7" ry="1.1" fill="#a3cee9"/><ellipse cx="265.3" cy="12.7" rx="2.4" ry="1.0" fill="#9ecbe8"/><ellipse cx="269.7" cy="11.0" rx="2.5" ry="1.1" fill="#a3cee9"/><ellipse cx="276.1" cy="8.6" rx="2.4" ry="0.8" fill="#aad2ec"/><ellipse cx="281.7" cy="6.1" rx="2.9" ry="0.9" fill="#93c5e6"/><ellipse cx="287.1" cy="4.9" rx="2.4" ry="1.0" fill="#aad2ec"/><ellipse cx="40.8" cy="93.3" rx="2.8" ry="0.9" fill="#aad2ec"/><ellipse cx="46.4" cy="92.3" rx="2.6" ry="1.1" fill="#93c5e6"/><ellipse cx="49.8" cy="90.8" rx="2.8" ry="1.1" fill="#a3cee9"/><ellipse cx="56.2" cy="88.4" rx="1.9" ry="0.9" fill="#9ecbe8"/><ellipse cx="60.5" cy="86.4" rx="2.1" ry="1.1" fill="#8bc0e3"/><ellipse cx="68.1" cy="84.5" rx="2.0" ry="0.8" fill="#aad2ec"/><ellipse cx="71.3" cy="82.9" rx="3.0" ry="0.7" fill="#aad2ec"/><ellipse cx="77.2" cy="80.7" rx="3.3" ry="1.1" fill="#a3cee9"/><ellipse cx="83.0" cy="78.9" rx="3.1" ry="1.0" fill="#8bc0e3"/><ellipse cx="89.0" cy="76.5" rx="2.9" ry="1.0" fill="#93c5e6"/><ellipse cx="92.7" cy="75.9" rx="3.1" ry="0.8" fill="#a3cee9"/><ellipse cx="100.8" cy="72.7" rx="3.0" ry="0.7" fill="#8bc0e3"/><ellipse cx="105.8" cy="70.5" rx="2.7" ry="0.8" fill="#93c5e6"/><ellipse cx="109.0" cy="70.2" rx="3.2" ry="0.6" fill="#8bc0e3"/><ellipse cx="115.9" cy="67.8" rx="2.0" ry="0.8" fill="#a3cee9"/><ellipse cx="120.1" cy="65.3" rx="3.1" ry="0.7" fill="#9ecbe8"/><ellipse cx="127.3" cy="63.0" rx="2.1" ry="1.1" fill="#9ecbe8"/><ellipse cx="131.7" cy="62.2" rx="2.3" ry="1.1" fill="#9ecbe8"/><ellipse cx="136.3" cy="60.9" rx="2.4" ry="1.1" fill="#93c5e6"/><ellipse cx="143.0" cy="57.9" rx="3.2" ry="0.8" fill="#93c5e6"/><ellipse cx="147.8" cy="56.1" rx="2.4" ry="0.6" fill="#8bc0e3"/><ellipse cx="152.6" cy="54.4" rx="3.1" ry="1.1" fill="#aad2ec"/><ellipse cx="157.8" cy="52.9" rx="2.7" ry="0.8" fill="#9ecbe8"/><ellipse cx="165.4" cy="50.6" rx="2.6" ry="1.1" fill="#a3cee9"/><ellipse cx="169.2" cy="48.8" rx="3.0" ry="0.9" fill="#9ecbe8"/><ellipse cx="174.6" cy="46.3" rx="2.5" ry="0.7" fill="#9ecbe8"/><ellipse cx="180.4" cy="44.5" rx="2.4" ry="0.9" fill="#9ecbe8"/><ellipse cx="185.3" cy="42.4" rx="2.2" ry="0.7" fill="#aad2ec"/><ellipse cx="191.1" cy="40.9" rx="3.1" ry="1.1" fill="#aad2ec"/><ellipse cx="196.5" cy="39.7" rx="2.2" ry="1.1" fill="#9ecbe8"/><ellipse cx="201.6" cy="37.5" rx="2.4" ry="1.1" fill="#9ecbe8"/><ellipse cx="208.0" cy="35.3" rx="2.5" ry="0.7" fill="#93c5e6"/><ellipse cx="212.0" cy="33.8" rx="2.1" ry="1.1" fill="#93c5e6"/><ellipse cx="218.7" cy="32.0" rx="3.4" ry="1.0" fill="#93c5e6"/><ellipse cx="222.9" cy="30.6" rx="2.0" ry="0.8" fill="#a3cee9"/><ellipse cx="229.5" cy="27.6" rx="2.4" ry="1.0" fill="#a3cee9"/><ellipse cx="235.3" cy="24.9" rx="2.2" ry="0.7" fill="#9ecbe8"/><ellipse cx="238.7" cy="25.0" rx="2.3" ry="1.1" fill="#a3cee9"/><ellipse cx="246.5" cy="21.9" rx="2.5" ry="1.1" fill="#93c5e6"/><ellipse cx="249.4" cy="21.1" rx="3.4" ry="0.7" fill="#aad2ec"/><ellipse cx="256.0" cy="18.3" rx="3.2" ry="0.6" fill="#93c5e6"/><ellipse cx="262.8" cy="16.7" rx="2.8" ry="1.0" fill="#9ecbe8"/><ellipse cx="266.4" cy="14.5" rx="2.1" ry="1.1" fill="#aad2ec"/><ellipse cx="271.5" cy="12.5" rx="2.1" ry="0.7" fill="#a3cee9"/><ellipse cx="278.4" cy="10.0" rx="2.4" ry="0.9" fill="#93c5e6"/><ellipse cx="283.2" cy="8.8" rx="2.7" ry="0.6" fill="#93c5e6"/><ellipse cx="42.0" cy="95.5" rx="3.3" ry="0.6" fill="#aad2ec"/><ellipse cx="47.4" cy="93.6" rx="2.6" ry="0.8" fill="#aad2ec"/><ellipse cx="53.4" cy="91.4" rx="3.4" ry="1.1" fill="#93c5e6"/><ellipse cx="58.8" cy="90.2" rx="3.3" ry="0.9" fill="#9ecbe8"/><ellipse cx="63.5" cy="88.2" rx="3.1" ry="1.0" fill="#aad2ec"/><ellipse cx="70.1" cy="86.1" rx="2.4" ry="0.9" fill="#8bc0e3"/><ellipse cx="74.4" cy="84.2" rx="2.4" ry="0.8" fill="#93c5e6"/><ellipse cx="81.1" cy="82.3" rx="2.1" ry="0.6" fill="#93c5e6"/><ellipse cx="87.3" cy="80.5" rx="3.0" ry="1.1" fill="#93c5e6"/><ellipse cx="90.7" cy="78.4" rx="2.0" ry="0.9" fill="#9ecbe8"/><ellipse cx="96.7" cy="76.4" rx="2.9" ry="0.8" fill="#8bc0e3"/><ellipse cx="101.0" cy="76.0" rx="1.9" ry="0.7" fill="#8bc0e3"/><ellipse cx="106.4" cy="73.4" rx="2.7" ry="0.8" fill="#aad2ec"/><ellipse cx="112.4" cy="71.1" rx="2.9" ry="0.7" fill="#8bc0e3"/><ellipse cx="118.1" cy="69.9" rx="2.0" ry="0.6" fill="#93c5e6"/><ellipse cx="123.8" cy="68.1" rx="3.3" ry="0.7" fill="#a3cee9"/><ellipse cx="129.6" cy="65.1" rx="2.0" ry="1.1" fill="#a3cee9"/><ellipse cx="135.4" cy="63.1" rx="3.3" ry="1.0" fill="#8bc0e3"/><ellipse cx="138.9" cy="61.6" rx="2.6" ry="1.0" fill="#93c5e6"/><ellipse cx="145.9" cy="59.9" rx="3.4" ry="0.6" fill="#93c5e6"/><ellipse cx="149.6" cy="58.2" rx="2.0" ry="0.9" fill="#aad2ec"/><ellipse cx="155.7" cy="56.6" rx="2.5" ry="1.0" fill="#aad2ec"/><ellipse cx="160.6" cy="54.5" rx="2.2" ry="0.7" fill="#a3cee9"/><ellipse cx="167.5" cy="52.7" rx="2.9" ry="0.7" fill="#aad2ec"/><ellipse cx="172.9" cy="49.8" rx="2.5" ry="1.0" fill="#93c5e6"/><ellipse cx="176.7" cy="49.5" rx="2.0" ry="0.8" fill="#a3cee9"/><ellipse cx="182.6" cy="47.5" rx="3.1" ry="1.1" fill="#a3cee9"/><ellipse cx="188.3" cy="45.5" rx="3.1" ry="1.1" fill="#a3cee9"/><ellipse cx="193.1" cy="43.3" rx="2.6" ry="0.8" fill="#aad2ec"/><ellipse cx="198.9" cy="41.3" rx="3.4" ry="0.9" fill="#a3cee9"/><ellipse cx="203.7" cy="38.9" rx="2.5" ry="0.9" fill="#93c5e6"/><ellipse cx="210.2" cy="37.0" rx="3.1" ry="1.0" fill="#aad2ec"/><ellipse cx="215.5" cy="35.1" rx="3.3" ry="0.9" fill="#8bc0e3"/><ellipse cx="221.0" cy="33.2" rx="3.1" ry="0.6" fill="#aad2ec"/><ellipse cx="226.3" cy="32.0" rx="2.2" ry="0.8" fill="#aad2ec"/><ellipse cx="232.3" cy="29.5" rx="2.0" ry="0.8" fill="#9ecbe8"/><ellipse cx="238.0" cy="28.2" rx="2.5" ry="1.0" fill="#aad2ec"/><ellipse cx="242.9" cy="26.1" rx="2.3" ry="0.6" fill="#aad2ec"/><ellipse cx="247.6" cy="24.1" rx="2.8" ry="1.1" fill="#aad2ec"/><ellipse cx="254.2" cy="21.5" rx="2.4" ry="0.7" fill="#9ecbe8"/><ellipse cx="258.7" cy="20.2" rx="2.3" ry="0.9" fill="#9ecbe8"/><ellipse cx="265.2" cy="18.5" rx="3.2" ry="0.8" fill="#8bc0e3"/><ellipse cx="268.5" cy="16.4" rx="2.9" ry="1.0" fill="#aad2ec"/><ellipse cx="274.3" cy="15.5" rx="3.2" ry="0.8" fill="#9ecbe8"/><ellipse cx="281.4" cy="12.3" rx="2.2" ry="1.0" fill="#aad2ec"/><ellipse cx="285.7" cy="10.3" rx="2.3" ry="0.9" fill="#a3cee9"/><ellipse cx="41.4" cy="99.8" rx="2.5" ry="0.7" fill="#93c5e6"/><ellipse cx="46.1" cy="97.0" rx="2.4" ry="0.7" fill="#93c5e6"/><ellipse cx="51.1" cy="95.3" rx="1.9" ry="1.0" fill="#a3cee9"/><ellipse cx="55.4" cy="93.7" rx="3.0" ry="1.1" fill="#9ecbe8"/><ellipse cx="60.9" cy="92.5" rx="2.8" ry="0.8" fill="#93c5e6"/><ellipse cx="67.2" cy="90.1" rx="3.2" ry="0.6" fill="#8bc0e3"/><ellipse cx="71.3" cy="88.3" rx="2.4" ry="0.8" fill="#aad2ec"/><ellipse cx="76.4" cy="86.5" rx="2.4" ry="0.8" fill="#8bc0e3"/><ellipse cx="82.5" cy="84.9" rx="2.5" ry="0.6" fill="#a3cee9"/><ellipse cx="89.5" cy="82.0" rx="3.1" ry="0.9" fill="#93c5e6"/><ellipse cx="92.8" cy="81.0" rx="2.2" ry="0.9" fill="#a3cee9"/><ellipse cx="100.4" cy="78.6" rx="2.5" ry="1.0" fill="#93c5e6"/><ellipse cx="106.1" cy="76.9" rx="3.0" ry="1.1" fill="#93c5e6"/><ellipse cx="109.7" cy="75.8" rx="2.9" ry="0.6" fill="#93c5e6"/><ellipse cx="114.7" cy="72.8" rx="2.5" ry="0.9" fill="#aad2ec"/><ellipse cx="121.0" cy="72.0" rx="2.2" ry="0.9" fill="#8bc0e3"/><ellipse cx="125.3" cy="69.5" rx="2.7" ry="0.7" fill="#8bc0e3"/><ellipse cx="131.4" cy="67.5" rx="2.8" ry="0.9" fill="#aad2ec"/><ellipse cx="137.9" cy="65.6" rx="3.0" ry="1.1" fill="#aad2ec"/><ellipse cx="143.0" cy="63.7" rx="2.4" ry="0.8" fill="#93c5e6"/><ellipse cx="147.5" cy="61.9" rx="3.3" ry="0.8" fill="#8bc0e3"/><ellipse cx="152.0" cy="61.2" rx="2.2" ry="0.9" fill="#aad2ec"/><ellipse cx="158.5" cy="57.8" rx="3.1" ry="0.9" fill="#aad2ec"/><ellipse cx="165.1" cy="55.3" rx="2.5" ry="1.1" fill="#aad2ec"/><ellipse cx="170.1" cy="54.4" rx="2.6" ry="0.9" fill="#9ecbe8"/><ellipse cx="175.1" cy="51.8" rx="2.2" ry="0.7" fill="#a3cee9"/><ellipse cx="179.4" cy="51.1" rx="2.2" ry="0.9" fill="#aad2ec"/><ellipse cx="185.2" cy="48.9" rx="3.0" ry="1.0" fill="#93c5e6"/><ellipse cx="190.2" cy="46.9" rx="2.9" ry="0.9" fill="#a3cee9"/><ellipse cx="197.4" cy="45.3" rx="3.2" ry="1.0" fill="#aad2ec"/><ellipse cx="202.2" cy="43.3" rx="2.4" ry="0.8" fill="#9ecbe8"/><ellipse cx="208.3" cy="41.0" rx="2.1" ry="0.9" fill="#93c5e6"/><ellipse cx="213.1" cy="39.4" rx="2.7" ry="0.7" fill="#93c5e6"/><ellipse cx="217.3" cy="38.2" rx="2.7" ry="0.6" fill="#9ecbe8"/><ellipse cx="223.4" cy="36.0" rx="2.9" ry="0.9" fill="#9ecbe8"/><ellipse cx="228.2" cy="34.5" rx="2.4" ry="0.6" fill="#aad2ec"/><ellipse cx="234.0" cy="32.4" rx="1.9" ry="1.0" fill="#93c5e6"/><ellipse cx="238.8" cy="29.9" rx="2.3" ry="1.1" fill="#93c5e6"/><ellipse cx="246.2" cy="28.3" rx="2.6" ry="1.0" fill="#aad2ec"/><ellipse cx="250.7" cy="25.3" rx="2.0" ry="0.8" fill="#aad2ec"/><ellipse cx="254.9" cy="25.2" rx="2.7" ry="0.9" fill="#9ecbe8"/><ellipse cx="261.1" cy="22.5" rx="2.5" ry="1.0" fill="#9ecbe8"/><ellipse cx="268.0" cy="19.6" rx="2.3" ry="1.1" fill="#a3cee9"/><ellipse cx="271.5" cy="19.0" rx="2.5" ry="0.7" fill="#9ecbe8"/><ellipse cx="277.4" cy="17.1" rx="2.6" ry="0.8" fill="#8bc0e3"/><ellipse cx="281.7" cy="15.6" rx="3.0" ry="1.1" fill="#aad2ec"/><ellipse cx="42.4" cy="101.2" rx="2.6" ry="1.1" fill="#8bc0e3"/><ellipse cx="47.1" cy="100.4" rx="2.5" ry="0.7" fill="#a3cee9"/><ellipse cx="52.7" cy="98.7" rx="2.9" ry="0.7" fill="#a3cee9"/><ellipse cx="59.8" cy="95.1" rx="2.3" ry="0.9" fill="#8bc0e3"/><ellipse cx="63.7" cy="94.4" rx="3.2" ry="0.8" fill="#93c5e6"/><ellipse cx="70.7" cy="91.5" rx="3.1" ry="0.7" fill="#a3cee9"/><ellipse cx="75.4" cy="90.3" rx="2.1" ry="1.0" fill="#aad2ec"/><ellipse cx="81.0" cy="87.6" rx="3.4" ry="0.8" fill="#8bc0e3"/><ellipse cx="85.7" cy="86.8" rx="3.3" ry="0.7" fill="#93c5e6"/><ellipse cx="90.3" cy="84.5" rx="3.2" ry="0.8" fill="#8bc0e3"/><ellipse cx="96.4" cy="82.3" rx="2.2" ry="0.9" fill="#9ecbe8"/><ellipse cx="101.2" cy="81.3" rx="2.2" ry="1.0" fill="#8bc0e3"/><ellipse cx="108.4" cy="77.9" rx="3.3" ry="0.7" fill="#93c5e6"/><ellipse cx="114.0" cy="76.9" rx="2.1" ry="0.8" fill="#aad2ec"/><ellipse cx="118.7" cy="75.2" rx="3.3" ry="0.7" fill="#aad2ec"/><ellipse cx="123.3" cy="73.4" rx="2.0" ry="1.0" fill="#aad2ec"/><ellipse cx="128.1" cy="71.8" rx="3.0" ry="0.7" fill="#a3cee9"/><ellipse cx="135.5" cy="68.5" rx="2.3" ry="0.6" fill="#aad2ec"/><ellipse cx="140.8" cy="67.0" rx="2.2" ry="0.6" fill="#8bc0e3"/><ellipse cx="144.5" cy="65.7" rx="3.2" ry="0.8" fill="#9ecbe8"/><ellipse cx="151.7" cy="63.0" rx="3.0" ry="0.8" fill="#8bc0e3"/><ellipse cx="156.9" cy="62.4" rx="2.2" ry="0.6" fill="#8bc0e3"/><ellipse cx="161.3" cy="60.8" rx="2.5" ry="0.8" fill="#93c5e6"/><ellipse cx="167.2" cy="58.5" rx="3.0" ry="1.0" fill="#a3cee9"/><ellipse cx="173.1" cy="56.5" rx="2.6" ry="0.7" fill="#8bc0e3"/><ellipse cx="178.8" cy="54.5" rx="2.2" ry="0.6" fill="#9ecbe8"/><ellipse cx="183.0" cy="52.7" rx="2.3" ry="0.9" fill="#93c5e6"/><ellipse cx="187.3" cy="50.9" rx="3.2" ry="1.1" fill="#93c5e6"/><ellipse cx="193.2" cy="49.0" rx="2.1" ry="0.7" fill="#9ecbe8"/><ellipse cx="200.3" cy="46.4" rx="2.9" ry="1.1" fill="#9ecbe8"/><ellipse cx="205.1" cy="45.1" rx="2.9" ry="0.6" fill="#8bc0e3"/><ellipse cx="210.7" cy="42.9" rx="2.2" ry="0.6" fill="#93c5e6"/><ellipse cx="216.0" cy="40.8" rx="3.1" ry="0.8" fill="#a3cee9"/><ellipse cx="221.4" cy="38.7" rx="2.0" ry="1.0" fill="#aad2ec"/><ellipse cx="225.0" cy="38.2" rx="2.5" ry="0.7" fill="#8bc0e3"/><ellipse cx="232.1" cy="35.8" rx="3.2" ry="0.7" fill="#8bc0e3"/><ellipse cx="236.5" cy="34.5" rx="2.5" ry="0.8" fill="#9ecbe8"/><ellipse cx="242.2" cy="31.5" rx="2.6" ry="1.0" fill="#8bc0e3"/><ellipse cx="247.6" cy="30.4" rx="2.3" ry="0.7" fill="#93c5e6"/><ellipse cx="253.7" cy="27.5" rx="3.3" ry="0.7" fill="#8bc0e3"/><ellipse cx="259.4" cy="25.6" rx="2.1" ry="0.9" fill="#8bc0e3"/><ellipse cx="263.1" cy="24.3" rx="3.2" ry="0.7" fill="#93c5e6"/><ellipse cx="269.3" cy="21.8" rx="2.6" ry="1.1" fill="#aad2ec"/><ellipse cx="276.1" cy="20.0" rx="3.0" ry="0.7" fill="#93c5e6"/><ellipse cx="280.0" cy="18.7" rx="3.1" ry="1.0" fill="#aad2ec"/><ellipse cx="284.7" cy="17.0" rx="1.9" ry="0.7" fill="#9ecbe8"/><ellipse cx="40.4" cy="105.7" rx="2.7" ry="0.9" fill="#93c5e6"/><ellipse cx="44.4" cy="104.3" rx="2.5" ry="0.7" fill="#9ecbe8"/><ellipse cx="50.3" cy="102.5" rx="2.7" ry="1.1" fill="#a3cee9"/><ellipse cx="57.4" cy="99.2" rx="2.8" ry="1.1" fill="#93c5e6"/><ellipse cx="61.4" cy="98.1" rx="2.2" ry="1.1" fill="#aad2ec"/><ellipse cx="67.5" cy="95.5" rx="2.8" ry="0.6" fill="#8bc0e3"/><ellipse cx="72.6" cy="93.7" rx="2.3" ry="1.0" fill="#93c5e6"/><ellipse cx="76.7" cy="92.6" rx="2.4" ry="0.8" fill="#aad2ec"/><ellipse cx="83.2" cy="90.3" rx="3.0" ry="0.8" fill="#8bc0e3"/><ellipse cx="89.8" cy="88.1" rx="2.8" ry="0.9" fill="#9ecbe8"/><ellipse cx="95.4" cy="86.7" rx="2.3" ry="1.0" fill="#a3cee9"/><ellipse cx="100.2" cy="83.9" rx="2.7" ry="0.7" fill="#a3cee9"/><ellipse cx="103.4" cy="82.9" rx="3.0" ry="0.8" fill="#a3cee9"/><ellipse cx="111.4" cy="80.3" rx="2.2" ry="1.0" fill="#aad2ec"/><ellipse cx="116.0" cy="78.3" rx="2.6" ry="1.0" fill="#8bc0e3"/><ellipse cx="119.7" cy="77.1" rx="3.3" ry="0.8" fill="#8bc0e3"/><ellipse cx="125.5" cy="75.8" rx="2.7" ry="1.1" fill="#aad2ec"/><ellipse cx="131.5" cy="73.6" rx="2.7" ry="0.7" fill="#9ecbe8"/><ellipse cx="138.5" cy="71.4" rx="3.4" ry="0.9" fill="#93c5e6"/><ellipse cx="141.9" cy="70.2" rx="3.0" ry="1.1" fill="#aad2ec"/><ellipse cx="149.1" cy="67.0" rx="3.1" ry="0.9" fill="#aad2ec"/><ellipse cx="153.7" cy="66.4" rx="3.2" ry="0.7" fill="#a3cee9"/><ellipse cx="159.3" cy="63.3" rx="2.1" ry="0.9" fill="#9ecbe8"/><ellipse cx="164.1" cy="62.6" rx="2.7" ry="0.7" fill="#a3cee9"/><ellipse cx="168.8" cy="60.9" rx="2.4" ry="1.1" fill="#aad2ec"/><ellipse cx="173.8" cy="58.3" rx="3.3" ry="1.1" fill="#9ecbe8"/><ellipse cx="180.1" cy="55.8" rx="3.2" ry="0.8" fill="#93c5e6"/><ellipse cx="184.7" cy="55.5" rx="2.5" ry="0.7" fill="#a3cee9"/><ellipse cx="190.1" cy="53.3" rx="2.8" ry="0.9" fill="#9ecbe8"/><ellipse cx="196.5" cy="50.4" rx="2.0" ry="0.9" fill="#93c5e6"/><ellipse cx="203.1" cy="47.9" rx="3.2" ry="0.6" fill="#a3cee9"/><ellipse cx="208.3" cy="46.9" rx="2.7" ry="1.0" fill="#9ecbe8"/><ellipse cx="213.9" cy="44.6" rx="2.4" ry="0.7" fill="#93c5e6"/><ellipse cx="218.8" cy="43.1" rx="3.1" ry="0.9" fill="#a3cee9"/><ellipse cx="223.4" cy="40.9" rx="2.3" ry="1.0" fill="#93c5e6"/><ellipse cx="230.2" cy="38.8" rx="2.1" ry="0.8" fill="#aad2ec"/><ellipse cx="234.9" cy="38.0" rx="3.1" ry="0.8" fill="#8bc0e3"/><ellipse cx="239.7" cy="35.8" rx="3.3" ry="1.0" fill="#9ecbe8"/><ellipse cx="246.1" cy="33.1" rx="2.9" ry="1.1" fill="#9ecbe8"/><ellipse cx="249.8" cy="31.7" rx="2.9" ry="0.7" fill="#aad2ec"/><ellipse cx="257.4" cy="29.4" rx="3.1" ry="0.9" fill="#9ecbe8"/><ellipse cx="262.3" cy="27.2" rx="2.6" ry="0.6" fill="#93c5e6"/><ellipse cx="265.4" cy="26.6" rx="2.5" ry="1.1" fill="#8bc0e3"/><ellipse cx="271.4" cy="24.1" rx="2.0" ry="0.8" fill="#aad2ec"/><ellipse cx="277.1" cy="22.6" rx="2.5" ry="1.0" fill="#a3cee9"/><ellipse cx="281.6" cy="20.4" rx="3.1" ry="0.8" fill="#9ecbe8"/><ellipse cx="42.2" cy="106.9" rx="2.0" ry="0.6" fill="#8bc0e3"/><ellipse cx="49.1" cy="105.1" rx="2.6" ry="0.8" fill="#93c5e6"/><ellipse cx="53.7" cy="103.6" rx="1.9" ry="0.8" fill="#aad2ec"/><ellipse cx="58.6" cy="102.5" rx="2.6" ry="0.9" fill="#93c5e6"/><ellipse cx="64.3" cy="99.7" rx="2.1" ry="1.0" fill="#a3cee9"/><ellipse cx="70.0" cy="97.3" rx="2.8" ry="1.1" fill="#aad2ec"/><ellipse cx="73.8" cy="97.0" rx="2.9" ry="0.8" fill="#93c5e6"/><ellipse cx="81.4" cy="94.4" rx="2.3" ry="0.9" fill="#8bc0e3"/><ellipse cx="84.8" cy="92.9" rx="2.8" ry="0.6" fill="#aad2ec"/><ellipse cx="91.4" cy="91.0" rx="2.8" ry="1.1" fill="#a3cee9"/><ellipse cx="97.5" cy="88.5" rx="2.5" ry="1.1" fill="#a3cee9"/><ellipse cx="103.4" cy="86.3" rx="2.6" ry="0.9" fill="#a3cee9"/><ellipse cx="106.2" cy="84.9" rx="2.9" ry="0.7" fill="#93c5e6"/><ellipse cx="113.6" cy="82.2" rx="3.3" ry="0.7" fill="#aad2ec"/><ellipse cx="117.6" cy="81.1" rx="2.2" ry="1.0" fill="#a3cee9"/><ellipse cx="125.0" cy="79.0" rx="2.8" ry="0.7" fill="#93c5e6"/><ellipse cx="128.4" cy="77.5" rx="2.5" ry="0.8" fill="#8bc0e3"/><ellipse cx="133.6" cy="75.7" rx="3.1" ry="1.1" fill="#93c5e6"/><ellipse cx="140.0" cy="73.8" rx="2.0" ry="0.7" fill="#93c5e6"/><ellipse cx="145.0" cy="71.7" rx="3.3" ry="0.6" fill="#aad2ec"/><ellipse cx="149.5" cy="69.9" rx="3.3" ry="0.9" fill="#93c5e6"/><ellipse cx="156.3" cy="67.2" rx="3.1" ry="0.9" fill="#9ecbe8"/><ellipse cx="161.5" cy="66.4" rx="2.1" ry="1.1" fill="#9ecbe8"/><ellipse cx="167.8" cy="63.3" rx="1.9" ry="1.1" fill="#aad2ec"/><ellipse cx="171.2" cy="62.9" rx="3.1" ry="0.9" fill="#aad2ec"/><ellipse cx="179.0" cy="59.2" rx="2.2" ry="1.0" fill="#8bc0e3"/><ellipse cx="183.6" cy="58.6" rx="2.8" ry="0.8" fill="#aad2ec"/><ellipse cx="188.8" cy="55.9" rx="2.8" ry="0.8" fill="#9ecbe8"/><ellipse cx="193.2" cy="55.1" rx="2.9" ry="0.7" fill="#aad2ec"/><ellipse cx="200.0" cy="52.1" rx="2.0" ry="0.8" fill="#8bc0e3"/><ellipse cx="205.6" cy="50.5" rx="2.6" ry="0.7" fill="#8bc0e3"/><ellipse cx="211.2" cy="48.1" rx="2.0" ry="1.0" fill="#93c5e6"/><ellipse cx="216.6" cy="46.5" rx="2.1" ry="0.8" fill="#93c5e6"/><ellipse cx="221.9" cy="44.6" rx="2.6" ry="0.6" fill="#aad2ec"/><ellipse cx="225.5" cy="43.7" rx="2.6" ry="0.8" fill="#8bc0e3"/><ellipse cx="231.8" cy="41.6" rx="2.1" ry="0.8" fill="#aad2ec"/><ellipse cx="236.9" cy="39.3" rx="2.1" ry="0.8" fill="#8bc0e3"/><ellipse cx="241.9" cy="38.3" rx="2.9" ry="0.9" fill="#8bc0e3"/><ellipse cx="248.2" cy="35.0" rx="2.1" ry="0.6" fill="#8bc0e3"/><ellipse cx="254.3" cy="33.1" rx="2.3" ry="0.7" fill="#a3cee9"/><ellipse cx="259.3" cy="31.9" rx="2.7" ry="0.7" fill="#93c5e6"/><ellipse cx="264.0" cy="29.9" rx="3.2" ry="1.1" fill="#8bc0e3"/><ellipse cx="269.9" cy="28.1" rx="3.0" ry="0.6" fill="#8bc0e3"/><ellipse cx="275.3" cy="25.8" rx="2.7" ry="0.8" fill="#8bc0e3"/><ellipse cx="281.2" cy="23.8" rx="3.2" ry="1.0" fill="#a3cee9"/><ellipse cx="285.6" cy="23.2" rx="2.1" ry="1.1" fill="#a3cee9"/><ellipse cx="41.0" cy="110.7" rx="3.4" ry="0.6" fill="#a3cee9"/><ellipse cx="46.3" cy="108.9" rx="3.1" ry="0.7" fill="#93c5e6"/><ellipse cx="50.7" cy="107.4" rx="2.2" ry="1.0" fill="#93c5e6"/><ellipse cx="55.0" cy="106.6" rx="2.2" ry="0.8" fill="#8bc0e3"/><ellipse cx="61.2" cy="104.0" rx="2.9" ry="0.8" fill="#8bc0e3"/><ellipse cx="66.6" cy="101.4" rx="2.0" ry="0.9" fill="#a3cee9"/><ellipse cx="73.1" cy="100.0" rx="3.3" ry="1.0" fill="#a3cee9"/><ellipse cx="77.6" cy="97.6" rx="3.3" ry="0.9" fill="#a3cee9"/><ellipse cx="84.6" cy="95.4" rx="2.5" ry="1.1" fill="#8bc0e3"/><ellipse cx="87.3" cy="94.7" rx="2.7" ry="1.0" fill="#9ecbe8"/><ellipse cx="92.8" cy="92.5" rx="2.0" ry="0.7" fill="#8bc0e3"/><ellipse cx="100.2" cy="90.1" rx="2.7" ry="0.9" fill="#93c5e6"/><ellipse cx="105.4" cy="87.9" rx="2.2" ry="0.7" fill="#9ecbe8"/><ellipse cx="111.4" cy="86.7" rx="2.4" ry="0.6" fill="#a3cee9"/><ellipse cx="115.1" cy="84.9" rx="2.1" ry="0.6" fill="#aad2ec"/><ellipse cx="119.7" cy="83.7" rx="2.8" ry="0.8" fill="#8bc0e3"/><ellipse cx="127.8" cy="80.2" rx="2.6" ry="0.7" fill="#8bc0e3"/><ellipse cx="133.0" cy="79.3" rx="3.0" ry="0.7" fill="#8bc0e3"/><ellipse cx="137.9" cy="76.4" rx="2.4" ry="0.8" fill="#aad2ec"/><ellipse cx="142.7" cy="75.5" rx="2.1" ry="0.8" fill="#9ecbe8"/><ellipse cx="148.3" cy="73.1" rx="1.9" ry="1.0" fill="#8bc0e3"/><ellipse cx="154.2" cy="71.6" rx="2.4" ry="0.7" fill="#9ecbe8"/><ellipse cx="158.2" cy="70.2" rx="2.4" ry="1.0" fill="#a3cee9"/><ellipse cx="163.8" cy="68.3" rx="3.3" ry="0.6" fill="#93c5e6"/><ellipse cx="169.8" cy="66.2" rx="2.8" ry="1.0" fill="#aad2ec"/><ellipse cx="175.0" cy="64.0" rx="2.9" ry="0.9" fill="#9ecbe8"/><ellipse cx="180.4" cy="61.5" rx="3.1" ry="0.7" fill="#8bc0e3"/><ellipse cx="186.6" cy="60.3" rx="2.3" ry="1.0" fill="#9ecbe8"/><ellipse cx="191.6" cy="58.2" rx="3.0" ry="1.0" fill="#9ecbe8"/><ellipse cx="196.0" cy="56.7" rx="2.2" ry="1.1" fill="#aad2ec"/><ellipse cx="201.7" cy="54.1" rx="2.3" ry="1.1" fill="#9ecbe8"/><ellipse cx="207.6" cy="52.2" rx="3.0" ry="0.7" fill="#a3cee9"/><ellipse cx="211.8" cy="50.6" rx="2.3" ry="0.9" fill="#aad2ec"/><ellipse cx="218.6" cy="48.8" rx="3.2" ry="1.0" fill="#a3cee9"/><ellipse cx="223.2" cy="47.5" rx="3.4" ry="1.0" fill="#9ecbe8"/><ellipse cx="228.5" cy="45.1" rx="2.2" ry="0.8" fill="#aad2ec"/><ellipse cx="233.1" cy="44.3" rx="2.4" ry="0.6" fill="#aad2ec"/><ellipse cx="238.8" cy="41.6" rx="2.9" ry="0.8" fill="#a3cee9"/><ellipse cx="244.3" cy="39.5" rx="2.8" ry="0.8" fill="#aad2ec"/><ellipse cx="250.2" cy="37.8" rx="3.1" ry="0.6" fill="#8bc0e3"/><ellipse cx="257.2" cy="35.8" rx="2.7" ry="0.9" fill="#aad2ec"/><ellipse cx="262.6" cy="33.1" rx="2.3" ry="1.0" fill="#9ecbe8"/><ellipse cx="268.0" cy="32.1" rx="2.0" ry="1.0" fill="#9ecbe8"/><ellipse cx="271.2" cy="30.7" rx="2.6" ry="1.1" fill="#aad2ec"/><ellipse cx="278.1" cy="27.6" rx="2.8" ry="0.8" fill="#8bc0e3"/><ellipse cx="282.1" cy="26.9" rx="2.0" ry="0.8" fill="#93c5e6"/><ellipse cx="42.7" cy="113.2" rx="3.2" ry="1.1" fill="#93c5e6"/><ellipse cx="48.1" cy="110.8" rx="2.5" ry="0.8" fill="#a3cee9"/><ellipse cx="54.2" cy="109.1" rx="3.3" ry="0.8" fill="#8bc0e3"/><ellipse cx="58.1" cy="108.2" rx="1.9" ry="0.9" fill="#8bc0e3"/><ellipse cx="63.5" cy="106.0" rx="3.3" ry="0.7" fill="#8bc0e3"/><ellipse cx="70.5" cy="103.8" rx="2.8" ry="0.7" fill="#9ecbe8"/><ellipse cx="74.0" cy="102.7" rx="3.0" ry="0.8" fill="#93c5e6"/><ellipse cx="80.2" cy="100.4" rx="2.0" ry="1.1" fill="#8bc0e3"/><ellipse cx="86.8" cy="97.7" rx="2.3" ry="0.8" fill="#a3cee9"/><ellipse cx="92.2" cy="95.4" rx="2.2" ry="0.7" fill="#aad2ec"/><ellipse cx="97.2" cy="94.0" rx="3.4" ry="1.1" fill="#93c5e6"/><ellipse cx="102.2" cy="92.9" rx="2.0" ry="0.7" fill="#a3cee9"/><ellipse cx="108.7" cy="90.0" rx="2.8" ry="1.0" fill="#aad2ec"/><ellipse cx="114.1" cy="88.1" rx="2.7" ry="0.9" fill="#aad2ec"/><ellipse cx="117.3" cy="87.8" rx="3.0" ry="0.7" fill="#9ecbe8"/><ellipse cx="122.4" cy="85.5" rx="2.9" ry="0.7" fill="#8bc0e3"/><ellipse cx="128.9" cy="83.7" rx="1.9" ry="0.8" fill="#93c5e6"/><ellipse cx="134.5" cy="81.8" rx="2.6" ry="0.9" fill="#93c5e6"/><ellipse cx="139.6" cy="78.8" rx="3.1" ry="0.7" fill="#a3cee9"/><ellipse cx="145.0" cy="78.0" rx="2.7" ry="1.1" fill="#aad2ec"/><ellipse cx="150.0" cy="75.3" rx="2.6" ry="1.0" fill="#a3cee9"/><ellipse cx="155.0" cy="74.5" rx="2.7" ry="0.7" fill="#a3cee9"/><ellipse cx="160.7" cy="71.3" rx="2.4" ry="0.8" fill="#93c5e6"/><ellipse cx="165.6" cy="69.8" rx="2.0" ry="0.9" fill="#9ecbe8"/><ellipse cx="173.0" cy="67.4" rx="3.0" ry="0.7" fill="#a3cee9"/><ellipse cx="178.2" cy="65.8" rx="2.6" ry="0.6" fill="#a3cee9"/><ellipse cx="184.0" cy="64.2" rx="3.4" ry="0.7" fill="#9ecbe8"/><ellipse cx="188.3" cy="61.8" rx="3.0" ry="0.8" fill="#a3cee9"/><ellipse cx="194.7" cy="60.1" rx="2.7" ry="1.1" fill="#93c5e6"/><ellipse cx="199.7" cy="58.5" rx="2.6" ry="1.0" fill="#a3cee9"/><ellipse cx="203.5" cy="56.8" rx="2.8" ry="0.6" fill="#9ecbe8"/><ellipse cx="210.3" cy="54.5" rx="2.5" ry="0.8" fill="#aad2ec"/><ellipse cx="214.9" cy="53.2" rx="2.6" ry="0.8" fill="#93c5e6"/><ellipse cx="220.6" cy="51.0" rx="2.8" ry="0.8" fill="#9ecbe8"/><ellipse cx="226.5" cy="48.5" rx="2.0" ry="1.0" fill="#8bc0e3"/><ellipse cx="232.2" cy="47.6" rx="3.3" ry="0.7" fill="#9ecbe8"/><ellipse cx="237.0" cy="45.8" rx="3.2" ry="1.1" fill="#8bc0e3"/><ellipse cx="242.2" cy="43.1" rx="3.1" ry="1.1" fill="#aad2ec"/><ellipse cx="246.8" cy="42.0" rx="3.4" ry="1.0" fill="#8bc0e3"/><ellipse cx="254.5" cy="39.9" rx="2.5" ry="0.7" fill="#8bc0e3"/><ellipse cx="259.2" cy="37.5" rx="3.2" ry="1.1" fill="#a3cee9"/><ellipse cx="263.1" cy="36.5" rx="1.9" ry="0.8" fill="#a3cee9"/><ellipse cx="270.7" cy="33.9" rx="2.1" ry="0.7" fill="#aad2ec"/><ellipse cx="274.1" cy="32.9" rx="2.0" ry="0.9" fill="#9ecbe8"/><ellipse cx="280.9" cy="30.0" rx="3.4" ry="1.0" fill="#93c5e6"/><ellipse cx="285.2" cy="28.6" rx="2.1" ry="0.8" fill="#a3cee9"/></g></g><polygon points="89,96.5 150,89 201,76.5 232,65.5 273,48.5 275,47 275,59.5 242,79 211,89 181,96.3 150,105.5 116,115 100,121 89,116" fill="#d4ebf7"/><g clip-path="url(#cpFront)" stroke="#f4fafd" stroke-width="0.8"><ellipse cx="85.2" cy="90.2" rx="3.9" ry="1.5" fill="#77b0dc"/><ellipse cx="92.7" cy="87.5" rx="3.1" ry="1.6" fill="#77b0dc"/><ellipse cx="98.6" cy="86.4" rx="3.0" ry="1.7" fill="#8bbfe3"/><ellipse cx="105.3" cy="84.5" rx="2.9" ry="1.6" fill="#8bbfe3"/><ellipse cx="112.3" cy="82.7" rx="3.8" ry="1.2" fill="#77b0dc"/><ellipse cx="118.8" cy="80.1" rx="3.2" ry="1.7" fill="#80b7df"/><ellipse cx="125.4" cy="78.8" rx="3.0" ry="1.9" fill="#77b0dc"/><ellipse cx="132.6" cy="75.8" rx="3.0" ry="1.2" fill="#77b0dc"/><ellipse cx="140.0" cy="74.3" rx="3.4" ry="1.6" fill="#8bbfe3"/><ellipse cx="144.6" cy="72.2" rx="3.7" ry="1.5" fill="#80b7df"/><ellipse cx="152.4" cy="70.5" rx="2.9" ry="1.9" fill="#80b7df"/><ellipse cx="157.9" cy="68.9" rx="3.5" ry="1.4" fill="#8bbfe3"/><ellipse cx="166.4" cy="66.4" rx="3.9" ry="1.6" fill="#80b7df"/><ellipse cx="172.3" cy="64.7" rx="3.6" ry="1.2" fill="#80b7df"/><ellipse cx="177.3" cy="62.7" rx="4.0" ry="1.2" fill="#94c5e6"/><ellipse cx="184.3" cy="60.5" rx="3.5" ry="1.7" fill="#94c5e6"/><ellipse cx="190.5" cy="59.4" rx="3.0" ry="1.8" fill="#80b7df"/><ellipse cx="198.0" cy="56.9" rx="3.9" ry="1.5" fill="#80b7df"/><ellipse cx="205.4" cy="54.9" rx="4.0" ry="1.6" fill="#77b0dc"/><ellipse cx="210.9" cy="52.2" rx="2.7" ry="1.9" fill="#80b7df"/><ellipse cx="217.0" cy="50.5" rx="3.5" ry="1.6" fill="#77b0dc"/><ellipse cx="225.6" cy="47.7" rx="2.9" ry="1.6" fill="#77b0dc"/><ellipse cx="230.4" cy="47.3" rx="2.8" ry="1.2" fill="#8bbfe3"/><ellipse cx="237.5" cy="44.6" rx="2.8" ry="1.9" fill="#94c5e6"/><ellipse cx="245.3" cy="42.1" rx="2.7" ry="1.8" fill="#80b7df"/><ellipse cx="251.4" cy="40.9" rx="2.6" ry="1.1" fill="#8bbfe3"/><ellipse cx="256.7" cy="38.5" rx="4.0" ry="1.7" fill="#80b7df"/><ellipse cx="264.2" cy="36.0" rx="4.0" ry="1.6" fill="#77b0dc"/><ellipse cx="270.4" cy="34.1" rx="2.9" ry="1.4" fill="#8bbfe3"/><ellipse cx="276.9" cy="32.1" rx="3.1" ry="1.3" fill="#77b0dc"/><ellipse cx="90.0" cy="92.1" rx="3.1" ry="1.8" fill="#80b7df"/><ellipse cx="96.5" cy="90.9" rx="3.9" ry="1.6" fill="#80b7df"/><ellipse cx="102.7" cy="89.2" rx="2.8" ry="1.4" fill="#94c5e6"/><ellipse cx="107.9" cy="86.8" rx="2.9" ry="1.8" fill="#94c5e6"/><ellipse cx="116.4" cy="85.5" rx="3.1" ry="1.2" fill="#77b0dc"/><ellipse cx="122.8" cy="82.8" rx="3.1" ry="1.2" fill="#94c5e6"/><ellipse cx="128.8" cy="81.7" rx="3.1" ry="1.4" fill="#80b7df"/><ellipse cx="136.1" cy="79.6" rx="3.2" ry="1.7" fill="#94c5e6"/><ellipse cx="142.5" cy="76.8" rx="3.5" ry="1.6" fill="#94c5e6"/><ellipse cx="148.2" cy="76.0" rx="3.9" ry="1.3" fill="#80b7df"/><ellipse cx="155.8" cy="73.3" rx="3.3" ry="1.1" fill="#77b0dc"/><ellipse cx="162.0" cy="71.3" rx="3.3" ry="1.5" fill="#80b7df"/><ellipse cx="167.6" cy="69.1" rx="3.7" ry="1.9" fill="#94c5e6"/><ellipse cx="175.4" cy="67.7" rx="3.7" ry="1.8" fill="#80b7df"/><ellipse cx="181.0" cy="65.8" rx="3.8" ry="1.8" fill="#94c5e6"/><ellipse cx="188.4" cy="63.7" rx="2.9" ry="1.5" fill="#94c5e6"/><ellipse cx="196.0" cy="61.5" rx="2.6" ry="1.8" fill="#8bbfe3"/><ellipse cx="201.9" cy="58.9" rx="3.8" ry="1.5" fill="#80b7df"/><ellipse cx="207.8" cy="58.1" rx="3.7" ry="1.5" fill="#77b0dc"/><ellipse cx="215.8" cy="54.3" rx="4.0" ry="1.7" fill="#94c5e6"/><ellipse cx="221.4" cy="53.5" rx="2.6" ry="1.5" fill="#94c5e6"/><ellipse cx="227.6" cy="52.3" rx="3.6" ry="1.1" fill="#80b7df"/><ellipse cx="234.4" cy="48.8" rx="3.2" ry="1.3" fill="#94c5e6"/><ellipse cx="241.5" cy="47.3" rx="3.5" ry="1.8" fill="#94c5e6"/><ellipse cx="247.9" cy="45.5" rx="3.5" ry="1.5" fill="#8bbfe3"/><ellipse cx="255.1" cy="42.6" rx="2.8" ry="1.4" fill="#8bbfe3"/><ellipse cx="261.0" cy="42.2" rx="3.7" ry="1.3" fill="#8bbfe3"/><ellipse cx="266.8" cy="39.3" rx="2.6" ry="1.3" fill="#80b7df"/><ellipse cx="272.9" cy="37.8" rx="4.1" ry="1.7" fill="#94c5e6"/><ellipse cx="280.9" cy="35.2" rx="3.8" ry="1.7" fill="#8bbfe3"/><ellipse cx="85.9" cy="98.0" rx="3.1" ry="1.1" fill="#94c5e6"/><ellipse cx="93.7" cy="95.4" rx="3.6" ry="1.5" fill="#80b7df"/><ellipse cx="100.0" cy="94.3" rx="3.4" ry="1.2" fill="#77b0dc"/><ellipse cx="105.5" cy="92.3" rx="3.6" ry="1.4" fill="#77b0dc"/><ellipse cx="113.4" cy="89.6" rx="3.8" ry="1.9" fill="#77b0dc"/><ellipse cx="118.6" cy="88.6" rx="3.9" ry="1.2" fill="#80b7df"/><ellipse cx="125.8" cy="86.6" rx="2.7" ry="1.5" fill="#77b0dc"/><ellipse cx="133.4" cy="84.5" rx="2.8" ry="1.4" fill="#94c5e6"/><ellipse cx="138.9" cy="82.9" rx="3.0" ry="1.1" fill="#77b0dc"/><ellipse cx="145.9" cy="80.3" rx="2.7" ry="1.5" fill="#94c5e6"/><ellipse cx="152.9" cy="77.5" rx="3.9" ry="1.1" fill="#94c5e6"/><ellipse cx="157.5" cy="76.2" rx="2.6" ry="1.1" fill="#80b7df"/><ellipse cx="164.6" cy="74.8" rx="3.6" ry="1.2" fill="#77b0dc"/><ellipse cx="170.8" cy="72.9" rx="3.2" ry="1.2" fill="#80b7df"/><ellipse cx="179.0" cy="70.6" rx="4.0" ry="1.5" fill="#8bbfe3"/><ellipse cx="186.1" cy="68.6" rx="3.5" ry="1.3" fill="#77b0dc"/><ellipse cx="192.8" cy="66.3" rx="3.7" ry="1.8" fill="#94c5e6"/><ellipse cx="198.5" cy="64.4" rx="3.9" ry="1.2" fill="#80b7df"/><ellipse cx="204.9" cy="62.9" rx="2.7" ry="1.7" fill="#94c5e6"/><ellipse cx="211.0" cy="60.3" rx="4.0" ry="1.3" fill="#8bbfe3"/><ellipse cx="216.8" cy="58.1" rx="3.7" ry="1.2" fill="#77b0dc"/><ellipse cx="224.5" cy="56.6" rx="3.7" ry="1.7" fill="#80b7df"/><ellipse cx="232.4" cy="53.3" rx="4.0" ry="1.4" fill="#80b7df"/><ellipse cx="237.6" cy="52.1" rx="3.5" ry="1.9" fill="#8bbfe3"/><ellipse cx="245.4" cy="50.4" rx="3.0" ry="1.3" fill="#80b7df"/><ellipse cx="250.9" cy="49.3" rx="3.1" ry="1.4" fill="#94c5e6"/><ellipse cx="258.6" cy="46.7" rx="3.4" ry="1.2" fill="#94c5e6"/><ellipse cx="264.9" cy="43.8" rx="2.8" ry="1.6" fill="#94c5e6"/><ellipse cx="270.9" cy="42.5" rx="2.7" ry="1.3" fill="#77b0dc"/><ellipse cx="278.2" cy="39.7" rx="3.7" ry="1.4" fill="#94c5e6"/><ellipse cx="89.0" cy="100.5" rx="4.0" ry="1.5" fill="#94c5e6"/><ellipse cx="95.4" cy="98.5" rx="3.6" ry="1.8" fill="#8bbfe3"/><ellipse cx="102.1" cy="96.7" rx="3.6" ry="1.7" fill="#8bbfe3"/><ellipse cx="109.0" cy="95.6" rx="4.0" ry="1.5" fill="#94c5e6"/><ellipse cx="115.5" cy="93.4" rx="4.0" ry="1.3" fill="#77b0dc"/><ellipse cx="123.1" cy="90.6" rx="2.7" ry="1.2" fill="#8bbfe3"/><ellipse cx="129.5" cy="89.2" rx="4.1" ry="1.6" fill="#80b7df"/><ellipse cx="135.3" cy="87.3" rx="3.4" ry="1.3" fill="#8bbfe3"/><ellipse cx="141.4" cy="86.0" rx="3.3" ry="1.9" fill="#77b0dc"/><ellipse cx="149.1" cy="82.6" rx="4.1" ry="1.3" fill="#80b7df"/><ellipse cx="156.4" cy="81.6" rx="3.8" ry="1.8" fill="#80b7df"/><ellipse cx="160.8" cy="79.2" rx="3.6" ry="1.7" fill="#80b7df"/><ellipse cx="167.4" cy="78.3" rx="4.2" ry="1.8" fill="#94c5e6"/><ellipse cx="174.8" cy="75.9" rx="2.6" ry="1.6" fill="#94c5e6"/><ellipse cx="180.8" cy="72.8" rx="3.9" ry="1.6" fill="#94c5e6"/><ellipse cx="187.9" cy="71.1" rx="4.1" ry="1.5" fill="#80b7df"/><ellipse cx="194.4" cy="70.1" rx="2.6" ry="1.7" fill="#80b7df"/><ellipse cx="202.5" cy="67.6" rx="2.6" ry="1.4" fill="#80b7df"/><ellipse cx="208.8" cy="65.1" rx="3.9" ry="1.2" fill="#80b7df"/><ellipse cx="214.1" cy="63.4" rx="4.0" ry="1.5" fill="#8bbfe3"/><ellipse cx="221.0" cy="61.0" rx="3.7" ry="1.6" fill="#94c5e6"/><ellipse cx="228.4" cy="60.0" rx="3.5" ry="1.2" fill="#80b7df"/><ellipse cx="233.5" cy="58.2" rx="3.0" ry="1.4" fill="#77b0dc"/><ellipse cx="240.8" cy="56.1" rx="3.2" ry="1.6" fill="#94c5e6"/><ellipse cx="247.0" cy="53.4" rx="2.6" ry="1.3" fill="#94c5e6"/><ellipse cx="253.6" cy="51.6" rx="4.1" ry="1.3" fill="#80b7df"/><ellipse cx="261.7" cy="49.7" rx="3.5" ry="1.4" fill="#94c5e6"/><ellipse cx="266.5" cy="47.2" rx="3.1" ry="1.2" fill="#80b7df"/><ellipse cx="275.0" cy="44.6" rx="3.7" ry="1.1" fill="#80b7df"/><ellipse cx="281.2" cy="44.0" rx="3.6" ry="1.3" fill="#94c5e6"/><ellipse cx="85.7" cy="105.7" rx="2.8" ry="1.8" fill="#94c5e6"/><ellipse cx="93.6" cy="103.2" rx="3.0" ry="1.5" fill="#80b7df"/><ellipse cx="100.1" cy="101.3" rx="3.0" ry="1.3" fill="#77b0dc"/><ellipse cx="106.2" cy="100.3" rx="3.5" ry="1.7" fill="#80b7df"/><ellipse cx="111.5" cy="97.9" rx="3.7" ry="1.2" fill="#80b7df"/><ellipse cx="118.2" cy="95.8" rx="3.5" ry="1.4" fill="#8bbfe3"/><ellipse cx="125.6" cy="94.6" rx="3.7" ry="1.8" fill="#8bbfe3"/><ellipse cx="132.0" cy="92.0" rx="3.1" ry="1.1" fill="#77b0dc"/><ellipse cx="139.4" cy="90.0" rx="2.6" ry="1.3" fill="#94c5e6"/><ellipse cx="145.3" cy="87.7" rx="3.9" ry="1.8" fill="#80b7df"/><ellipse cx="153.1" cy="85.8" rx="4.2" ry="1.1" fill="#8bbfe3"/><ellipse cx="158.9" cy="84.4" rx="3.6" ry="1.6" fill="#94c5e6"/><ellipse cx="165.3" cy="82.5" rx="2.9" ry="1.6" fill="#77b0dc"/><ellipse cx="170.8" cy="81.0" rx="2.9" ry="1.4" fill="#8bbfe3"/><ellipse cx="178.6" cy="79.0" rx="4.1" ry="1.9" fill="#77b0dc"/><ellipse cx="186.0" cy="75.6" rx="3.5" ry="1.6" fill="#8bbfe3"/><ellipse cx="191.0" cy="74.4" rx="3.3" ry="1.5" fill="#8bbfe3"/><ellipse cx="197.3" cy="72.2" rx="3.6" ry="1.6" fill="#8bbfe3"/><ellipse cx="204.8" cy="71.1" rx="2.9" ry="1.2" fill="#94c5e6"/><ellipse cx="210.4" cy="68.4" rx="4.0" ry="1.6" fill="#80b7df"/><ellipse cx="219.1" cy="65.4" rx="4.1" ry="1.1" fill="#80b7df"/><ellipse cx="224.8" cy="65.1" rx="3.8" ry="1.2" fill="#77b0dc"/><ellipse cx="230.6" cy="62.8" rx="3.4" ry="1.4" fill="#94c5e6"/><ellipse cx="238.0" cy="60.5" rx="4.2" ry="1.7" fill="#8bbfe3"/><ellipse cx="245.0" cy="58.3" rx="3.7" ry="1.6" fill="#80b7df"/><ellipse cx="252.1" cy="56.6" rx="2.9" ry="1.6" fill="#94c5e6"/><ellipse cx="258.6" cy="54.1" rx="3.4" ry="1.7" fill="#80b7df"/><ellipse cx="264.2" cy="52.4" rx="3.7" ry="1.7" fill="#94c5e6"/><ellipse cx="271.5" cy="50.0" rx="3.7" ry="1.5" fill="#80b7df"/><ellipse cx="277.3" cy="48.4" rx="2.6" ry="1.5" fill="#77b0dc"/><ellipse cx="88.8" cy="109.1" rx="2.7" ry="1.8" fill="#94c5e6"/><ellipse cx="95.8" cy="106.8" rx="3.4" ry="1.5" fill="#94c5e6"/><ellipse cx="102.8" cy="104.9" rx="3.6" ry="1.2" fill="#77b0dc"/><ellipse cx="108.6" cy="103.0" rx="3.1" ry="1.7" fill="#94c5e6"/><ellipse cx="116.0" cy="101.5" rx="2.8" ry="1.9" fill="#77b0dc"/><ellipse cx="121.6" cy="99.0" rx="2.8" ry="1.6" fill="#80b7df"/><ellipse cx="129.2" cy="97.2" rx="3.9" ry="1.4" fill="#80b7df"/><ellipse cx="136.0" cy="94.4" rx="4.2" ry="1.6" fill="#77b0dc"/><ellipse cx="141.8" cy="93.5" rx="3.1" ry="1.8" fill="#77b0dc"/><ellipse cx="148.0" cy="91.4" rx="3.0" ry="1.5" fill="#8bbfe3"/><ellipse cx="155.3" cy="90.0" rx="2.8" ry="1.3" fill="#80b7df"/><ellipse cx="163.1" cy="86.9" rx="3.7" ry="1.3" fill="#80b7df"/><ellipse cx="167.6" cy="86.1" rx="3.2" ry="1.8" fill="#94c5e6"/><ellipse cx="174.1" cy="84.2" rx="3.2" ry="1.8" fill="#94c5e6"/><ellipse cx="180.8" cy="82.1" rx="3.7" ry="1.3" fill="#94c5e6"/><ellipse cx="189.2" cy="78.5" rx="3.4" ry="1.5" fill="#80b7df"/><ellipse cx="194.7" cy="77.8" rx="3.8" ry="1.3" fill="#77b0dc"/><ellipse cx="202.4" cy="75.8" rx="3.6" ry="1.1" fill="#8bbfe3"/><ellipse cx="209.1" cy="73.3" rx="3.6" ry="1.8" fill="#94c5e6"/><ellipse cx="213.8" cy="70.9" rx="2.9" ry="1.7" fill="#77b0dc"/><ellipse cx="220.8" cy="70.1" rx="4.1" ry="1.8" fill="#94c5e6"/><ellipse cx="226.9" cy="67.6" rx="3.3" ry="1.3" fill="#80b7df"/><ellipse cx="233.6" cy="65.7" rx="4.1" ry="1.8" fill="#94c5e6"/><ellipse cx="240.3" cy="63.4" rx="3.1" ry="1.4" fill="#8bbfe3"/><ellipse cx="246.9" cy="61.4" rx="4.2" ry="1.1" fill="#94c5e6"/><ellipse cx="253.3" cy="60.2" rx="3.3" ry="1.8" fill="#8bbfe3"/><ellipse cx="261.5" cy="56.7" rx="3.0" ry="1.4" fill="#80b7df"/><ellipse cx="268.2" cy="56.1" rx="3.4" ry="1.2" fill="#80b7df"/><ellipse cx="274.9" cy="52.7" rx="3.4" ry="1.5" fill="#94c5e6"/><ellipse cx="281.5" cy="50.7" rx="3.1" ry="1.2" fill="#94c5e6"/><ellipse cx="85.1" cy="113.6" rx="3.0" ry="1.6" fill="#80b7df"/><ellipse cx="93.7" cy="112.3" rx="2.8" ry="1.7" fill="#94c5e6"/><ellipse cx="100.3" cy="109.3" rx="3.4" ry="1.3" fill="#8bbfe3"/><ellipse cx="104.6" cy="107.8" rx="3.8" ry="1.7" fill="#80b7df"/><ellipse cx="111.4" cy="105.9" rx="3.5" ry="1.3" fill="#80b7df"/><ellipse cx="118.0" cy="104.1" rx="3.0" ry="1.9" fill="#80b7df"/><ellipse cx="124.8" cy="101.9" rx="3.3" ry="1.5" fill="#80b7df"/><ellipse cx="131.3" cy="100.0" rx="3.6" ry="1.2" fill="#80b7df"/><ellipse cx="138.3" cy="98.7" rx="3.2" ry="1.4" fill="#94c5e6"/><ellipse cx="146.5" cy="96.0" rx="3.0" ry="1.6" fill="#80b7df"/><ellipse cx="151.7" cy="94.2" rx="3.5" ry="1.9" fill="#94c5e6"/><ellipse cx="157.8" cy="92.6" rx="3.1" ry="1.5" fill="#8bbfe3"/><ellipse cx="164.0" cy="90.6" rx="3.1" ry="1.6" fill="#94c5e6"/><ellipse cx="172.8" cy="87.3" rx="2.8" ry="1.2" fill="#80b7df"/><ellipse cx="178.5" cy="85.8" rx="3.8" ry="1.5" fill="#77b0dc"/><ellipse cx="184.6" cy="83.8" rx="3.1" ry="1.6" fill="#77b0dc"/><ellipse cx="191.0" cy="81.8" rx="3.6" ry="1.1" fill="#77b0dc"/><ellipse cx="197.8" cy="80.4" rx="3.7" ry="1.2" fill="#77b0dc"/><ellipse cx="204.2" cy="77.9" rx="3.3" ry="1.7" fill="#80b7df"/><ellipse cx="210.7" cy="76.2" rx="2.7" ry="1.6" fill="#94c5e6"/><ellipse cx="219.0" cy="74.2" rx="4.1" ry="1.5" fill="#77b0dc"/><ellipse cx="224.1" cy="72.5" rx="4.1" ry="1.5" fill="#80b7df"/><ellipse cx="230.8" cy="71.3" rx="2.7" ry="1.1" fill="#94c5e6"/><ellipse cx="237.5" cy="68.2" rx="2.9" ry="1.4" fill="#77b0dc"/><ellipse cx="244.9" cy="66.5" rx="3.6" ry="1.5" fill="#80b7df"/><ellipse cx="250.7" cy="64.6" rx="2.6" ry="1.2" fill="#77b0dc"/><ellipse cx="256.7" cy="63.4" rx="3.5" ry="1.2" fill="#80b7df"/><ellipse cx="263.6" cy="61.4" rx="3.3" ry="1.6" fill="#8bbfe3"/><ellipse cx="271.7" cy="58.6" rx="2.6" ry="1.2" fill="#94c5e6"/><ellipse cx="278.3" cy="55.7" rx="3.5" ry="1.2" fill="#77b0dc"/><ellipse cx="90.3" cy="117.4" rx="3.7" ry="1.8" fill="#8bbfe3"/><ellipse cx="96.9" cy="115.2" rx="2.7" ry="1.8" fill="#94c5e6"/><ellipse cx="103.5" cy="112.7" rx="2.7" ry="1.7" fill="#8bbfe3"/><ellipse cx="109.8" cy="111.4" rx="3.8" ry="1.2" fill="#77b0dc"/><ellipse cx="115.1" cy="108.9" rx="3.0" ry="1.6" fill="#94c5e6"/><ellipse cx="121.8" cy="107.3" rx="2.9" ry="1.3" fill="#77b0dc"/><ellipse cx="129.3" cy="104.3" rx="3.0" ry="1.9" fill="#77b0dc"/><ellipse cx="136.4" cy="103.1" rx="2.8" ry="1.2" fill="#8bbfe3"/><ellipse cx="143.0" cy="101.3" rx="2.7" ry="1.7" fill="#94c5e6"/><ellipse cx="148.7" cy="99.5" rx="3.4" ry="1.2" fill="#94c5e6"/><ellipse cx="154.4" cy="97.2" rx="4.0" ry="1.6" fill="#94c5e6"/><ellipse cx="161.9" cy="95.0" rx="3.5" ry="1.1" fill="#77b0dc"/><ellipse cx="168.2" cy="92.9" rx="3.4" ry="1.2" fill="#77b0dc"/><ellipse cx="174.3" cy="92.1" rx="3.1" ry="1.7" fill="#8bbfe3"/><ellipse cx="182.0" cy="89.6" rx="3.0" ry="1.8" fill="#8bbfe3"/><ellipse cx="187.7" cy="87.3" rx="3.2" ry="1.2" fill="#77b0dc"/><ellipse cx="194.9" cy="85.4" rx="4.0" ry="1.2" fill="#77b0dc"/><ellipse cx="200.5" cy="83.1" rx="2.7" ry="1.6" fill="#8bbfe3"/><ellipse cx="208.8" cy="80.4" rx="2.6" ry="1.6" fill="#77b0dc"/><ellipse cx="214.2" cy="79.6" rx="2.8" ry="1.4" fill="#80b7df"/><ellipse cx="221.4" cy="76.8" rx="3.3" ry="1.3" fill="#77b0dc"/><ellipse cx="228.8" cy="75.8" rx="3.8" ry="1.6" fill="#8bbfe3"/><ellipse cx="233.5" cy="74.5" rx="3.6" ry="1.4" fill="#94c5e6"/><ellipse cx="240.6" cy="71.4" rx="3.9" ry="1.4" fill="#77b0dc"/><ellipse cx="247.0" cy="70.2" rx="3.5" ry="1.7" fill="#80b7df"/><ellipse cx="254.3" cy="67.0" rx="3.8" ry="1.5" fill="#80b7df"/><ellipse cx="260.2" cy="66.0" rx="2.7" ry="1.5" fill="#8bbfe3"/><ellipse cx="266.6" cy="64.4" rx="3.2" ry="1.8" fill="#8bbfe3"/><ellipse cx="275.2" cy="61.6" rx="3.5" ry="1.8" fill="#8bbfe3"/><ellipse cx="281.6" cy="58.6" rx="3.4" ry="1.7" fill="#8bbfe3"/><ellipse cx="85.5" cy="122.9" rx="2.7" ry="1.1" fill="#77b0dc"/><ellipse cx="93.1" cy="120.0" rx="2.9" ry="1.9" fill="#77b0dc"/><ellipse cx="100.1" cy="117.8" rx="3.6" ry="1.5" fill="#94c5e6"/><ellipse cx="106.6" cy="115.9" rx="3.6" ry="1.7" fill="#8bbfe3"/><ellipse cx="111.7" cy="114.3" rx="2.7" ry="1.4" fill="#80b7df"/><ellipse cx="117.9" cy="113.1" rx="2.8" ry="1.8" fill="#80b7df"/><ellipse cx="126.7" cy="109.9" rx="4.0" ry="1.5" fill="#80b7df"/><ellipse cx="132.8" cy="107.9" rx="3.3" ry="1.4" fill="#77b0dc"/><ellipse cx="137.7" cy="106.5" rx="3.7" ry="1.7" fill="#77b0dc"/><ellipse cx="144.7" cy="104.2" rx="3.2" ry="1.8" fill="#8bbfe3"/><ellipse cx="153.0" cy="101.6" rx="3.3" ry="1.4" fill="#80b7df"/><ellipse cx="158.1" cy="100.6" rx="3.3" ry="1.7" fill="#77b0dc"/><ellipse cx="164.5" cy="98.6" rx="3.2" ry="1.6" fill="#94c5e6"/><ellipse cx="171.6" cy="96.0" rx="3.4" ry="1.4" fill="#8bbfe3"/><ellipse cx="179.3" cy="94.4" rx="3.0" ry="1.8" fill="#8bbfe3"/><ellipse cx="185.8" cy="92.0" rx="3.7" ry="1.7" fill="#77b0dc"/><ellipse cx="190.6" cy="89.9" rx="3.4" ry="1.8" fill="#94c5e6"/><ellipse cx="198.8" cy="88.7" rx="3.4" ry="1.8" fill="#80b7df"/><ellipse cx="205.1" cy="85.6" rx="3.8" ry="1.8" fill="#77b0dc"/><ellipse cx="210.9" cy="85.3" rx="4.2" ry="1.1" fill="#8bbfe3"/><ellipse cx="217.0" cy="83.3" rx="3.0" ry="1.4" fill="#94c5e6"/><ellipse cx="225.7" cy="80.6" rx="2.6" ry="1.2" fill="#77b0dc"/><ellipse cx="232.1" cy="78.4" rx="3.6" ry="1.4" fill="#94c5e6"/><ellipse cx="238.0" cy="76.7" rx="3.4" ry="1.3" fill="#77b0dc"/><ellipse cx="245.3" cy="74.3" rx="4.0" ry="1.3" fill="#77b0dc"/><ellipse cx="249.9" cy="72.1" rx="3.9" ry="1.2" fill="#77b0dc"/><ellipse cx="256.5" cy="70.3" rx="4.1" ry="1.7" fill="#8bbfe3"/><ellipse cx="263.9" cy="68.6" rx="2.9" ry="1.1" fill="#8bbfe3"/><ellipse cx="271.1" cy="65.7" rx="2.7" ry="1.7" fill="#94c5e6"/><ellipse cx="277.1" cy="64.7" rx="3.1" ry="1.9" fill="#80b7df"/><ellipse cx="89.1" cy="125.1" rx="2.7" ry="1.8" fill="#77b0dc"/><ellipse cx="94.8" cy="124.1" rx="3.8" ry="1.6" fill="#94c5e6"/><ellipse cx="103.5" cy="120.0" rx="3.7" ry="1.5" fill="#8bbfe3"/><ellipse cx="109.7" cy="118.4" rx="3.5" ry="1.1" fill="#80b7df"/><ellipse cx="116.5" cy="116.4" rx="4.1" ry="1.2" fill="#94c5e6"/><ellipse cx="122.4" cy="114.3" rx="4.1" ry="1.5" fill="#80b7df"/><ellipse cx="128.2" cy="114.1" rx="2.7" ry="1.2" fill="#80b7df"/><ellipse cx="135.7" cy="111.0" rx="2.7" ry="1.5" fill="#94c5e6"/><ellipse cx="142.6" cy="109.2" rx="3.7" ry="1.9" fill="#77b0dc"/><ellipse cx="148.6" cy="106.5" rx="3.2" ry="1.5" fill="#8bbfe3"/><ellipse cx="154.7" cy="106.0" rx="4.2" ry="1.9" fill="#77b0dc"/><ellipse cx="162.0" cy="102.4" rx="3.4" ry="1.6" fill="#94c5e6"/><ellipse cx="169.5" cy="100.6" rx="3.3" ry="1.8" fill="#8bbfe3"/><ellipse cx="174.0" cy="98.8" rx="3.3" ry="1.2" fill="#8bbfe3"/><ellipse cx="180.7" cy="98.2" rx="3.0" ry="1.2" fill="#94c5e6"/><ellipse cx="189.0" cy="94.3" rx="3.2" ry="1.7" fill="#80b7df"/><ellipse cx="195.0" cy="93.2" rx="3.3" ry="1.7" fill="#80b7df"/><ellipse cx="202.2" cy="91.1" rx="3.6" ry="1.2" fill="#94c5e6"/><ellipse cx="207.7" cy="88.8" rx="2.7" ry="1.5" fill="#8bbfe3"/><ellipse cx="214.4" cy="87.4" rx="2.9" ry="1.2" fill="#94c5e6"/><ellipse cx="220.5" cy="85.4" rx="3.4" ry="1.7" fill="#94c5e6"/><ellipse cx="227.7" cy="84.0" rx="3.4" ry="1.1" fill="#94c5e6"/><ellipse cx="233.8" cy="81.6" rx="3.7" ry="1.4" fill="#94c5e6"/><ellipse cx="241.8" cy="78.8" rx="3.2" ry="1.7" fill="#77b0dc"/><ellipse cx="248.8" cy="76.7" rx="2.7" ry="1.3" fill="#8bbfe3"/><ellipse cx="255.3" cy="74.5" rx="2.8" ry="1.6" fill="#77b0dc"/><ellipse cx="260.1" cy="73.5" rx="4.0" ry="1.5" fill="#8bbfe3"/><ellipse cx="268.3" cy="70.7" rx="3.7" ry="1.1" fill="#80b7df"/><ellipse cx="274.8" cy="69.3" rx="3.5" ry="1.8" fill="#8bbfe3"/><ellipse cx="281.7" cy="67.5" rx="2.9" ry="1.2" fill="#8bbfe3"/></g><g clip-path="url(#cpSlab)"><ellipse cx="55.0" cy="75.8" rx="2.1" ry="0.45" fill="#fff" opacity="0.85"/><ellipse cx="152.2" cy="112.7" rx="2.6" ry="0.45" fill="#fff" opacity="0.85"/><ellipse cx="218.6" cy="104.0" rx="2.1" ry="0.45" fill="#fff" opacity="0.85"/><ellipse cx="188.5" cy="72.4" rx="2.4" ry="0.45" fill="#fff" opacity="0.85"/><ellipse cx="167.3" cy="96.0" rx="1.8" ry="0.45" fill="#fff" opacity="0.85"/><ellipse cx="241.2" cy="55.0" rx="2.1" ry="0.45" fill="#fff" opacity="0.85"/><ellipse cx="243.8" cy="121.8" rx="2.2" ry="0.45" fill="#fff" opacity="0.85"/><ellipse cx="268.5" cy="45.0" rx="3.4" ry="0.45" fill="#fff" opacity="0.85"/><ellipse cx="88.2" cy="44.8" rx="3.0" ry="0.45" fill="#fff" opacity="0.85"/><ellipse cx="78.7" cy="102.9" rx="1.5" ry="0.45" fill="#fff" opacity="0.85"/><ellipse cx="69.7" cy="71.0" rx="1.7" ry="0.45" fill="#fff" opacity="0.85"/><ellipse cx="153.1" cy="70.0" rx="3.0" ry="0.45" fill="#fff" opacity="0.85"/><ellipse cx="158.3" cy="120.2" rx="3.2" ry="0.45" fill="#fff" opacity="0.85"/><ellipse cx="81.1" cy="116.3" rx="3.3" ry="0.45" fill="#fff" opacity="0.85"/><ellipse cx="175.6" cy="84.7" rx="1.8" ry="0.45" fill="#fff" opacity="0.85"/><ellipse cx="117.0" cy="59.8" rx="1.9" ry="0.45" fill="#fff" opacity="0.85"/><ellipse cx="187.4" cy="68.3" rx="3.0" ry="0.45" fill="#fff" opacity="0.85"/><ellipse cx="177.6" cy="109.0" rx="1.7" ry="0.45" fill="#fff" opacity="0.85"/><ellipse cx="243.3" cy="83.1" rx="2.8" ry="0.45" fill="#fff" opacity="0.85"/><ellipse cx="97.2" cy="98.4" rx="2.3" ry="0.45" fill="#fff" opacity="0.85"/><ellipse cx="213.2" cy="89.3" rx="1.8" ry="0.45" fill="#fff" opacity="0.85"/><ellipse cx="112.2" cy="102.9" rx="1.5" ry="0.45" fill="#fff" opacity="0.85"/><ellipse cx="191.6" cy="86.2" rx="2.9" ry="0.45" fill="#fff" opacity="0.85"/><ellipse cx="119.0" cy="80.6" rx="2.5" ry="0.45" fill="#fff" opacity="0.85"/><ellipse cx="219.8" cy="47.9" rx="2.5" ry="0.45" fill="#fff" opacity="0.85"/><ellipse cx="102.3" cy="89.7" rx="2.0" ry="0.45" fill="#fff" opacity="0.85"/><ellipse cx="89.5" cy="60.8" rx="3.3" ry="0.45" fill="#fff" opacity="0.85"/><ellipse cx="127.3" cy="113.3" rx="3.0" ry="0.45" fill="#fff" opacity="0.85"/><ellipse cx="104.5" cy="86.9" rx="1.5" ry="0.45" fill="#fff" opacity="0.85"/><ellipse cx="263.9" cy="93.1" rx="1.7" ry="0.45" fill="#fff" opacity="0.85"/><ellipse cx="164.5" cy="82.1" rx="2.8" ry="0.45" fill="#fff" opacity="0.85"/><ellipse cx="109.4" cy="115.7" rx="2.7" ry="0.45" fill="#fff" opacity="0.85"/><ellipse cx="57.4" cy="108.3" rx="3.3" ry="0.45" fill="#fff" opacity="0.85"/><ellipse cx="113.0" cy="99.6" rx="3.2" ry="0.45" fill="#fff" opacity="0.85"/><ellipse cx="251.7" cy="47.7" rx="3.2" ry="0.45" fill="#fff" opacity="0.85"/><ellipse cx="99.6" cy="107.0" rx="2.9" ry="0.45" fill="#fff" opacity="0.85"/><ellipse cx="151.8" cy="115.1" rx="3.1" ry="0.45" fill="#fff" opacity="0.85"/><ellipse cx="278.6" cy="119.7" rx="2.6" ry="0.45" fill="#fff" opacity="0.85"/><ellipse cx="216.4" cy="96.3" rx="2.3" ry="0.45" fill="#fff" opacity="0.85"/><ellipse cx="159.7" cy="83.1" rx="1.9" ry="0.45" fill="#fff" opacity="0.85"/><ellipse cx="102.7" cy="110.4" rx="3.2" ry="0.45" fill="#fff" opacity="0.85"/><ellipse cx="207.4" cy="97.8" rx="2.5" ry="0.45" fill="#fff" opacity="0.85"/><ellipse cx="177.6" cy="96.0" rx="1.5" ry="0.45" fill="#fff" opacity="0.85"/><ellipse cx="146.5" cy="120.5" rx="1.9" ry="0.45" fill="#fff" opacity="0.85"/><ellipse cx="152.2" cy="48.3" rx="2.0" ry="0.45" fill="#fff" opacity="0.85"/><ellipse cx="237.8" cy="44.7" rx="3.1" ry="0.45" fill="#fff" opacity="0.85"/><ellipse cx="231.5" cy="112.3" rx="2.0" ry="0.45" fill="#fff" opacity="0.85"/><ellipse cx="263.6" cy="72.1" rx="2.4" ry="0.45" fill="#fff" opacity="0.85"/><ellipse cx="268.2" cy="86.1" rx="2.9" ry="0.45" fill="#fff" opacity="0.85"/><ellipse cx="66.5" cy="42.4" rx="2.0" ry="0.45" fill="#fff" opacity="0.85"/><ellipse cx="65.4" cy="108.7" rx="2.0" ry="0.45" fill="#fff" opacity="0.85"/><ellipse cx="269.8" cy="96.9" rx="1.9" ry="0.45" fill="#fff" opacity="0.85"/><ellipse cx="210.6" cy="67.8" rx="2.6" ry="0.45" fill="#fff" opacity="0.85"/><ellipse cx="58.2" cy="109.5" rx="3.1" ry="0.45" fill="#fff" opacity="0.85"/><ellipse cx="179.4" cy="97.9" rx="2.2" ry="0.45" fill="#fff" opacity="0.85"/><ellipse cx="70.6" cy="68.3" rx="3.0" ry="0.45" fill="#fff" opacity="0.85"/><ellipse cx="175.1" cy="52.9" rx="2.0" ry="0.45" fill="#fff" opacity="0.85"/><ellipse cx="154.0" cy="43.2" rx="1.6" ry="0.45" fill="#fff" opacity="0.85"/><ellipse cx="148.0" cy="52.8" rx="3.3" ry="0.45" fill="#fff" opacity="0.85"/><ellipse cx="70.9" cy="102.7" rx="3.1" ry="0.45" fill="#fff" opacity="0.85"/><ellipse cx="115.7" cy="85.9" rx="3.5" ry="0.45" fill="#fff" opacity="0.85"/><ellipse cx="188.1" cy="73.4" rx="3.5" ry="0.45" fill="#fff" opacity="0.85"/><ellipse cx="102.3" cy="119.4" rx="2.1" ry="0.45" fill="#fff" opacity="0.85"/><ellipse cx="141.2" cy="67.6" rx="2.8" ry="0.45" fill="#fff" opacity="0.85"/><ellipse cx="251.8" cy="97.8" rx="1.9" ry="0.45" fill="#fff" opacity="0.85"/><ellipse cx="277.7" cy="100.5" rx="2.5" ry="0.45" fill="#fff" opacity="0.85"/><ellipse cx="243.9" cy="50.7" rx="2.7" ry="0.45" fill="#fff" opacity="0.85"/><ellipse cx="228.6" cy="104.9" rx="2.8" ry="0.45" fill="#fff" opacity="0.85"/><ellipse cx="55.0" cy="80.7" rx="2.0" ry="0.45" fill="#fff" opacity="0.85"/><ellipse cx="185.9" cy="74.1" rx="2.4" ry="0.45" fill="#fff" opacity="0.85"/><ellipse cx="169.1" cy="89.7" rx="3.3" ry="0.45" fill="#fff" opacity="0.85"/><ellipse cx="107.7" cy="64.3" rx="1.9" ry="0.45" fill="#fff" opacity="0.85"/><ellipse cx="67.0" cy="110.8" rx="3.3" ry="0.45" fill="#fff" opacity="0.85"/><ellipse cx="70.2" cy="71.2" rx="3.3" ry="0.45" fill="#fff" opacity="0.85"/><ellipse cx="247.4" cy="121.3" rx="3.5" ry="0.45" fill="#fff" opacity="0.85"/><ellipse cx="112.9" cy="47.4" rx="2.0" ry="0.45" fill="#fff" opacity="0.85"/><ellipse cx="160.6" cy="43.2" rx="2.0" ry="0.45" fill="#fff" opacity="0.85"/><ellipse cx="153.5" cy="97.2" rx="1.8" ry="0.45" fill="#fff" opacity="0.85"/><ellipse cx="69.6" cy="68.8" rx="1.7" ry="0.45" fill="#fff" opacity="0.85"/><ellipse cx="69.3" cy="50.4" rx="3.1" ry="0.45" fill="#fff" opacity="0.85"/><ellipse cx="251.0" cy="45.5" rx="3.1" ry="0.45" fill="#fff" opacity="0.85"/><ellipse cx="242.5" cy="94.7" rx="2.1" ry="0.45" fill="#fff" opacity="0.85"/><ellipse cx="236.8" cy="48.6" rx="1.6" ry="0.45" fill="#fff" opacity="0.85"/><ellipse cx="269.1" cy="59.9" rx="3.3" ry="0.45" fill="#fff" opacity="0.85"/><ellipse cx="221.0" cy="45.8" rx="1.7" ry="0.45" fill="#fff" opacity="0.85"/><ellipse cx="195.1" cy="53.8" rx="2.8" ry="0.45" fill="#fff" opacity="0.85"/><ellipse cx="201.4" cy="60.7" rx="2.5" ry="0.45" fill="#fff" opacity="0.85"/><ellipse cx="90.9" cy="112.6" rx="2.8" ry="0.45" fill="#fff" opacity="0.85"/><ellipse cx="205.9" cy="92.3" rx="1.6" ry="0.45" fill="#fff" opacity="0.85"/><ellipse cx="252.7" cy="105.1" rx="2.5" ry="0.45" fill="#fff" opacity="0.85"/><ellipse cx="181.7" cy="81.9" rx="3.0" ry="0.45" fill="#fff" opacity="0.85"/><ellipse cx="167.9" cy="64.5" rx="2.5" ry="0.45" fill="#fff" opacity="0.85"/><ellipse cx="91.3" cy="42.4" rx="2.5" ry="0.45" fill="#fff" opacity="0.85"/><ellipse cx="248.9" cy="100.3" rx="1.9" ry="0.45" fill="#fff" opacity="0.85"/><ellipse cx="162.0" cy="89.3" rx="2.7" ry="0.45" fill="#fff" opacity="0.85"/><ellipse cx="150.4" cy="83.3" rx="2.9" ry="0.45" fill="#fff" opacity="0.85"/><ellipse cx="251.5" cy="83.8" rx="3.1" ry="0.45" fill="#fff" opacity="0.85"/><ellipse cx="203.2" cy="51.7" rx="2.0" ry="0.45" fill="#fff" opacity="0.85"/><ellipse cx="115.3" cy="70.7" rx="2.5" ry="0.45" fill="#fff" opacity="0.85"/><ellipse cx="110.7" cy="122.8" rx="3.0" ry="0.45" fill="#fff" opacity="0.85"/><ellipse cx="129.1" cy="98.7" rx="3.3" ry="0.45" fill="#fff" opacity="0.85"/><ellipse cx="78.3" cy="93.0" rx="3.4" ry="0.45" fill="#fff" opacity="0.85"/><ellipse cx="130.1" cy="113.1" rx="3.1" ry="0.45" fill="#fff" opacity="0.85"/><ellipse cx="116.8" cy="53.7" rx="3.1" ry="0.45" fill="#fff" opacity="0.85"/><ellipse cx="139.7" cy="70.4" rx="2.4" ry="0.45" fill="#fff" opacity="0.85"/><ellipse cx="214.8" cy="114.4" rx="3.3" ry="0.45" fill="#fff" opacity="0.85"/><ellipse cx="223.9" cy="56.2" rx="2.2" ry="0.45" fill="#fff" opacity="0.85"/><ellipse cx="41.7" cy="58.3" rx="2.2" ry="0.45" fill="#fff" opacity="0.85"/><ellipse cx="82.5" cy="80.6" rx="1.8" ry="0.45" fill="#fff" opacity="0.85"/><ellipse cx="196.7" cy="75.3" rx="2.0" ry="0.45" fill="#fff" opacity="0.85"/><ellipse cx="204.6" cy="68.6" rx="1.5" ry="0.45" fill="#fff" opacity="0.85"/><ellipse cx="241.2" cy="103.1" rx="3.3" ry="0.45" fill="#fff" opacity="0.85"/><ellipse cx="110.5" cy="63.4" rx="2.9" ry="0.45" fill="#fff" opacity="0.85"/><ellipse cx="75.1" cy="120.3" rx="2.8" ry="0.45" fill="#fff" opacity="0.85"/><ellipse cx="171.6" cy="46.2" rx="2.1" ry="0.45" fill="#fff" opacity="0.85"/><ellipse cx="141.6" cy="121.4" rx="1.8" ry="0.45" fill="#fff" opacity="0.85"/><ellipse cx="182.0" cy="48.3" rx="3.4" ry="0.45" fill="#fff" opacity="0.85"/><ellipse cx="219.3" cy="107.8" rx="3.0" ry="0.45" fill="#fff" opacity="0.85"/><ellipse cx="83.1" cy="61.5" rx="1.6" ry="0.45" fill="#fff" opacity="0.85"/><ellipse cx="172.3" cy="48.6" rx="1.9" ry="0.45" fill="#fff" opacity="0.85"/><ellipse cx="81.8" cy="116.5" rx="3.1" ry="0.45" fill="#fff" opacity="0.85"/><ellipse cx="108.6" cy="120.6" rx="1.8" ry="0.45" fill="#fff" opacity="0.85"/><ellipse cx="73.7" cy="72.9" rx="3.1" ry="0.45" fill="#fff" opacity="0.85"/><ellipse cx="63.7" cy="105.9" rx="2.6" ry="0.45" fill="#fff" opacity="0.85"/><ellipse cx="231.6" cy="69.3" rx="1.6" ry="0.45" fill="#fff" opacity="0.85"/><ellipse cx="63.7" cy="100.6" rx="2.5" ry="0.45" fill="#fff" opacity="0.85"/><ellipse cx="223.3" cy="58.1" rx="2.1" ry="0.45" fill="#fff" opacity="0.85"/><ellipse cx="90.8" cy="110.9" rx="2.9" ry="0.45" fill="#fff" opacity="0.85"/><ellipse cx="77.2" cy="100.8" rx="1.6" ry="0.45" fill="#fff" opacity="0.85"/><ellipse cx="152.0" cy="62.8" rx="3.0" ry="0.45" fill="#fff" opacity="0.85"/><ellipse cx="212.5" cy="97.4" rx="1.9" ry="0.45" fill="#fff" opacity="0.85"/><ellipse cx="50.3" cy="93.8" rx="2.9" ry="0.45" fill="#fff" opacity="0.85"/><ellipse cx="42.2" cy="109.9" rx="3.3" ry="0.45" fill="#fff" opacity="0.85"/><ellipse cx="126.7" cy="84.0" rx="2.8" ry="0.45" fill="#fff" opacity="0.85"/><ellipse cx="262.2" cy="94.6" rx="2.5" ry="0.45" fill="#fff" opacity="0.85"/><ellipse cx="224.5" cy="81.7" rx="1.6" ry="0.45" fill="#fff" opacity="0.85"/><ellipse cx="171.4" cy="75.5" rx="2.2" ry="0.45" fill="#fff" opacity="0.85"/><ellipse cx="134.6" cy="59.9" rx="2.1" ry="0.45" fill="#fff" opacity="0.85"/><ellipse cx="219.3" cy="113.7" rx="2.4" ry="0.45" fill="#fff" opacity="0.85"/><ellipse cx="242.9" cy="52.2" rx="2.5" ry="0.45" fill="#fff" opacity="0.85"/><circle cx="215.3" cy="102.2" r="1.3" fill="#bdb0a4" opacity="0.9"/><circle cx="253.6" cy="96.7" r="1.5" fill="#bdb0a4" opacity="0.9"/><circle cx="126.8" cy="54.1" r="1.3" fill="#5a78b0" opacity="0.9"/><circle cx="247.6" cy="93.8" r="1.6" fill="#5a78b0" opacity="0.9"/><circle cx="82.1" cy="87.2" r="1.1" fill="#5a78b0" opacity="0.9"/><circle cx="70.2" cy="96.8" r="1.7" fill="#c8bcb2" opacity="0.9"/><circle cx="271.9" cy="67.9" r="1.6" fill="#bdb0a4" opacity="0.9"/><circle cx="69.8" cy="101.8" r="1.7" fill="#4a6aa5" opacity="0.9"/><circle cx="120.4" cy="111.0" r="1.3" fill="#c8bcb2" opacity="0.9"/><circle cx="198.3" cy="108.4" r="1.6" fill="#4a6aa5" opacity="0.9"/><circle cx="181.4" cy="111.3" r="1.4" fill="#c8bcb2" opacity="0.9"/><circle cx="228.7" cy="58.7" r="1.1" fill="#bdb0a4" opacity="0.9"/><circle cx="127.8" cy="116.4" r="1.7" fill="#5a78b0" opacity="0.9"/><circle cx="144.8" cy="93.3" r="1.1" fill="#4a6aa5" opacity="0.9"/><circle cx="63.5" cy="54.3" r="1.1" fill="#5a78b0" opacity="0.9"/><circle cx="116.5" cy="83.9" r="1.0" fill="#5a78b0" opacity="0.9"/><circle cx="74.5" cy="94.7" r="1.0" fill="#bdb0a4" opacity="0.9"/><circle cx="178.6" cy="97.4" r="1.4" fill="#4a6aa5" opacity="0.9"/><circle cx="67.4" cy="88.4" r="1.5" fill="#4a6aa5" opacity="0.9"/><circle cx="74.9" cy="84.8" r="1.7" fill="#c8bcb2" opacity="0.9"/><circle cx="105.9" cy="47.8" r="1.2" fill="#bdb0a4" opacity="0.9"/><circle cx="146.9" cy="83.9" r="1.0" fill="#bdb0a4" opacity="0.9"/><circle cx="137.4" cy="105.5" r="1.7" fill="#5a78b0" opacity="0.9"/><circle cx="138.6" cy="82.4" r="1.6" fill="#c8bcb2" opacity="0.9"/><circle cx="213.5" cy="73.4" r="1.2" fill="#5a78b0" opacity="0.9"/><circle cx="101.3" cy="86.8" r="1.2" fill="#5a78b0" opacity="0.9"/><circle cx="256.3" cy="54.6" r="1.1" fill="#4a6aa5" opacity="0.9"/><circle cx="127.8" cy="114.6" r="1.7" fill="#4a6aa5" opacity="0.9"/><circle cx="149.4" cy="107.6" r="1.1" fill="#4a6aa5" opacity="0.9"/><circle cx="194.5" cy="69.6" r="1.1" fill="#c8bcb2" opacity="0.9"/><circle cx="68.5" cy="83.7" r="1.1" fill="#bdb0a4" opacity="0.9"/><circle cx="176.1" cy="115.8" r="1.1" fill="#c8bcb2" opacity="0.9"/><circle cx="124.1" cy="100.3" r="1.7" fill="#bdb0a4" opacity="0.9"/><circle cx="260.8" cy="90.9" r="1.1" fill="#5a78b0" opacity="0.9"/><circle cx="112.1" cy="58.5" r="1.3" fill="#bdb0a4" opacity="0.9"/><circle cx="244.4" cy="86.5" r="1.3" fill="#bdb0a4" opacity="0.9"/><circle cx="51.1" cy="110.4" r="1.6" fill="#5a78b0" opacity="0.9"/><circle cx="59.5" cy="91.8" r="1.2" fill="#c8bcb2" opacity="0.9"/><circle cx="213.3" cy="56.6" r="1.3" fill="#c8bcb2" opacity="0.9"/><circle cx="167.4" cy="56.5" r="1.1" fill="#c8bcb2" opacity="0.9"/></g><polygon points="43,77 89,102 89,115.5 43,83.5" fill="#a3a3a3"/><polygon points="43,77 89,102 89,103.5 43,78.5" fill="#cfcfcf"/><text x="27" y="92" font-size="7.6" fill="#222" text-anchor="start" >Electrode</text><text x="244" y="42.2" font-size="7.8" fill="#222" text-anchor="start" >Electrode</text><text x="208.5" y="89.2" font-size="7.8" fill="#222" text-anchor="start" >Nanomaterials</text><polygon points="145,128.5 172.3,128.5 158.65,145.0" fill="#cdcdcd" stroke="#cdcdcd" stroke-width="2" stroke-linejoin="round"/><polyline points="146.6,138.7 158.65,150.9 170.70000000000002,138.7" fill="none" stroke="#cdcdcd" stroke-width="3.8" stroke-linecap="round" stroke-linejoin="round"/><polygon points="149,264.7 176.3,264.7 162.65,281.2" fill="#cdcdcd" stroke="#cdcdcd" stroke-width="2" stroke-linejoin="round"/><polyline points="150.6,274.9 162.65,287.09999999999997 174.70000000000002,274.9" fill="none" stroke="#cdcdcd" stroke-width="3.8" stroke-linecap="round" stroke-linejoin="round"/><rect x="58" y="150" width="214" height="100" fill="#e2eef8" filter="url(#bl4)"/><ellipse cx="154.3" cy="205.0" rx="77.03999999999999" ry="32.0" fill="#f6f9fc" opacity="0.75" filter="url(#bl8)"/><path d="M48,166.5 C71.4,177.975 81.8,180 100,180 C139.48,180 154.52,162.5 194,162.5 C228.4,162.5 249.9,176.0 280,180.5" fill="none" stroke="#93c4cf" stroke-width="8.5"/><path d="M48,223.5 C71.4,234.975 81.8,237 100,237 C139.48,237 154.52,220.5 194,220.5 C228.4,220.5 249.9,234.0 280,238.5" fill="none" stroke="#93c4cf" stroke-width="8.5"/><g stroke="#222" stroke-width="0.6" fill="none"><line x1="87.7" y1="138.3" x2="100.9" y2="138.3"/><line x1="107.30000000000001" y1="138.3" x2="117.5" y2="138.3"/><line x1="123.5" y1="138.3" x2="137.2" y2="138.3"/><path d="M97.5,130.3 L96.10000000000001,130.3 L96.10000000000001,146.70000000000002 L97.5,146.70000000000002"/><path d="M127.1,130.3 L128.5,130.3 L128.5,146.70000000000002 L127.1,146.70000000000002"/><line x1="120.5" y1="140.5" x2="120.5" y2="152.10000000000002"/><line x1="120.5" y1="156.9" x2="120.5" y2="168.3"/></g><g stroke="#858585" stroke-width="2"><line x1="106.9" y1="154.60000000000002" x2="118.0" y2="154.60000000000002"/><line x1="123.0" y1="154.60000000000002" x2="134.1" y2="154.60000000000002"/></g><g font-size="5" fill="#111" stroke="#111" stroke-width="0.1" text-anchor="middle"><text x="104.1" y="140.10000000000002">C</text><text x="105.30000000000001" y="133.5">H<tspan font-size="3.4" dy="1">2</tspan></text><text x="120.5" y="140.10000000000002">C</text><text x="120.5" y="133.70000000000002">H</text><text x="131.9" y="143.70000000000002" font-size="4.6">n</text><text x="120.5" y="156.4">S</text><text x="103.9" y="156.4">O</text><text x="137.1" y="156.4">O</text><text x="123.5" y="172.3">ONa</text></g><g fill="none" stroke="#333" stroke-width="0.95"><path d="M70.4,178.9 L70.4,175.5 L73.80000000000001,175.5 M95.1,175.5 L98.5,175.5 L98.5,178.9 M98.5,204.7 L98.5,208.1 L95.1,208.1 M73.80000000000001,208.1 L70.4,208.1 L70.4,204.7"/><path d="M80.7,175.5 L88.2,175.5 M80.7,208.1 L88.2,208.1 M70.4,188.05 L70.4,195.55 M98.5,188.05 L98.5,195.55"/><path d="M84.5,175.5 L84.5,172.3 M84.5,158.70000000000002 L84.5,155.3 L87.9,155.3"/><path d="M84.5,162.10000000000002 L84.5,168.9"/><path d="M92.3,155.3 L95.5,155.3"/></g><line x1="82.7" y1="180.29999999999998" x2="82.7" y2="185.29999999999998" stroke="#3a4a50" stroke-width="1"/><ellipse cx="83.9" cy="194.9" rx="8.715000000000002" ry="8.715000000000002" fill="#8a8a8a" opacity="0.55" filter="url(#bl1)"/><circle cx="82.7" cy="193.1" r="8.3" fill="url(#gAn)"/><rect x="78.135" y="192.0625" width="9.13" height="2.075" fill="#333"/><circle cx="90.2" cy="201.9" r="4.2" fill="url(#gNa)"/><rect x="87.68" y="201.43800000000002" width="5.04" height="0.924" fill="#1c2a4a"/><rect x="89.738" y="199.38" width="0.924" height="5.04" fill="#1c2a4a"/><line x1="213" y1="163.5" x2="213" y2="170.0" stroke="#3a4a50" stroke-width="1"/><ellipse cx="214.2" cy="178.8" rx="7.875" ry="7.875" fill="#8a8a8a" opacity="0.55" filter="url(#bl1)"/><circle cx="213" cy="177" r="7.5" fill="url(#gAn)"/><rect x="208.875" y="176.0625" width="8.25" height="1.875" fill="#333"/><circle cx="207" cy="184.5" r="3.5" fill="url(#gNa)"/><rect x="204.9" y="184.115" width="4.2" height="0.77" fill="#1c2a4a"/><rect x="206.615" y="182.4" width="0.77" height="4.2" fill="#1c2a4a"/><line x1="227" y1="226.5" x2="227" y2="232.0" stroke="#3a4a50" stroke-width="1"/><ellipse cx="228.2" cy="241.8" rx="8.925" ry="8.925" fill="#8a8a8a" opacity="0.55" filter="url(#bl1)"/><circle cx="227" cy="240" r="8.5" fill="url(#gAn)"/><rect x="222.325" y="238.9375" width="9.350000000000001" height="2.125" fill="#333"/><circle cx="219.5" cy="250" r="3.8" fill="url(#gNa)"/><rect x="217.22" y="249.582" width="4.56" height="0.836" fill="#1c2a4a"/><rect x="219.082" y="247.72" width="0.836" height="4.56" fill="#1c2a4a"/><ellipse cx="41.1" cy="170" rx="7.949999999999999" ry="7.419999999999999" fill="#9a9a9a" opacity="0.5" filter="url(#bl2)"/><circle cx="38.7" cy="175.2" r="3.3" fill="url(#gH)"/><circle cx="38.6" cy="167" r="5.3" fill="url(#gO)"/><circle cx="31.8" cy="162.6" r="3.4" fill="url(#gH)"/><ellipse cx="34.8" cy="203.4" rx="7.949999999999999" ry="7.419999999999999" fill="#9a9a9a" opacity="0.5" filter="url(#bl2)"/><circle cx="36" cy="193.4" r="3.0" fill="url(#gH)"/><circle cx="32.3" cy="200.4" r="5.3" fill="url(#gO)"/><circle cx="24.4" cy="201" r="3.3" fill="url(#gH)"/><ellipse cx="63.5" cy="207.5" rx="7.5" ry="7.0" fill="#9a9a9a" opacity="0.5" filter="url(#bl2)"/><circle cx="53.6" cy="205" r="2.8" fill="url(#gH)"/><circle cx="61" cy="204.5" r="5.0" fill="url(#gO)"/><circle cx="65.6" cy="208.6" r="3.1" fill="url(#gH)"/><ellipse cx="33.4" cy="231.6" rx="7.949999999999999" ry="7.419999999999999" fill="#9a9a9a" opacity="0.5" filter="url(#bl2)"/><circle cx="21.8" cy="227.4" r="2.9" fill="url(#gH)"/><circle cx="30.9" cy="228.6" r="5.3" fill="url(#gO)"/><circle cx="36" cy="223.6" r="3.1" fill="url(#gH)"/><line x1="36.3" y1="183.6" x2="67.6" y2="183.6" stroke="#111" stroke-width="0.8" marker-end="url(#ah)"/><line x1="41.1" y1="234" x2="71.9" y2="234" stroke="#111" stroke-width="0.8" marker-end="url(#ah)"/><text x="53" y="256.5" font-size="9.4" fill="#1a1a1a" text-anchor="start" >Water-Nano materials interaction</text><rect x="71" y="294.2" width="181" height="15.6" fill="#e6e6e6"/><text x="161.5" y="305" font-size="9.4" fill="#1a1a1a" text-anchor="middle" >At room temperature</text><rect x="50" y="337" width="214" height="104" fill="#e2eef8" filter="url(#bl4)"/><ellipse cx="146.3" cy="394.2" rx="77.03999999999999" ry="33.28" fill="#f6f9fc" opacity="0.75" filter="url(#bl8)"/><path d="M41,353 C63.95,363.2 74.15,365 92,365 C133.16,365 148.84,350 190,350 C223.44,350 244.34000000000003,363.5 273.6,368" fill="none" stroke="#93c4cf" stroke-width="8.5"/><path d="M42,411 C67.2,422.9 78.4,425 98,425 C136.64,425 151.36,408 190,408 C223.44,408 244.34000000000003,421.875 273.6,426.5" fill="none" stroke="#93c4cf" stroke-width="8.5"/><g stroke="#222" stroke-width="0.6" fill="none"><line x1="81.2" y1="326.5" x2="94.4" y2="326.5"/><line x1="100.80000000000001" y1="326.5" x2="111.0" y2="326.5"/><line x1="117.0" y1="326.5" x2="130.7" y2="326.5"/><path d="M91.0,318.5 L89.60000000000001,318.5 L89.60000000000001,334.9 L91.0,334.9"/><path d="M120.6,318.5 L122.0,318.5 L122.0,334.9 L120.6,334.9"/><line x1="114.0" y1="328.7" x2="114.0" y2="340.3"/><line x1="114.0" y1="345.1" x2="114.0" y2="356.5"/></g><g stroke="#858585" stroke-width="2"><line x1="100.4" y1="342.8" x2="111.5" y2="342.8"/><line x1="116.5" y1="342.8" x2="127.6" y2="342.8"/></g><g font-size="5" fill="#111" stroke="#111" stroke-width="0.1" text-anchor="middle"><text x="97.6" y="328.3">C</text><text x="98.80000000000001" y="321.7">H<tspan font-size="3.4" dy="1">2</tspan></text><text x="114.0" y="328.3">C</text><text x="114.0" y="321.9">H</text><text x="125.4" y="331.9" font-size="4.6">n</text><text x="114.0" y="344.6">S</text><text x="97.4" y="344.6">O</text><text x="130.6" y="344.6">O</text><text x="114.80000000000001" y="360.5">O<tspan font-size="3.2" dy="-1.5">−</tspan></text></g><g fill="none" stroke="#333" stroke-width="0.95"><path d="M62.7,366.4 L62.7,363 L66.10000000000001,363 M88.6,363 L92,363 L92,366.4 M92,392.6 L92,396 L88.6,396 M66.10000000000001,396 L62.7,396 L62.7,392.6"/><path d="M73.6,363 L81.1,363 M73.6,396 L81.1,396 M62.7,375.75 L62.7,383.25 M92,375.75 L92,383.25"/><path d="M77.4,363 L77.4,359.8 M77.4,346.4 L77.4,343 L80.80000000000001,343"/><path d="M77.4,349.75 L77.4,356.45"/><path d="M84.8,343 L88,343"/></g><line x1="76.6" y1="368.7" x2="76.6" y2="373.2" stroke="#3a4a50" stroke-width="1"/><ellipse cx="77.8" cy="382.8" rx="8.715000000000002" ry="8.715000000000002" fill="#8a8a8a" opacity="0.55" filter="url(#bl1)"/><circle cx="76.6" cy="381" r="8.3" fill="url(#gAn)"/><rect x="72.035" y="379.9625" width="9.13" height="2.075" fill="#333"/><path d="M82,393 Q88,404 100,404" fill="none" stroke="#111" stroke-width="0.8" marker-end="url(#ah)"/><ellipse cx="116.0" cy="408.59999999999997" rx="7.5" ry="7.0" fill="#a0a0a0" opacity="0.45" filter="url(#bl2)"/><circle cx="113.8" cy="399.0" r="1.9" fill="#fff" opacity="0.75"/><circle cx="113.8" cy="399.0" r="1.15" fill="#e24848"/><circle cx="113.8" cy="411.79999999999995" r="1.9" fill="#fff" opacity="0.75"/><circle cx="113.8" cy="411.79999999999995" r="1.15" fill="#e24848"/><circle cx="107.39999999999999" cy="405.4" r="1.9" fill="#fff" opacity="0.75"/><circle cx="107.39999999999999" cy="405.4" r="1.15" fill="#e24848"/><circle cx="120.2" cy="405.4" r="1.9" fill="#fff" opacity="0.75"/><circle cx="120.2" cy="405.4" r="1.15" fill="#e24848"/><circle cx="113.8" cy="405.4" r="2.4" fill="url(#gNa)"/><rect x="112.36" y="405.13599999999997" width="2.88" height="0.528" fill="#1c2a4a"/><rect x="113.536" y="403.96" width="0.528" height="2.88" fill="#1c2a4a"/><line x1="129" y1="398.5" x2="200" y2="398.5" stroke="#111" stroke-width="0.8" marker-end="url(#ah)"/><line x1="206.6" y1="352.5" x2="206.6" y2="359.0" stroke="#3a4a50" stroke-width="1"/><ellipse cx="207.79999999999998" cy="368.0" rx="8.085" ry="8.085" fill="#8a8a8a" opacity="0.55" filter="url(#bl1)"/><circle cx="206.6" cy="366.2" r="7.7" fill="url(#gAn)"/><rect x="202.36499999999998" y="365.2375" width="8.47" height="1.925" fill="#333"/><ellipse cx="191.2" cy="384.2" rx="7.5" ry="7.0" fill="#a0a0a0" opacity="0.45" filter="url(#bl2)"/><circle cx="189" cy="374.6" r="1.9" fill="#fff" opacity="0.75"/><circle cx="189" cy="374.6" r="1.15" fill="#e24848"/><circle cx="189" cy="387.4" r="1.9" fill="#fff" opacity="0.75"/><circle cx="189" cy="387.4" r="1.15" fill="#e24848"/><circle cx="182.6" cy="381" r="1.9" fill="#fff" opacity="0.75"/><circle cx="182.6" cy="381" r="1.15" fill="#e24848"/><circle cx="195.4" cy="381" r="1.9" fill="#fff" opacity="0.75"/><circle cx="195.4" cy="381" r="1.15" fill="#e24848"/><circle cx="189" cy="381" r="2.4" fill="url(#gNa)"/><rect x="187.56" y="380.736" width="2.88" height="0.528" fill="#1c2a4a"/><rect x="188.736" y="379.56" width="0.528" height="2.88" fill="#1c2a4a"/><line x1="205" y1="383" x2="232" y2="383" stroke="#111" stroke-width="0.8" marker-end="url(#ah)"/><line x1="220.7" y1="415.09999999999997" x2="220.7" y2="419.59999999999997" stroke="#3a4a50" stroke-width="1"/><ellipse cx="221.89999999999998" cy="430.2" rx="9.765" ry="9.765" fill="#8a8a8a" opacity="0.55" filter="url(#bl1)"/><circle cx="220.7" cy="428.4" r="9.3" fill="url(#gAn)"/><rect x="215.58499999999998" y="427.23749999999995" width="10.230000000000002" height="2.325" fill="#333"/><ellipse cx="203.2" cy="450.7" rx="7.5" ry="7.0" fill="#a0a0a0" opacity="0.45" filter="url(#bl2)"/><circle cx="201" cy="441.1" r="1.9" fill="#fff" opacity="0.75"/><circle cx="201" cy="441.1" r="1.15" fill="#e24848"/><circle cx="201" cy="453.9" r="1.9" fill="#fff" opacity="0.75"/><circle cx="201" cy="453.9" r="1.15" fill="#e24848"/><circle cx="194.6" cy="447.5" r="1.9" fill="#fff" opacity="0.75"/><circle cx="194.6" cy="447.5" r="1.15" fill="#e24848"/><circle cx="207.4" cy="447.5" r="1.9" fill="#fff" opacity="0.75"/><circle cx="207.4" cy="447.5" r="1.15" fill="#e24848"/><circle cx="201" cy="447.5" r="2.4" fill="url(#gNa)"/><rect x="199.56" y="447.236" width="2.88" height="0.528" fill="#1c2a4a"/><rect x="200.736" y="446.06" width="0.528" height="2.88" fill="#1c2a4a"/><line x1="218" y1="448" x2="242" y2="448" stroke="#111" stroke-width="0.8" marker-end="url(#ah)"/><text x="38" y="466.3" font-size="9.4" fill="#1a1a1a" text-anchor="start" >Anion restriction, Cation dissociation and transport</text><text x="325.8" y="17" font-size="16.5" fill="#111" text-anchor="start" >b</text><rect x="380" y="24" width="130" height="72" fill="#f1f6fb" filter="url(#bl4)" opacity="0.9"/><g clip-path="url(#cpHex)" fill="none" stroke="#b8b8b8" stroke-width="0.45" stroke-dasharray="1,1"><polygon points="372.1,11.9 366.3,22.0 354.6,22.0 348.8,11.9 354.6,1.7 366.3,1.7"/><polygon points="372.1,32.1 366.3,42.3 354.6,42.3 348.8,32.1 354.6,22.0 366.3,22.0"/><polygon points="372.1,52.4 366.3,62.5 354.6,62.5 348.8,52.4 354.6,42.3 366.3,42.3"/><polygon points="372.1,72.7 366.3,82.8 354.6,82.8 348.8,72.7 354.6,62.5 366.3,62.5"/><polygon points="372.1,92.9 366.3,103.1 354.6,103.1 348.8,92.9 354.6,82.8 366.3,82.8"/><polygon points="372.1,113.2 366.3,123.3 354.6,123.3 348.8,113.2 354.6,103.1 366.3,103.1"/><polygon points="372.1,133.5 366.3,143.6 354.6,143.6 348.8,133.5 354.6,123.3 366.3,123.3"/><polygon points="389.7,1.7 383.9,11.9 372.1,11.9 366.3,1.7 372.1,-8.4 383.9,-8.4"/><polygon points="389.7,22.0 383.9,32.1 372.1,32.1 366.3,22.0 372.1,11.9 383.9,11.9"/><polygon points="389.7,42.3 383.9,52.4 372.1,52.4 366.3,42.3 372.1,32.1 383.9,32.1"/><polygon points="389.7,62.5 383.9,72.7 372.1,72.7 366.3,62.5 372.1,52.4 383.9,52.4"/><polygon points="389.7,82.8 383.9,92.9 372.1,92.9 366.3,82.8 372.1,72.7 383.9,72.7"/><polygon points="389.7,103.1 383.9,113.2 372.1,113.2 366.3,103.1 372.1,92.9 383.9,92.9"/><polygon points="389.7,123.3 383.9,133.5 372.1,133.5 366.3,123.3 372.1,113.2 383.9,113.2"/><polygon points="407.2,11.9 401.4,22.0 389.7,22.0 383.9,11.9 389.7,1.7 401.4,1.7"/><polygon points="407.2,32.1 401.4,42.3 389.7,42.3 383.9,32.1 389.7,22.0 401.4,22.0"/><polygon points="407.2,52.4 401.4,62.5 389.7,62.5 383.9,52.4 389.7,42.3 401.4,42.3"/><polygon points="407.2,72.7 401.4,82.8 389.7,82.8 383.9,72.7 389.7,62.5 401.4,62.5"/><polygon points="407.2,92.9 401.4,103.1 389.7,103.1 383.9,92.9 389.7,82.8 401.4,82.8"/><polygon points="407.2,113.2 401.4,123.3 389.7,123.3 383.9,113.2 389.7,103.1 401.4,103.1"/><polygon points="407.2,133.5 401.4,143.6 389.7,143.6 383.9,133.5 389.7,123.3 401.4,123.3"/><polygon points="424.8,1.7 419.0,11.9 407.2,11.9 401.4,1.7 407.2,-8.4 419.0,-8.4"/><polygon points="424.8,22.0 419.0,32.1 407.2,32.1 401.4,22.0 407.2,11.9 419.0,11.9"/><polygon points="424.8,42.3 419.0,52.4 407.2,52.4 401.4,42.3 407.2,32.1 419.0,32.1"/><polygon points="424.8,62.5 419.0,72.7 407.2,72.7 401.4,62.5 407.2,52.4 419.0,52.4"/><polygon points="424.8,82.8 419.0,92.9 407.2,92.9 401.4,82.8 407.2,72.7 419.0,72.7"/><polygon points="424.8,103.1 419.0,113.2 407.2,113.2 401.4,103.1 407.2,92.9 419.0,92.9"/><polygon points="424.8,123.3 419.0,133.5 407.2,133.5 401.4,123.3 407.2,113.2 419.0,113.2"/><polygon points="442.3,11.9 436.5,22.0 424.8,22.0 418.9,11.9 424.8,1.7 436.5,1.7"/><polygon points="442.3,32.1 436.5,42.3 424.8,42.3 418.9,32.1 424.8,22.0 436.5,22.0"/><polygon points="442.3,52.4 436.5,62.5 424.8,62.5 418.9,52.4 424.8,42.3 436.5,42.3"/><polygon points="442.3,72.7 436.5,82.8 424.8,82.8 418.9,72.7 424.8,62.5 436.5,62.5"/><polygon points="442.3,92.9 436.5,103.1 424.8,103.1 418.9,92.9 424.8,82.8 436.5,82.8"/><polygon points="442.3,113.2 436.5,123.3 424.8,123.3 418.9,113.2 424.8,103.1 436.5,103.1"/><polygon points="442.3,133.5 436.5,143.6 424.8,143.6 418.9,133.5 424.8,123.3 436.5,123.3"/><polygon points="459.9,1.7 454.1,11.9 442.3,11.9 436.5,1.7 442.3,-8.4 454.1,-8.4"/><polygon points="459.9,22.0 454.1,32.1 442.3,32.1 436.5,22.0 442.3,11.9 454.1,11.9"/><polygon points="459.9,42.3 454.1,52.4 442.3,52.4 436.5,42.3 442.3,32.1 454.1,32.1"/><polygon points="459.9,62.5 454.1,72.7 442.3,72.7 436.5,62.5 442.3,52.4 454.1,52.4"/><polygon points="459.9,82.8 454.1,92.9 442.3,92.9 436.5,82.8 442.3,72.7 454.1,72.7"/><polygon points="459.9,103.1 454.1,113.2 442.3,113.2 436.5,103.1 442.3,92.9 454.1,92.9"/><polygon points="459.9,123.3 454.1,133.5 442.3,133.5 436.5,123.3 442.3,113.2 454.1,113.2"/><polygon points="477.4,11.9 471.6,22.0 459.9,22.0 454.1,11.9 459.9,1.7 471.6,1.7"/><polygon points="477.4,32.1 471.6,42.3 459.9,42.3 454.1,32.1 459.9,22.0 471.6,22.0"/><polygon points="477.4,52.4 471.6,62.5 459.9,62.5 454.1,52.4 459.9,42.3 471.6,42.3"/><polygon points="477.4,72.7 471.6,82.8 459.9,82.8 454.1,72.7 459.9,62.5 471.6,62.5"/><polygon points="477.4,92.9 471.6,103.1 459.9,103.1 454.1,92.9 459.9,82.8 471.6,82.8"/><polygon points="477.4,113.2 471.6,123.3 459.9,123.3 454.1,113.2 459.9,103.1 471.6,103.1"/><polygon points="477.4,133.5 471.6,143.6 459.9,143.6 454.1,133.5 459.9,123.3 471.6,123.3"/><polygon points="495.0,1.7 489.2,11.9 477.4,11.9 471.6,1.7 477.4,-8.4 489.2,-8.4"/><polygon points="495.0,22.0 489.2,32.1 477.4,32.1 471.6,22.0 477.4,11.9 489.2,11.9"/><polygon points="495.0,42.3 489.2,52.4 477.4,52.4 471.6,42.3 477.4,32.1 489.2,32.1"/><polygon points="495.0,62.5 489.2,72.7 477.4,72.7 471.6,62.5 477.4,52.4 489.2,52.4"/><polygon points="495.0,82.8 489.2,92.9 477.4,92.9 471.6,82.8 477.4,72.7 489.2,72.7"/><polygon points="495.0,103.1 489.2,113.2 477.4,113.2 471.6,103.1 477.4,92.9 489.2,92.9"/><polygon points="495.0,123.3 489.2,133.5 477.4,133.5 471.6,123.3 477.4,113.2 489.2,113.2"/><polygon points="512.6,11.9 506.7,22.0 495.0,22.0 489.2,11.9 495.0,1.7 506.7,1.7"/><polygon points="512.6,32.1 506.7,42.3 495.0,42.3 489.2,32.1 495.0,22.0 506.7,22.0"/><polygon points="512.6,52.4 506.7,62.5 495.0,62.5 489.2,52.4 495.0,42.3 506.7,42.3"/><polygon points="512.6,72.7 506.7,82.8 495.0,82.8 489.2,72.7 495.0,62.5 506.7,62.5"/><polygon points="512.6,92.9 506.7,103.1 495.0,103.1 489.2,92.9 495.0,82.8 506.7,82.8"/><polygon points="512.6,113.2 506.7,123.3 495.0,123.3 489.2,113.2 495.0,103.1 506.7,103.1"/><polygon points="512.6,133.5 506.7,143.6 495.0,143.6 489.2,133.5 495.0,123.3 506.7,123.3"/></g><path d="M378,32.5 C393.3,38.875 400.1,40 412,40 C435.52,40 444.48,30.5 468,30.5 C485.6,30.5 496.6,37.25 512,39.5" fill="none" stroke="#93c4cf" stroke-width="4.8"/><path d="M378,66.8 C393.3,73.345 400.1,74.5 412,74.5 C435.52,74.5 444.48,64.8 468,64.8 C485.6,64.8 496.6,72.14999999999999 512,74.6" fill="none" stroke="#93c4cf" stroke-width="4.8"/><ellipse cx="396.0" cy="50.0" rx="6.93" ry="6.93" fill="#8a8a8a" opacity="0.55" filter="url(#bl1)"/><circle cx="394.8" cy="48.2" r="6.6" fill="url(#gAn)"/><rect x="391.17" y="47.375" width="7.26" height="1.65" fill="#333"/><ellipse cx="417.59999999999997" cy="59.800000000000004" rx="10.875" ry="10.15" fill="#a0a0a0" opacity="0.45" filter="url(#bl2)"/><circle cx="415.4" cy="47.32" r="2.755" fill="#fff" opacity="0.75"/><circle cx="415.4" cy="47.32" r="1.6674999999999998" fill="#e24848"/><circle cx="415.4" cy="65.88" r="2.755" fill="#fff" opacity="0.75"/><circle cx="415.4" cy="65.88" r="1.6674999999999998" fill="#e24848"/><circle cx="406.12" cy="56.6" r="2.755" fill="#fff" opacity="0.75"/><circle cx="406.12" cy="56.6" r="1.6674999999999998" fill="#e24848"/><circle cx="424.67999999999995" cy="56.6" r="2.755" fill="#fff" opacity="0.75"/><circle cx="424.67999999999995" cy="56.6" r="1.6674999999999998" fill="#e24848"/><circle cx="415.4" cy="56.6" r="3.48" fill="url(#gNa)"/><rect x="413.31199999999995" y="56.2172" width="4.176" height="0.7656" fill="#1c2a4a"/><rect x="415.0172" y="54.512" width="0.7656" height="4.176" fill="#1c2a4a"/><path d="M398,55 Q401,62 409,63" fill="none" stroke="#111" stroke-width="0.8" stroke-dasharray="2.5,1.5" marker-end="url(#ah)"/><line x1="430" y1="56.5" x2="438.5" y2="56.5" stroke="#000" stroke-width="1" /><line x1="441.0" y1="56.5" x2="447" y2="56.5" stroke="#000" stroke-width="1"  marker-end="url(#ahS)"/><g stroke="#111" stroke-width="1.5"><line x1="436.3" y1="53.3" x2="442.7" y2="59.7"/><line x1="436.3" y1="59.7" x2="442.7" y2="53.3"/></g><ellipse cx="453.2" cy="45.6" rx="9.0" ry="8.4" fill="#a0a0a0" opacity="0.45" filter="url(#bl2)"/><circle cx="451" cy="34.72" r="2.28" fill="#fff" opacity="0.75"/><circle cx="451" cy="34.72" r="1.38" fill="#e24848"/><circle cx="451" cy="50.08" r="2.28" fill="#fff" opacity="0.75"/><circle cx="451" cy="50.08" r="1.38" fill="#e24848"/><circle cx="443.32" cy="42.4" r="2.28" fill="#fff" opacity="0.75"/><circle cx="443.32" cy="42.4" r="1.38" fill="#e24848"/><circle cx="458.68" cy="42.4" r="2.28" fill="#fff" opacity="0.75"/><circle cx="458.68" cy="42.4" r="1.38" fill="#e24848"/><circle cx="451" cy="42.4" r="2.88" fill="url(#gNa)"/><rect x="449.272" y="42.0832" width="3.456" height="0.6335999999999999" fill="#1c2a4a"/><rect x="450.6832" y="40.672" width="0.6335999999999999" height="3.456" fill="#1c2a4a"/><ellipse cx="473.8" cy="36.3" rx="5.670000000000001" ry="5.670000000000001" fill="#8a8a8a" opacity="0.55" filter="url(#bl1)"/><circle cx="472.6" cy="34.5" r="5.4" fill="url(#gAn)"/><rect x="469.63" y="33.825" width="5.940000000000001" height="1.35" fill="#333"/><line x1="462" y1="44" x2="481.5" y2="44" stroke="#000" stroke-width="1" stroke-dasharray='3,2'/><line x1="484.0" y1="44" x2="503" y2="44" stroke="#000" stroke-width="1" stroke-dasharray='3,2' marker-end="url(#ahS)"/><g stroke="#111" stroke-width="1.5"><line x1="479.3" y1="40.8" x2="485.7" y2="47.2"/><line x1="479.3" y1="47.2" x2="485.7" y2="40.8"/></g><ellipse cx="486.2" cy="73.8" rx="6.720000000000001" ry="6.720000000000001" fill="#8a8a8a" opacity="0.55" filter="url(#bl1)"/><circle cx="485" cy="72" r="6.4" fill="url(#gAn)"/><rect x="481.48" y="71.2" width="7.040000000000001" height="1.6" fill="#333"/><ellipse cx="466.2" cy="85.2" rx="9.375" ry="8.75" fill="#a0a0a0" opacity="0.45" filter="url(#bl2)"/><circle cx="464" cy="74.0" r="2.375" fill="#fff" opacity="0.75"/><circle cx="464" cy="74.0" r="1.4375" fill="#e24848"/><circle cx="464" cy="90.0" r="2.375" fill="#fff" opacity="0.75"/><circle cx="464" cy="90.0" r="1.4375" fill="#e24848"/><circle cx="456.0" cy="82" r="2.375" fill="#fff" opacity="0.75"/><circle cx="456.0" cy="82" r="1.4375" fill="#e24848"/><circle cx="472.0" cy="82" r="2.375" fill="#fff" opacity="0.75"/><circle cx="472.0" cy="82" r="1.4375" fill="#e24848"/><circle cx="464" cy="82" r="3.0" fill="url(#gNa)"/><rect x="462.2" y="81.67" width="3.5999999999999996" height="0.66" fill="#1c2a4a"/><rect x="463.67" y="80.2" width="0.66" height="3.5999999999999996" fill="#1c2a4a"/><line x1="476" y1="83" x2="492" y2="83" stroke="#000" stroke-width="1" stroke-dasharray='3,2'/><line x1="494.5" y1="83" x2="511" y2="83" stroke="#000" stroke-width="1" stroke-dasharray='3,2' marker-end="url(#ahS)"/><g stroke="#111" stroke-width="1.5"><line x1="489.8" y1="79.8" x2="496.2" y2="86.2"/><line x1="489.8" y1="86.2" x2="496.2" y2="79.8"/></g><polygon points="392.4,96.1 426.7,98 430.4,122.8" fill="url(#gWedgeB)"/><line x1="392.4" y1="96.1" x2="410" y2="107.5" stroke="#666" stroke-width="0.5"/><text x="415" y="110.7" font-size="8.5" fill="#1a1a1a" text-anchor="start" >Water freezing</text><rect x="533" y="26" width="130" height="58" fill="#f3f7fa" filter="url(#bl4)" opacity="0.9"/><path d="M531,33 C547.65,36.910000000000004 555.05,37.6 568,37.6 C589.84,37.6 598.16,29 620,29 C637.84,29 648.99,35.45 664.6,37.6" fill="none" stroke="#dcebef" stroke-width="3.5"/><path d="M531,64.8 C546.3,69.22 553.1,70 565,70 C583.9,70 591.1,63 610,63 C631.84,63 645.49,69.44999999999999 664.6,71.6" fill="none" stroke="#dcebef" stroke-width="3.5"/><path d="M531,39.8 C547.65,43.88 555.05,44.6 568,44.6 C589.84,44.6 598.16,36 620,36 C637.84,36 648.99,42.45 664.6,44.6" fill="none" stroke="#93c4cf" stroke-width="4.6"/><path d="M531,57.8 C546.3,62.22 553.1,63 565,63 C583.9,63 591.1,56 610,56 C631.84,56 645.49,62.449999999999996 664.6,64.6" fill="none" stroke="#93c4cf" stroke-width="4.6"/><line x1="557.5" y1="20" x2="557.5" y2="41" stroke="#111" stroke-width="0.8" marker-end="url(#ah)"/><line x1="595" y1="14" x2="595" y2="35" stroke="#111" stroke-width="0.8" marker-end="url(#ah)"/><line x1="634.5" y1="12" x2="634.5" y2="31.5" stroke="#111" stroke-width="0.8" marker-end="url(#ah)"/><line x1="570.5" y1="91" x2="570.5" y2="70" stroke="#111" stroke-width="0.8" marker-end="url(#ah)"/><line x1="607" y1="83" x2="607" y2="61" stroke="#111" stroke-width="0.8" marker-end="url(#ah)"/><line x1="647" y1="86" x2="647" y2="64" stroke="#111" stroke-width="0.8" marker-end="url(#ah)"/><ellipse cx="557" cy="60" rx="6" ry="5" fill="#aaa" opacity="0.4" filter="url(#bl2)"/><ellipse cx="546.2" cy="56.599999999999994" rx="6.510000000000001" ry="6.510000000000001" fill="#8a8a8a" opacity="0.55" filter="url(#bl1)"/><circle cx="545" cy="54.8" r="6.2" fill="url(#gAn)"/><rect x="541.59" y="54.025" width="6.820000000000001" height="1.55" fill="#333"/><circle cx="559.1" cy="52.8" r="2" fill="#fff" opacity="0.8"/><circle cx="559.3" cy="53" r="1.2" fill="#e5484a"/><circle cx="562.2" cy="59.4" r="2" fill="#fff" opacity="0.8"/><circle cx="562.4" cy="59.6" r="1.2" fill="#e5484a"/><circle cx="554.2" cy="57.8" r="3" fill="url(#gNa)"/><rect x="552.4000000000001" y="57.47" width="3.5999999999999996" height="0.66" fill="#1c2a4a"/><rect x="553.87" y="56.0" width="0.66" height="3.5999999999999996" fill="#1c2a4a"/><line x1="566" y1="56.5" x2="572.5" y2="56.5" stroke="#000" stroke-width="1" /><line x1="575.0" y1="56.5" x2="584" y2="56.5" stroke="#000" stroke-width="1"  marker-end="url(#ahS)"/><g stroke="#111" stroke-width="1.5"><line x1="570.3" y1="53.3" x2="576.7" y2="59.7"/><line x1="570.3" y1="59.7" x2="576.7" y2="53.3"/></g><ellipse cx="625.2" cy="42.3" rx="5.25" ry="5.25" fill="#8a8a8a" opacity="0.55" filter="url(#bl1)"/><circle cx="624" cy="40.5" r="5.0" fill="url(#gAn)"/><rect x="621.25" y="39.875" width="5.5" height="1.25" fill="#333"/><ellipse cx="619.2" cy="48.2" rx="6.0" ry="5.6000000000000005" fill="#a0a0a0" opacity="0.45" filter="url(#bl2)"/><circle cx="617" cy="39.879999999999995" r="1.52" fill="#fff" opacity="0.75"/><circle cx="617" cy="39.879999999999995" r="0.9199999999999999" fill="#e24848"/><circle cx="617" cy="50.120000000000005" r="1.52" fill="#fff" opacity="0.75"/><circle cx="617" cy="50.120000000000005" r="0.9199999999999999" fill="#e24848"/><circle cx="611.88" cy="45" r="1.52" fill="#fff" opacity="0.75"/><circle cx="611.88" cy="45" r="0.9199999999999999" fill="#e24848"/><circle cx="622.12" cy="45" r="1.52" fill="#fff" opacity="0.75"/><circle cx="622.12" cy="45" r="0.9199999999999999" fill="#e24848"/><circle cx="617" cy="45" r="1.92" fill="url(#gNa)"/><rect x="615.848" y="44.75" width="2.304" height="0.5" fill="#1c2a4a"/><rect x="616.75" y="43.848" width="0.5" height="2.304" fill="#1c2a4a"/><line x1="625" y1="48.5" x2="633" y2="48.5" stroke="#000" stroke-width="1" stroke-dasharray='3,2'/><line x1="635.5" y1="48.5" x2="645" y2="48.5" stroke="#000" stroke-width="1" stroke-dasharray='3,2' marker-end="url(#ahS)"/><g stroke="#111" stroke-width="1.5"><line x1="630.8" y1="45.3" x2="637.2" y2="51.7"/><line x1="630.8" y1="51.7" x2="637.2" y2="45.3"/></g><ellipse cx="637.7" cy="63.3" rx="6.300000000000001" ry="6.300000000000001" fill="#8a8a8a" opacity="0.55" filter="url(#bl1)"/><circle cx="636.5" cy="61.5" r="6.0" fill="url(#gAn)"/><rect x="633.2" y="60.75" width="6.6000000000000005" height="1.5" fill="#333"/><ellipse cx="632.2" cy="71.2" rx="6.75" ry="6.3" fill="#a0a0a0" opacity="0.45" filter="url(#bl2)"/><circle cx="630" cy="62.24" r="1.71" fill="#fff" opacity="0.75"/><circle cx="630" cy="62.24" r="1.035" fill="#e24848"/><circle cx="630" cy="73.76" r="1.71" fill="#fff" opacity="0.75"/><circle cx="630" cy="73.76" r="1.035" fill="#e24848"/><circle cx="624.24" cy="68" r="1.71" fill="#fff" opacity="0.75"/><circle cx="624.24" cy="68" r="1.035" fill="#e24848"/><circle cx="635.76" cy="68" r="1.71" fill="#fff" opacity="0.75"/><circle cx="635.76" cy="68" r="1.035" fill="#e24848"/><circle cx="630" cy="68" r="2.16" fill="url(#gNa)"/><rect x="628.704" y="67.75" width="2.592" height="0.5" fill="#1c2a4a"/><rect x="629.75" y="66.704" width="0.5" height="2.592" fill="#1c2a4a"/><line x1="632" y1="72" x2="637" y2="72" stroke="#000" stroke-width="1" /><line x1="639.5" y1="72" x2="646" y2="72" stroke="#000" stroke-width="1"  marker-end="url(#ahS)"/><g stroke="#111" stroke-width="1.5"><line x1="634.8" y1="68.8" x2="641.2" y2="75.2"/><line x1="634.8" y1="75.2" x2="641.2" y2="68.8"/></g><line x1="628" y1="82" x2="664" y2="82" stroke="#c8c8c8" stroke-width="0.6" stroke-dasharray="2,1.5"/><polygon points="518.2,138.4 530.7,96 561.3,106.3" fill="url(#gWedgeG)"/><line x1="614.5" y1="89.5" x2="629.5" y2="76.5" stroke="#777" stroke-width="0.5"/><text x="575.4" y="97.6" font-size="8.5" fill="#1a1a1a" text-anchor="start" >Water vaporizing</text><path d="M345.5,179.3 C349.45,179.38 361.60,179.55 369.20,179.80 C376.80,180.05 383.80,180.47 391.10,180.80 C398.40,181.13 406.95,181.38 413.00,181.80 C419.05,182.22 422.90,182.77 427.40,183.30 C431.90,183.83 435.60,184.15 440.00,185.00 C444.40,185.85 449.10,186.65 453.80,188.40 C458.50,190.15 463.73,193.17 468.20,195.50 C472.67,197.83 475.78,198.88 480.60,202.40 C485.42,205.92 491.43,211.63 497.10,216.60 C502.77,221.57 508.18,226.45 514.60,232.20 C521.02,237.95 532.10,247.95 535.60,251.10 L535.6,251.1 L345.5,251.1 Z" fill="#efefef"/><path d="M427.4,183.3 C429.50,184.35 435.60,187.48 440.00,189.60 C444.40,191.72 447.03,192.47 453.80,196.00 C460.57,199.53 470.47,204.77 480.60,210.80 C490.73,216.83 508.93,228.63 514.60,232.20 L514.6,251.1 L427.4,251.1 Z" fill="#f8dccb"/><path d="M453.8,188.4 C456.20,189.58 463.73,193.17 468.20,195.50 C472.67,197.83 478.53,201.25 480.60,202.40 L480.6,251.1 L453.8,251.1 Z" fill="#fbebbf"/><line x1="345.5" y1="251.1" x2="345.5" y2="107" stroke="#111" stroke-width="1"/><path d="M345.5,102.5 L343,109 L348,109 Z" fill="#111"/><line x1="345.5" y1="251.1" x2="614" y2="251.1" stroke="#111" stroke-width="1"/><path d="M619,251.1 L612.5,248.6 L612.5,253.6 Z" fill="#111"/><path d="M345.5,124.6 C348.23,124.90 356.73,125.43 361.90,126.40 C367.07,127.37 371.63,128.63 376.50,130.40 C381.37,132.17 386.23,134.32 391.10,137.00 C395.97,139.68 400.83,143.22 405.70,146.50 C410.57,149.78 415.68,153.42 420.30,156.70 C424.92,159.98 429.07,163.07 433.40,166.20 C437.73,169.33 441.23,171.78 446.30,175.50 C451.37,179.22 458.08,184.02 463.80,188.50 C469.52,192.98 475.05,197.72 480.60,202.40 C486.15,207.08 491.43,211.63 497.10,216.60 C502.77,221.57 508.18,226.45 514.60,232.20 C521.02,237.95 532.10,247.95 535.60,251.10" fill="none" stroke="#4aa57a" stroke-width="0.9"/><path d="M345.5,150.6 C349.45,151.02 362.82,152.20 369.20,153.10 C375.58,154.00 378.93,154.78 383.80,156.00 C388.67,157.22 393.53,158.58 398.40,160.40 C403.27,162.22 408.13,164.60 413.00,166.90 C417.87,169.20 422.58,171.75 427.60,174.20 C432.62,176.65 438.73,179.23 443.10,181.60 C447.47,183.97 449.62,186.08 453.80,188.40 C457.98,190.72 463.73,193.17 468.20,195.50 C472.67,197.83 476.60,200.00 480.60,202.40 C484.60,204.80 488.08,207.48 492.20,209.90 C496.32,212.32 500.92,214.55 505.30,216.90 C509.68,219.25 514.27,221.65 518.50,224.00 C522.73,226.35 523.40,226.73 530.70,231.00 C538.00,235.27 557.03,246.50 562.30,249.60" fill="none" stroke="#ee6a4e" stroke-width="1" stroke-dasharray="5,3.5"/><path d="M345.5,158.2 C348.23,158.37 356.73,158.47 361.90,159.20 C367.07,159.93 371.63,161.18 376.50,162.60 C381.37,164.02 386.23,165.77 391.10,167.70 C395.97,169.63 400.83,172.13 405.70,174.20 C410.57,176.27 416.68,178.58 420.30,180.10 C423.92,181.62 424.12,181.72 427.40,183.30 C430.68,184.88 435.60,187.48 440.00,189.60 C444.40,191.72 447.03,192.47 453.80,196.00 C460.57,199.53 470.47,204.77 480.60,210.80 C490.73,216.83 504.70,226.22 514.60,232.20 C524.50,238.18 534.60,243.62 540.00,246.70 C545.40,249.78 545.83,250.03 547.00,250.70" fill="none" stroke="#ee6a4e" stroke-width="0.9"/><path d="M345.5,179.3 C349.45,179.38 361.60,179.55 369.20,179.80 C376.80,180.05 383.80,180.47 391.10,180.80 C398.40,181.13 406.95,181.38 413.00,181.80 C419.05,182.22 422.90,182.77 427.40,183.30 C431.90,183.83 435.60,184.15 440.00,185.00 C444.40,185.85 448.37,186.87 453.80,188.40 C459.23,189.93 465.10,191.47 472.60,194.20 C480.10,196.93 490.05,201.17 498.80,204.80 C507.55,208.43 518.23,213.10 525.10,216.00 C531.97,218.90 532.52,218.95 540.00,222.20 C547.48,225.45 559.90,230.72 570.00,235.50 C580.10,240.28 595.50,248.33 600.60,250.90" fill="none" stroke="#4a72c0" stroke-width="0.9"/><line x1="427.4" y1="183.3" x2="427.4" y2="251.1" stroke="#222" stroke-width="0.8" stroke-dasharray="2.2,1.6"/><line x1="453.8" y1="188.4" x2="453.8" y2="251.1" stroke="#222" stroke-width="0.8" stroke-dasharray="2.2,1.6"/><line x1="480.6" y1="202.4" x2="480.6" y2="251.1" stroke="#222" stroke-width="0.8" stroke-dasharray="2.2,1.6"/><line x1="514.6" y1="232.2" x2="514.6" y2="251.1" stroke="#222" stroke-width="0.8" stroke-dasharray="2.2,1.6"/><line x1="453.8" y1="185.3" x2="453.8" y2="140" stroke="#5b7cc4" stroke-width="1.3"/><path d="M453.8,133.2 L449.6,142.8 L453.8,140.6 L458,142.8 Z" fill="#5b7cc4"/><line x1="480.6" y1="199.4" x2="480.6" y2="155" stroke="#4fa87c" stroke-width="1.3"/><path d="M480.6,148.2 L476.4,157.8 L480.6,155.6 L484.8,157.8 Z" fill="#4fa87c"/><circle cx="427.4" cy="183.3" r="2.9" fill="#4a72c0" stroke="#1f2a3c" stroke-width="0.8"/><circle cx="453.8" cy="188.4" r="2.9" fill="#4a72c0" stroke="#1f2a3c" stroke-width="0.8"/><circle cx="480.6" cy="202.4" r="2.9" fill="#4aa57a" stroke="#1f2a3c" stroke-width="0.8"/><circle cx="514.6" cy="232.2" r="2.9" fill="#4aa57a" stroke="#1f2a3c" stroke-width="0.8"/><line x1="453.3" y1="242.7" x2="431" y2="242.7" stroke="#555" stroke-width="1.1" marker-end="url(#ah)"/><line x1="483" y1="242.7" x2="512" y2="242.7" stroke="#555" stroke-width="1.1" marker-end="url(#ah)"/><text x="455" y="237.4" font-size="9" fill="#ee6a4e" text-anchor="start" >Water</text><path d="M356,149 L368,149 L368,156 L376,156 L362,163.5 L348,156 L356,156 Z" fill="#e2e2e2"/><text x="346.6" y="121" font-size="9.4" fill="#4aa57a">G<tspan font-size="6.3" dy="2">gas</tspan></text><text x="346.6" y="145.5" font-size="9.4" fill="#ee6a4e">G<tspan font-size="6.3" dy="2">liquid</tspan></text><text x="346.6" y="174.2" font-size="9.4" fill="#4a72c0">G<tspan font-size="6.3" dy="2">solid</tspan></text><text x="432.8" y="127.2" font-size="9.4" fill="#5b7fc0" text-anchor="start" >Freezing</text><text x="464.8" y="144" font-size="9.5" fill="#4aa57a" text-anchor="start" >Vaporizing</text><text x="535.5" y="266.8" font-size="9.4" fill="#1a1a1a" text-anchor="start" >Temperature, T ( ℃ )</text><text transform="translate(336.6,181.2) rotate(-90)" font-size="10.4" fill="#1a1a1a" text-anchor="middle">Gibbs free energy, G (kJ mol<tspan font-size="6.5" dy="-3.5">-1</tspan><tspan dy="3.5">)</tspan></text><polygon points="453.9,257 481.2,257 467.54999999999995,273.5" fill="#cdcdcd" stroke="#cdcdcd" stroke-width="2" stroke-linejoin="round"/><polyline points="455.5,267.2 467.54999999999995,279.4 479.59999999999997,267.2" fill="none" stroke="#cdcdcd" stroke-width="3.8" stroke-linecap="round" stroke-linejoin="round"/><text x="325.5" y="297" font-size="16.5" fill="#111" text-anchor="start" >c</text><rect x="359" y="283.5" width="182.4" height="16" fill="#e6e6e6"/><text x="377.6" y="294.7" font-size="9.45" fill="#1a1a1a" text-anchor="start" >Over expanded temperature range</text><rect x="337" y="341" width="214" height="100" fill="#e2eef8" filter="url(#bl4)"/><ellipse cx="433.3" cy="396.0" rx="77.03999999999999" ry="32.0" fill="#f6f9fc" opacity="0.75" filter="url(#bl8)"/><path d="M327.4,353.6 C348.64,365.245 358.08,367.3 374.6,367.3 C415.088,367.3 430.512,350 471,350 C506.0,350 527.875,362.75 558.5,367" fill="none" stroke="#93c4cf" stroke-width="8.5"/><path d="M327.4,410.7 C348.64,421.155 358.08,423 374.6,423 C415.088,423 430.512,408.5 471,408.5 C506.0,408.5 527.875,420.5 558.5,424.5" fill="none" stroke="#93c4cf" stroke-width="8.5"/><g stroke="#222" stroke-width="0.6" fill="none"><line x1="371.1" y1="326.4" x2="384.3" y2="326.4"/><line x1="390.70000000000005" y1="326.4" x2="400.90000000000003" y2="326.4"/><line x1="406.90000000000003" y1="326.4" x2="420.6" y2="326.4"/><path d="M380.90000000000003,318.4 L379.5,318.4 L379.5,334.79999999999995 L380.90000000000003,334.79999999999995"/><path d="M410.5,318.4 L411.90000000000003,318.4 L411.90000000000003,334.79999999999995 L410.5,334.79999999999995"/><line x1="403.90000000000003" y1="328.59999999999997" x2="403.90000000000003" y2="340.2"/><line x1="403.90000000000003" y1="345.0" x2="403.90000000000003" y2="356.4"/></g><g stroke="#858585" stroke-width="2"><line x1="390.3" y1="342.7" x2="401.40000000000003" y2="342.7"/><line x1="406.40000000000003" y1="342.7" x2="417.5" y2="342.7"/></g><g font-size="5" fill="#111" stroke="#111" stroke-width="0.1" text-anchor="middle"><text x="387.5" y="328.2">C</text><text x="388.70000000000005" y="321.59999999999997">H<tspan font-size="3.4" dy="1">2</tspan></text><text x="403.90000000000003" y="328.2">C</text><text x="403.90000000000003" y="321.79999999999995">H</text><text x="415.3" y="331.79999999999995" font-size="4.6">n</text><text x="403.90000000000003" y="344.5">S</text><text x="387.3" y="344.5">O</text><text x="420.5" y="344.5">O</text><text x="404.70000000000005" y="360.4">O<tspan font-size="3.2" dy="-1.5">−</tspan></text></g><g fill="none" stroke="#333" stroke-width="0.95"><path d="M353.5,366.9 L353.5,363.5 L356.9,363.5 M378.6,363.5 L382,363.5 L382,366.9 M382,391.6 L382,395 L378.6,395 M356.9,395 L353.5,395 L353.5,391.6"/><path d="M364.0,363.5 L371.5,363.5 M364.0,395 L371.5,395 M353.5,375.5 L353.5,383.0 M382,375.5 L382,383.0"/><path d="M367.8,363.5 L367.8,360.3 M367.8,346.4 L367.8,343 L371.2,343"/><path d="M367.8,349.875 L367.8,356.825"/><path d="M375.1,343 L378.3,343"/></g><line x1="361.4" y1="369.2" x2="361.4" y2="374.2" stroke="#3a4a50" stroke-width="1"/><ellipse cx="362.59999999999997" cy="383.0" rx="7.875" ry="7.875" fill="#8a8a8a" opacity="0.55" filter="url(#bl1)"/><circle cx="361.4" cy="381.2" r="7.5" fill="url(#gAn)"/><rect x="357.275" y="380.2625" width="8.25" height="1.875" fill="#333"/><line x1="369.5" y1="381.2" x2="393" y2="381.2" stroke="#333" stroke-width="1" stroke-dasharray="2.8,2"/><ellipse cx="405.0" cy="384.7" rx="11.0" ry="10.0" fill="#a5a5a5" opacity="0.45" filter="url(#bl2)"/><circle cx="410.2" cy="384.0" r="2.3" fill="#fff" opacity="0.85"/><circle cx="410.5" cy="384.2" r="1.3" fill="#e5484a"/><circle cx="406.5" cy="389.8" r="2.3" fill="#fff" opacity="0.85"/><circle cx="406.8" cy="390.0" r="1.3" fill="#e5484a"/><circle cx="399.7" cy="388.9" r="2.3" fill="#fff" opacity="0.85"/><circle cx="400.0" cy="389.1" r="1.3" fill="#e5484a"/><circle cx="393.9" cy="385.2" r="2.3" fill="#fff" opacity="0.85"/><circle cx="394.2" cy="385.4" r="1.3" fill="#e5484a"/><circle cx="394.8" cy="378.4" r="2.3" fill="#fff" opacity="0.85"/><circle cx="395.1" cy="378.6" r="1.3" fill="#e5484a"/><circle cx="398.5" cy="372.6" r="2.3" fill="#fff" opacity="0.85"/><circle cx="398.8" cy="372.8" r="1.3" fill="#e5484a"/><circle cx="405.3" cy="373.5" r="2.3" fill="#fff" opacity="0.85"/><circle cx="405.6" cy="373.7" r="1.3" fill="#e5484a"/><circle cx="411.1" cy="377.2" r="2.3" fill="#fff" opacity="0.85"/><circle cx="411.4" cy="377.4" r="1.3" fill="#e5484a"/><circle cx="397.1" cy="385.0" r="2.5" fill="url(#gNa)"/><circle cx="407.9" cy="377.4" r="2.5" fill="url(#gBr)"/><circle cx="402.5" cy="381.2" r="4.6" fill="url(#gYel)"/><path d="M367,394 Q372,404 385,404" fill="none" stroke="#111" stroke-width="0.8" marker-end="url(#ah)"/><ellipse cx="401.59999999999997" cy="409.0" rx="7.5" ry="7.0" fill="#a0a0a0" opacity="0.45" filter="url(#bl2)"/><circle cx="399.4" cy="399.40000000000003" r="1.9" fill="#fff" opacity="0.75"/><circle cx="399.4" cy="399.40000000000003" r="1.15" fill="#e24848"/><circle cx="399.4" cy="412.2" r="1.9" fill="#fff" opacity="0.75"/><circle cx="399.4" cy="412.2" r="1.15" fill="#e24848"/><circle cx="393.0" cy="405.8" r="1.9" fill="#fff" opacity="0.75"/><circle cx="393.0" cy="405.8" r="1.15" fill="#e24848"/><circle cx="405.79999999999995" cy="405.8" r="1.9" fill="#fff" opacity="0.75"/><circle cx="405.79999999999995" cy="405.8" r="1.15" fill="#e24848"/><circle cx="399.4" cy="405.8" r="2.4" fill="url(#gNa)"/><rect x="397.96" y="405.536" width="2.88" height="0.528" fill="#1c2a4a"/><rect x="399.13599999999997" y="404.36" width="0.528" height="2.88" fill="#1c2a4a"/><line x1="415.5" y1="398.8" x2="485" y2="398.8" stroke="#111" stroke-width="0.8" marker-end="url(#ah)"/><ellipse cx="440.7" cy="373.4" rx="7.5" ry="7.0" fill="#a0a0a0" opacity="0.45" filter="url(#bl2)"/><circle cx="438.5" cy="363.8" r="1.9" fill="#fff" opacity="0.75"/><circle cx="438.5" cy="363.8" r="1.15" fill="#e24848"/><circle cx="438.5" cy="376.59999999999997" r="1.9" fill="#fff" opacity="0.75"/><circle cx="438.5" cy="376.59999999999997" r="1.15" fill="#e24848"/><circle cx="432.1" cy="370.2" r="1.9" fill="#fff" opacity="0.75"/><circle cx="432.1" cy="370.2" r="1.15" fill="#e24848"/><circle cx="444.9" cy="370.2" r="1.9" fill="#fff" opacity="0.75"/><circle cx="444.9" cy="370.2" r="1.15" fill="#e24848"/><circle cx="438.5" cy="370.2" r="2.4" fill="url(#gNa)"/><rect x="437.06" y="369.936" width="2.88" height="0.528" fill="#1c2a4a"/><rect x="438.236" y="368.76" width="0.528" height="2.88" fill="#1c2a4a"/><line x1="451" y1="370.5" x2="477" y2="370.5" stroke="#111" stroke-width="0.8" marker-end="url(#ah)"/><line x1="491.8" y1="352.59999999999997" x2="491.8" y2="358.09999999999997" stroke="#3a4a50" stroke-width="1"/><ellipse cx="493.0" cy="367.0" rx="7.9799999999999995" ry="7.9799999999999995" fill="#8a8a8a" opacity="0.55" filter="url(#bl1)"/><circle cx="491.8" cy="365.2" r="7.6" fill="url(#gAn)"/><rect x="487.62" y="364.25" width="8.36" height="1.9" fill="#333"/><ellipse cx="483.59999999999997" cy="384.59999999999997" rx="7.5" ry="7.0" fill="#a0a0a0" opacity="0.45" filter="url(#bl2)"/><circle cx="481.4" cy="375.0" r="1.9" fill="#fff" opacity="0.75"/><circle cx="481.4" cy="375.0" r="1.15" fill="#e24848"/><circle cx="481.4" cy="387.79999999999995" r="1.9" fill="#fff" opacity="0.75"/><circle cx="481.4" cy="387.79999999999995" r="1.15" fill="#e24848"/><circle cx="475.0" cy="381.4" r="1.9" fill="#fff" opacity="0.75"/><circle cx="475.0" cy="381.4" r="1.15" fill="#e24848"/><circle cx="487.79999999999995" cy="381.4" r="1.9" fill="#fff" opacity="0.75"/><circle cx="487.79999999999995" cy="381.4" r="1.15" fill="#e24848"/><circle cx="481.4" cy="381.4" r="2.4" fill="url(#gNa)"/><rect x="479.96" y="381.13599999999997" width="2.88" height="0.528" fill="#1c2a4a"/><rect x="481.13599999999997" y="379.96" width="0.528" height="2.88" fill="#1c2a4a"/><line x1="497" y1="381.6" x2="523" y2="381.6" stroke="#111" stroke-width="0.8" marker-end="url(#ah)"/><ellipse cx="527.0" cy="399.7" rx="7.5" ry="7.0" fill="#a0a0a0" opacity="0.45" filter="url(#bl2)"/><circle cx="524.8" cy="390.1" r="1.9" fill="#fff" opacity="0.75"/><circle cx="524.8" cy="390.1" r="1.15" fill="#e24848"/><circle cx="524.8" cy="402.9" r="1.9" fill="#fff" opacity="0.75"/><circle cx="524.8" cy="402.9" r="1.15" fill="#e24848"/><circle cx="518.4" cy="396.5" r="1.9" fill="#fff" opacity="0.75"/><circle cx="518.4" cy="396.5" r="1.15" fill="#e24848"/><circle cx="531.1999999999999" cy="396.5" r="1.9" fill="#fff" opacity="0.75"/><circle cx="531.1999999999999" cy="396.5" r="1.15" fill="#e24848"/><circle cx="524.8" cy="396.5" r="2.4" fill="url(#gNa)"/><rect x="523.3599999999999" y="396.236" width="2.88" height="0.528" fill="#1c2a4a"/><rect x="524.536" y="395.06" width="0.528" height="2.88" fill="#1c2a4a"/><line x1="537" y1="397" x2="556" y2="397" stroke="#111" stroke-width="0.8" marker-end="url(#ah)"/><line x1="506.2" y1="415.2" x2="506.2" y2="419.7" stroke="#3a4a50" stroke-width="1"/><ellipse cx="507.4" cy="430.3" rx="9.765" ry="9.765" fill="#8a8a8a" opacity="0.55" filter="url(#bl1)"/><circle cx="506.2" cy="428.5" r="9.3" fill="url(#gAn)"/><rect x="501.085" y="427.3375" width="10.230000000000002" height="2.325" fill="#333"/><line x1="514" y1="432" x2="529" y2="437" stroke="#333" stroke-width="1" stroke-dasharray="2.4,1.8"/><ellipse cx="538.3" cy="441.0" rx="11.0" ry="10.0" fill="#a5a5a5" opacity="0.45" filter="url(#bl2)"/><circle cx="543.5" cy="440.3" r="2.3" fill="#fff" opacity="0.85"/><circle cx="543.8" cy="440.5" r="1.3" fill="#e5484a"/><circle cx="539.8" cy="446.1" r="2.3" fill="#fff" opacity="0.85"/><circle cx="540.1" cy="446.3" r="1.3" fill="#e5484a"/><circle cx="533.0" cy="445.2" r="2.3" fill="#fff" opacity="0.85"/><circle cx="533.3" cy="445.4" r="1.3" fill="#e5484a"/><circle cx="527.2" cy="441.5" r="2.3" fill="#fff" opacity="0.85"/><circle cx="527.5" cy="441.7" r="1.3" fill="#e5484a"/><circle cx="528.1" cy="434.7" r="2.3" fill="#fff" opacity="0.85"/><circle cx="528.4" cy="434.9" r="1.3" fill="#e5484a"/><circle cx="531.8" cy="428.9" r="2.3" fill="#fff" opacity="0.85"/><circle cx="532.1" cy="429.1" r="1.3" fill="#e5484a"/><circle cx="538.6" cy="429.8" r="2.3" fill="#fff" opacity="0.85"/><circle cx="538.9" cy="430.0" r="1.3" fill="#e5484a"/><circle cx="544.4" cy="433.5" r="2.3" fill="#fff" opacity="0.85"/><circle cx="544.7" cy="433.7" r="1.3" fill="#e5484a"/><circle cx="540.0" cy="442.6" r="2.5" fill="url(#gNa)"/><circle cx="531.6" cy="432.4" r="2.5" fill="url(#gBr)"/><circle cx="535.8" cy="437.5" r="4.6" fill="url(#gYel)"/><ellipse cx="378.8" cy="450.4" rx="7.5" ry="7.0" fill="#a0a0a0" opacity="0.45" filter="url(#bl2)"/><circle cx="376.6" cy="440.8" r="1.9" fill="#fff" opacity="0.75"/><circle cx="376.6" cy="440.8" r="1.15" fill="#e24848"/><circle cx="376.6" cy="453.59999999999997" r="1.9" fill="#fff" opacity="0.75"/><circle cx="376.6" cy="453.59999999999997" r="1.15" fill="#e24848"/><circle cx="370.20000000000005" cy="447.2" r="1.9" fill="#fff" opacity="0.75"/><circle cx="370.20000000000005" cy="447.2" r="1.15" fill="#e24848"/><circle cx="383.0" cy="447.2" r="1.9" fill="#fff" opacity="0.75"/><circle cx="383.0" cy="447.2" r="1.15" fill="#e24848"/><circle cx="376.6" cy="447.2" r="2.4" fill="url(#gNa)"/><rect x="375.16" y="446.936" width="2.88" height="0.528" fill="#1c2a4a"/><rect x="376.336" y="445.76" width="0.528" height="2.88" fill="#1c2a4a"/><line x1="394" y1="448" x2="416.8" y2="448" stroke="#111" stroke-width="0.8" marker-end="url(#ah)"/><ellipse cx="422.2" cy="441.7" rx="7.5" ry="7.0" fill="#a0a0a0" opacity="0.45" filter="url(#bl2)"/><circle cx="420" cy="432.1" r="1.9" fill="#fff" opacity="0.75"/><circle cx="420" cy="432.1" r="1.15" fill="#e24848"/><circle cx="420" cy="444.9" r="1.9" fill="#fff" opacity="0.75"/><circle cx="420" cy="444.9" r="1.15" fill="#e24848"/><circle cx="413.6" cy="438.5" r="1.9" fill="#fff" opacity="0.75"/><circle cx="413.6" cy="438.5" r="1.15" fill="#e24848"/><circle cx="426.4" cy="438.5" r="1.9" fill="#fff" opacity="0.75"/><circle cx="426.4" cy="438.5" r="1.15" fill="#e24848"/><circle cx="420" cy="438.5" r="2.4" fill="url(#gNa)"/><rect x="418.56" y="438.236" width="2.88" height="0.528" fill="#1c2a4a"/><rect x="419.736" y="437.06" width="0.528" height="2.88" fill="#1c2a4a"/><line x1="433" y1="439.8" x2="455.2" y2="439.8" stroke="#111" stroke-width="0.8" marker-end="url(#ah)"/><ellipse cx="462.4" cy="430.0" rx="7.5" ry="7.0" fill="#a0a0a0" opacity="0.45" filter="url(#bl2)"/><circle cx="460.2" cy="420.40000000000003" r="1.9" fill="#fff" opacity="0.75"/><circle cx="460.2" cy="420.40000000000003" r="1.15" fill="#e24848"/><circle cx="460.2" cy="433.2" r="1.9" fill="#fff" opacity="0.75"/><circle cx="460.2" cy="433.2" r="1.15" fill="#e24848"/><circle cx="453.8" cy="426.8" r="1.9" fill="#fff" opacity="0.75"/><circle cx="453.8" cy="426.8" r="1.15" fill="#e24848"/><circle cx="466.59999999999997" cy="426.8" r="1.9" fill="#fff" opacity="0.75"/><circle cx="466.59999999999997" cy="426.8" r="1.15" fill="#e24848"/><circle cx="460.2" cy="426.8" r="2.4" fill="url(#gNa)"/><rect x="458.76" y="426.536" width="2.88" height="0.528" fill="#1c2a4a"/><rect x="459.936" y="425.36" width="0.528" height="2.88" fill="#1c2a4a"/><line x1="466.4" y1="426.8" x2="488.7" y2="426.8" stroke="#111" stroke-width="0.8" marker-end="url(#ah)"/><text x="385" y="466.5" font-size="9.4" fill="#1a1a1a" text-anchor="start" >Molecular clustering system</text><rect x="489.5" y="304.5" width="165" height="39.8" fill="none" stroke="#444" stroke-width="1" stroke-dasharray="5,3" stroke-dashoffset="2"/><ellipse cx="533.7" cy="322" rx="7.5" ry="13.5" fill="#f0f0f0" transform="rotate(-32 533.7 322)"/><ellipse cx="592.8" cy="328.2" rx="8" ry="13.5" fill="#f0f0f0" transform="rotate(-32 592.8 328.2)"/><g stroke="#222" stroke-width="0.7" fill="none"><line x1="516.5" y1="322.8" x2="524.8" y2="314.6"/><line x1="512.8" y1="326.8" x2="502.5" y2="335.5"/><line x1="512.2" y1="322.6" x2="504.6" y2="315"/><line x1="513.6" y1="321.2" x2="506" y2="313.6"/><line x1="515.8" y1="327.2" x2="523.4" y2="334.8"/><line x1="517.2" y1="325.8" x2="524.8" y2="333.4"/><line x1="554.6" y1="322" x2="554.6" y2="309.5"/><line x1="556" y1="322" x2="556" y2="309.5"/><line x1="553.4" y1="325.6" x2="541.8" y2="331.6"/><line x1="557.4" y1="325.6" x2="569" y2="331.6"/><line x1="572.6" y1="331.6" x2="584" y2="325.6"/><line x1="613.6" y1="322" x2="613.6" y2="310.5"/><line x1="615" y1="322" x2="615" y2="310.5"/><line x1="612.4" y1="325.6" x2="602.6" y2="331.4"/><line x1="616.2" y1="325.6" x2="628" y2="331.6"/><line x1="631.6" y1="331.6" x2="643.8" y2="325.6"/></g><g font-size="5.2" fill="#111" stroke="#111" stroke-width="0.12" text-anchor="middle"><text x="514.7" y="326.6">S</text><text x="502.6" y="314.4">O</text><text x="526.9" y="314.4">O<tspan font-size="3.5" dy="-1.6">−</tspan></text><text x="526.7" y="338.6">O</text><text x="499.6" y="338.8">NH<tspan font-size="3.5" dy="1">2</tspan></text><text x="555.3" y="326.6">C</text><text x="555.3" y="309.6">O</text><text x="539" y="334.8">HO</text><text x="570.8" y="334">C</text><text x="571" y="341.4">H<tspan font-size="3.5" dy="0.8">2</tspan></text><text x="587" y="326">OH</text><text x="614.3" y="326.6">C</text><text x="614.3" y="309.8">O</text><text x="599.8" y="334.7"><tspan font-size="3.5" dy="-1.6">−</tspan><tspan dy="1.6">O</tspan></text><text x="629.8" y="334">C</text><text x="630" y="341.4">H<tspan font-size="3.5" dy="0.8">2</tspan></text><text x="646.6" y="326">OH</text></g><line x1="582.5" y1="344.4" x2="582.5" y2="351.8" stroke="#555" stroke-width="0.7"/><rect x="566" y="352" width="34.3" height="19.3" fill="none" stroke="#444" stroke-width="0.95" stroke-dasharray="3.6,2.4" stroke-dashoffset="1.8"/><ellipse cx="584" cy="364" rx="10" ry="6" fill="#aaa" opacity="0.35" filter="url(#bl2)"/><circle cx="574.8" cy="361.5" r="3.3" fill="url(#gNa)"/><circle cx="591.3" cy="361.5" r="3.1" fill="url(#gBr)"/><circle cx="583" cy="361.3" r="5.6" fill="url(#gYel)"/><line x1="572.5" y1="361.5" x2="577" y2="361.5" stroke="#222" stroke-width="0.6"/><line x1="589.3" y1="361.5" x2="593.3" y2="361.5" stroke="#222" stroke-width="0.6"/><text x="604" y="358.4" font-size="10.7" fill="#1a1a1a" text-anchor="start" >Molecular</text><text x="604" y="371.3" font-size="10.7" fill="#1a1a1a" text-anchor="start" >clusters</text><ellipse cx="576.5" cy="396.5" rx="5.4" ry="5.04" fill="#9a9a9a" opacity="0.5" filter="url(#bl2)"/><circle cx="578" cy="391" r="2.0" fill="url(#gH)"/><circle cx="574" cy="393.5" r="3.6" fill="url(#gO)"/><circle cx="570.6" cy="390.2" r="2.2" fill="url(#gH)"/><text x="587" y="396.7" font-size="10" fill="#1a1a1a">H<tspan font-size="7" dy="0.5">2</tspan><tspan dy="-0.5">O</tspan></text><ellipse cx="574.8000000000001" cy="418.8" rx="5.565" ry="5.565" fill="#8a8a8a" opacity="0.55" filter="url(#bl1)"/><circle cx="573.6" cy="417" r="5.3" fill="url(#gAn)"/><rect x="570.6850000000001" y="416.3375" width="5.83" height="1.325" fill="#333"/><text x="587.7" y="420.2" font-size="10" fill="#1a1a1a">Restrict -SO<tspan font-size="6.5" dy="1">3</tspan><tspan font-size="6.5" dy="-4.5">-</tspan></text><circle cx="573.6" cy="446" r="5.2" fill="url(#gNa)"/><rect x="570.48" y="445.428" width="6.24" height="1.1440000000000001" fill="#1c2a4a"/><rect x="573.028" y="442.88" width="1.1440000000000001" height="6.24" fill="#1c2a4a"/><text x="587.7" y="449.2" font-size="10" fill="#1a1a1a">Na<tspan font-size="6.5" dy="-3.5">+</tspan></text><text x="7.6" y="492.6" font-size="16.5" fill="#111" text-anchor="start" >d</text><text x="90.9" y="488.3" font-size="9.4" fill="#a0a0a0" text-anchor="start" >Glycolic acid molecule</text><text x="78.8" y="504.6" font-size="9.4" fill="#1a1a1a" text-anchor="middle" >Coordinate</text><text x="78.8" y="515.6" font-size="9.4" fill="#1a1a1a" text-anchor="middle" >bond</text><text x="194.6" y="503" font-size="9.4" fill="#1a1a1a" text-anchor="middle" >Coordinate</text><text x="194.6" y="514" font-size="9.4" fill="#1a1a1a" text-anchor="middle" >bond</text><ellipse cx="104" cy="523" rx="10.5" ry="8" fill="#ededed"/><ellipse cx="165" cy="521" rx="8.5" ry="12.5" fill="#ededed" transform="rotate(-25 165 521)"/><line x1="102.9" y1="546.2" x2="101.8" y2="527.5" stroke="#6d9cc8" stroke-width="1.8"/><line x1="102.9" y1="546.2" x2="99.6" y2="559.3" stroke="#6d9cc8" stroke-width="1.8"/><line x1="102.9" y1="546.2" x2="89.8" y2="550.5" stroke="#6d9cc8" stroke-width="1.8"/><line x1="102.9" y1="546.2" x2="119.3" y2="549.4" stroke="#6d9cc8" stroke-width="1.8"/><line x1="119.3" y1="549.4" x2="129.2" y2="547.3" stroke="#6d9cc8" stroke-width="1.5"/><line x1="119.3" y1="549.4" x2="119.3" y2="545" stroke="#6d9cc8" stroke-width="1.5"/><circle cx="101.8" cy="527.5" r="3.4" fill="url(#gBlL)"/><circle cx="99.6" cy="559.3" r="4.7" fill="url(#gBlD)"/><circle cx="89.8" cy="550.5" r="3" fill="url(#gBl)"/><circle cx="119.3" cy="549.4" r="2.8" fill="url(#gBl)"/><circle cx="129.2" cy="547.3" r="2.2" fill="url(#gBl)"/><circle cx="119.3" cy="545.2" r="2" fill="url(#gBl)"/><circle cx="102.9" cy="546.2" r="4.6" fill="url(#gBl)"/><line x1="133.9" y1="505" x2="126.9" y2="494.9" stroke="#d8bd55" stroke-width="1.8"/><line x1="133.9" y1="505" x2="150.2" y2="499.5" stroke="#d8bd55" stroke-width="1.8"/><line x1="133.9" y1="505" x2="135" y2="513.6" stroke="#d8bd55" stroke-width="1.8"/><line x1="133.9" y1="505" x2="142" y2="512.9" stroke="#d8bd55" stroke-width="1.8"/><line x1="133.9" y1="505" x2="129.2" y2="513.6" stroke="#d8bd55" stroke-width="1.8"/><line x1="150.2" y1="499.5" x2="157.2" y2="510" stroke="#e3cf80" stroke-width="1.5"/><line x1="129.2" y1="513.6" x2="122.2" y2="519.4" stroke="#e3cf80" stroke-width="1.5"/><line x1="122.2" y1="519.4" x2="115.2" y2="521.7" stroke="#e3cf80" stroke-width="1.5"/><circle cx="126.9" cy="494.9" r="2.7" fill="url(#gYb)"/><circle cx="150.2" cy="499.5" r="4" fill="url(#gYb)"/><circle cx="135" cy="513.6" r="3" fill="url(#gYl)"/><circle cx="142" cy="512.9" r="2.8" fill="url(#gYl)"/><circle cx="129.2" cy="513.6" r="2.6" fill="url(#gYl)"/><circle cx="157.2" cy="510" r="2.5" fill="url(#gYl)"/><circle cx="122.2" cy="519.4" r="2.8" fill="url(#gYl)"/><circle cx="115.2" cy="521.7" r="2.4" fill="url(#gYl)"/><circle cx="133.9" cy="505" r="4.6" fill="url(#gYb)"/><line x1="166.6" y1="526.4" x2="157.2" y2="538.1" stroke="#b89c7a" stroke-width="1.8"/><line x1="157.2" y1="538.1" x2="143.2" y2="538.6" stroke="#b89c7a" stroke-width="1.8"/><line x1="157.2" y1="538.1" x2="165.4" y2="552.1" stroke="#b89c7a" stroke-width="1.8"/><line x1="165.4" y1="552.1" x2="179.4" y2="548.6" stroke="#b89c7a" stroke-width="1.8"/><line x1="179.4" y1="548.6" x2="181.8" y2="538.6" stroke="#b89c7a" stroke-width="1.8"/><line x1="165.4" y1="552.1" x2="165.4" y2="563.3" stroke="#b89c7a" stroke-width="1.8"/><line x1="165.4" y1="552.1" x2="158.4" y2="552.1" stroke="#b89c7a" stroke-width="1.8"/><circle cx="166.6" cy="526.4" r="3.6" fill="url(#gTnL)"/><circle cx="157.2" cy="538.1" r="4.2" fill="url(#gTn)"/><circle cx="143.2" cy="538.6" r="3.5" fill="url(#gTn)"/><circle cx="165.4" cy="552.1" r="4.3" fill="url(#gTn)"/><circle cx="179.4" cy="548.6" r="3.6" fill="url(#gTn)"/><circle cx="181.8" cy="538.6" r="2.6" fill="url(#gTn)"/><circle cx="165.4" cy="563.3" r="2.6" fill="url(#gTn)"/><circle cx="158.4" cy="552.1" r="2.4" fill="url(#gTn)"/><line x1="52" y1="519.5" x2="108.5" y2="519.5" stroke="#333" stroke-width="0.9"/><circle cx="108.5" cy="519.5" r="1.4" fill="#111"/><line x1="165.5" y1="517.8" x2="223.5" y2="517.8" stroke="#555" stroke-width="0.9"/><circle cx="165.5" cy="517.8" r="1.4" fill="#111"/><text x="58" y="572.4" font-size="9.5" fill="#a0a0a0" text-anchor="start" >Sulfamate anion</text><text x="146.7" y="572.7" font-size="9.47" fill="#a0a0a0" text-anchor="start" >Glycolate anion</text><line x1="230" y1="568.5" x2="246" y2="568.5" stroke="#f08060" stroke-width="0.9" marker-end="url(#ahO)"/><line x1="66" y1="652" x2="49" y2="652" stroke="#d4d4d4" stroke-width="0.9" marker-end="url(#ahG)"/><g stroke="#333" stroke-width="0.9"><line x1="42.2" y1="574.2" x2="42.2" y2="672"/><line x1="254.6" y1="574.6" x2="254.6" y2="672"/><line x1="41.8" y1="671.5" x2="255" y2="671.5"/><line x1="37.6" y1="671.40" x2="42.2" y2="671.40"/><line x1="254.6" y1="671.60" x2="259.2" y2="671.60"/><line x1="39.800000000000004" y1="655.23" x2="42.2" y2="655.23"/><line x1="254.6" y1="655.47" x2="257.0" y2="655.47"/><line x1="37.6" y1="639.06" x2="42.2" y2="639.06"/><line x1="254.6" y1="639.34" x2="259.2" y2="639.34"/><line x1="39.800000000000004" y1="622.89" x2="42.2" y2="622.89"/><line x1="254.6" y1="623.21" x2="257.0" y2="623.21"/><line x1="37.6" y1="606.72" x2="42.2" y2="606.72"/><line x1="254.6" y1="607.08" x2="259.2" y2="607.08"/><line x1="39.800000000000004" y1="590.55" x2="42.2" y2="590.55"/><line x1="254.6" y1="590.95" x2="257.0" y2="590.95"/><line x1="37.6" y1="574.38" x2="42.2" y2="574.38"/><line x1="254.6" y1="574.82" x2="259.2" y2="574.82"/><line x1="95.2" y1="671.5" x2="95.2" y2="675"/><line x1="148" y1="671.5" x2="148" y2="675"/><line x1="202" y1="671.5" x2="202" y2="675"/></g><text x="30.5" y="674.80" font-size="9.2" fill="#1a1a1a" text-anchor="end" >0.6</text><text x="30.5" y="642.46" font-size="9.2" fill="#1a1a1a" text-anchor="end" >0.8</text><text x="30.5" y="610.12" font-size="9.2" fill="#1a1a1a" text-anchor="end" >1.0</text><text x="30.5" y="577.78" font-size="9.2" fill="#1a1a1a" text-anchor="end" >1.2</text><text x="261.8" y="675.00" font-size="9.2" fill="#1a1a1a" text-anchor="start" >60</text><text x="261.8" y="642.74" font-size="9.2" fill="#1a1a1a" text-anchor="start" >80</text><text x="261.8" y="610.48" font-size="9.2" fill="#1a1a1a" text-anchor="start" >100</text><text x="261.8" y="578.22" font-size="9.2" fill="#1a1a1a" text-anchor="start" >120</text><rect x="74" y="645.5" width="19.7" height="26" fill="#e3e3e3" stroke="#222" stroke-width="0.8"/><rect x="97" y="637" width="19.7" height="34.5" fill="#f0876a" stroke="#222" stroke-width="0.8"/><rect x="180.4" y="591" width="19.1" height="80.5" fill="#e3e3e3" stroke="#222" stroke-width="0.8"/><rect x="203.4" y="583" width="19.6" height="88.5" fill="#f0876a" stroke="#222" stroke-width="0.8"/><g stroke="#222" stroke-width="0.8"><line x1="102" y1="636.2" x2="111.5" y2="636.2"/><line x1="185.5" y1="590.2" x2="194.5" y2="590.2"/><line x1="213.2" y1="579.4" x2="213.2" y2="586.4"/><line x1="209" y1="579.4" x2="217.6" y2="579.4"/><line x1="209" y1="586.4" x2="217.6" y2="586.4"/></g><text x="95.5" y="687.8" font-size="9.4" fill="#1a1a1a" text-anchor="middle" >Sodium</text><text x="95.5" y="699.2" font-size="9.4" fill="#1a1a1a" text-anchor="middle" >sulfamate</text><text x="201.5" y="687.8" font-size="9.4" fill="#1a1a1a" text-anchor="middle" >Molecular</text><text x="201.5" y="699.2" font-size="9.4" fill="#1a1a1a" text-anchor="middle" >clusters</text><text transform="translate(6.6,622) rotate(-90)" font-size="9.2" fill="#1a1a1a" text-anchor="middle">V<tspan font-size="6" dy="1.5">oc</tspan><tspan dy="-1.5"> (V)</tspan></text><text transform="translate(296.6,620.8) rotate(-90)" font-size="9.2" fill="#1a1a1a" text-anchor="middle">I<tspan font-size="6" dy="1.5">sc</tspan><tspan dy="-1.5"> (μA)</tspan></text><path d="M140,578 L153,626.3 L173.5,626.3" fill="none" stroke="#222" stroke-width="0.9" stroke-dasharray="3,2.4"/><circle cx="173.5" cy="626.3" r="1.4" fill="#111"/><text x="325.3" y="513.6" font-size="16.5" fill="#111" text-anchor="start" >e</text><circle cx="354.6" cy="510.7" r="3.6" fill="#a8cf88" stroke="#8a8a8a" stroke-width="0.6"/><text x="361.2" y="512.9" font-size="8.9" fill="#1a1a1a" text-anchor="start" >11. ACS Nano, 2023</text><circle cx="452.2" cy="510.7" r="3.6" fill="#b09a98" stroke="#8a8a8a" stroke-width="0.6"/><text x="461.5" y="512.9" font-size="8.9" fill="#1a1a1a" text-anchor="start" >12. Adv. Mater., 2022</text><circle cx="559.6" cy="510.7" r="3.6" fill="#f29a2e" stroke="#8a8a8a" stroke-width="0.6"/><text x="565.7" y="512.9" font-size="8.9" fill="#1a1a1a" text-anchor="start" >13. Energy Environ. Sci., 2024</text><circle cx="354.6" cy="526.9" r="3.6" fill="#2d72b8" stroke="#8a8a8a" stroke-width="0.6"/><text x="361.2" y="529.1" font-size="8.9" fill="#1a1a1a" text-anchor="start" >14. Nat Commun., 2024</text><circle cx="466.1" cy="526.9" r="3.6" fill="#fbe09a" stroke="#8a8a8a" stroke-width="0.6"/><text x="474.3" y="529.1" font-size="8.9" fill="#1a1a1a" text-anchor="start" >15. Sci. Adv., 2024</text><circle cx="559.6" cy="526.9" r="3.6" fill="#e8654a" stroke="#8a8a8a" stroke-width="0.6"/><text x="565.2" y="529.1" font-size="8.9" fill="#1a1a1a" text-anchor="start" >This work</text><rect x="382.4" y="547.4" width="275.80000000000007" height="124.0" fill="none" stroke="#222" stroke-width="0.9"/><g stroke="#222" stroke-width="0.8"><line x1="380.0" y1="670.89" x2="382.4" y2="670.89"/><line x1="380.0" y1="665.90" x2="382.4" y2="665.90"/><line x1="380.0" y1="661.83" x2="382.4" y2="661.83"/><line x1="380.0" y1="658.38" x2="382.4" y2="658.38"/><line x1="380.0" y1="655.39" x2="382.4" y2="655.39"/><line x1="380.0" y1="652.76" x2="382.4" y2="652.76"/><line x1="377.9" y1="650.40" x2="382.4" y2="650.40"/><line x1="380.0" y1="634.90" x2="382.4" y2="634.90"/><line x1="380.0" y1="625.83" x2="382.4" y2="625.83"/><line x1="380.0" y1="619.39" x2="382.4" y2="619.39"/><line x1="380.0" y1="614.40" x2="382.4" y2="614.40"/><line x1="380.0" y1="610.33" x2="382.4" y2="610.33"/><line x1="380.0" y1="606.88" x2="382.4" y2="606.88"/><line x1="380.0" y1="603.89" x2="382.4" y2="603.89"/><line x1="380.0" y1="601.26" x2="382.4" y2="601.26"/><line x1="377.9" y1="598.90" x2="382.4" y2="598.90"/><line x1="380.0" y1="583.40" x2="382.4" y2="583.40"/><line x1="380.0" y1="574.33" x2="382.4" y2="574.33"/><line x1="380.0" y1="567.89" x2="382.4" y2="567.89"/><line x1="380.0" y1="562.90" x2="382.4" y2="562.90"/><line x1="380.0" y1="558.83" x2="382.4" y2="558.83"/><line x1="380.0" y1="555.38" x2="382.4" y2="555.38"/><line x1="380.0" y1="552.39" x2="382.4" y2="552.39"/><line x1="380.0" y1="549.76" x2="382.4" y2="549.76"/><line x1="377.9" y1="547.40" x2="382.4" y2="547.40"/><line x1="382.40" y1="671.4" x2="382.40" y2="675.0"/><line x1="403.65" y1="671.4" x2="403.65" y2="673.4"/><line x1="424.90" y1="671.4" x2="424.90" y2="675.0"/><line x1="446.15" y1="671.4" x2="446.15" y2="673.4"/><line x1="467.40" y1="671.4" x2="467.40" y2="675.0"/><line x1="488.65" y1="671.4" x2="488.65" y2="673.4"/><line x1="509.90" y1="671.4" x2="509.90" y2="675.0"/><line x1="531.15" y1="671.4" x2="531.15" y2="673.4"/><line x1="552.40" y1="671.4" x2="552.40" y2="675.0"/><line x1="573.65" y1="671.4" x2="573.65" y2="673.4"/><line x1="594.90" y1="671.4" x2="594.90" y2="675.0"/><line x1="616.15" y1="671.4" x2="616.15" y2="673.4"/><line x1="637.40" y1="671.4" x2="637.40" y2="675.0"/></g><text x="380.90" y="687.8" font-size="9.2" fill="#1a1a1a" text-anchor="middle" >-40</text><text x="423.40" y="687.8" font-size="9.2" fill="#1a1a1a" text-anchor="middle" >-20</text><text x="465.90" y="687.8" font-size="9.2" fill="#1a1a1a" text-anchor="middle" >0</text><text x="508.40" y="687.8" font-size="9.2" fill="#1a1a1a" text-anchor="middle" >20</text><text x="550.90" y="687.8" font-size="9.2" fill="#1a1a1a" text-anchor="middle" >40</text><text x="593.40" y="687.8" font-size="9.2" fill="#1a1a1a" text-anchor="middle" >60</text><text x="635.90" y="687.8" font-size="9.2" fill="#1a1a1a" text-anchor="middle" >80</text><text x="373" y="550.70" font-size="8.9" fill="#1a1a1a" text-anchor="end" >1000</text><text x="374.6" y="602.20" font-size="8.9" fill="#1a1a1a" text-anchor="end" >100</text><text x="376.8" y="653.70" font-size="8.9" fill="#1a1a1a" text-anchor="end" >10</text><text x="512.5" y="702.5" font-size="9.7" fill="#1a1a1a" text-anchor="middle" >Temperature (°C)</text><text transform="translate(349.4,609) rotate(-90)" font-size="9.5" fill="#1a1a1a" text-anchor="middle">Power density (μW cm<tspan font-size="6" dy="-3.2">-2</tspan><tspan dy="3.2">)</tspan></text><polyline points="424.9,612.3 467.6,612.3 510.3,602.8 552.1,595.4 594.6,592.5 637.2,573.5" fill="none" stroke="#c8c8c8" stroke-width="4.2" stroke-linejoin="round" stroke-linecap="round"/><polyline points="416.8,642.3 452.3,628.7 482.3,616 516.2,605.7 541.7,604.5 573.4,598.6 594.6,600.6" fill="none" stroke="#c8c8c8" stroke-width="4.2" stroke-linejoin="round" stroke-linecap="round"/><polyline points="446.3,624.1 488.8,619.5 510.3,616 584,596.6" fill="none" stroke="#c8c8c8" stroke-width="4.2" stroke-linejoin="round" stroke-linecap="round"/><polyline points="424.9,643.6 467.6,642 510.3,635.2 552.1,632.1 594.6,628.3 637.2,623.7" fill="none" stroke="#c8c8c8" stroke-width="4.2" stroke-linejoin="round" stroke-linecap="round"/><polyline points="424.9,622.8 467.6,599.6 488.8,590.4 510.3,581.6 530.8,576.9 552.1,575.1 573.4,573.3" fill="none" stroke="#c8c8c8" stroke-width="4.2" stroke-linejoin="round" stroke-linecap="round"/><polyline points="393.1,664.4 414.4,622.1 435.8,603.9 456.6,589.5 478.1,575.5 499.3,561.5 520.6,556.5 541.7,555.8 562.7,555.8 584,552 605.3,550.6 626.5,552.4 637.2,552.4" fill="none" stroke="#f4b393" stroke-width="4.6" stroke-linejoin="round" stroke-linecap="round"/><circle cx="424.9" cy="612.3" r="4.1" fill="#a8cf88" stroke="#7a7a7a" stroke-width="0.55"/><circle cx="467.6" cy="612.3" r="4.1" fill="#a8cf88" stroke="#7a7a7a" stroke-width="0.55"/><circle cx="510.3" cy="602.8" r="4.1" fill="#a8cf88" stroke="#7a7a7a" stroke-width="0.55"/><circle cx="552.1" cy="595.4" r="4.1" fill="#a8cf88" stroke="#7a7a7a" stroke-width="0.55"/><circle cx="594.6" cy="592.5" r="4.1" fill="#a8cf88" stroke="#7a7a7a" stroke-width="0.55"/><circle cx="637.2" cy="573.5" r="4.1" fill="#a8cf88" stroke="#7a7a7a" stroke-width="0.55"/><circle cx="416.8" cy="642.3" r="4.1" fill="#b09a98" stroke="#7a7a7a" stroke-width="0.55"/><circle cx="452.3" cy="628.7" r="4.1" fill="#b09a98" stroke="#7a7a7a" stroke-width="0.55"/><circle cx="482.3" cy="616" r="4.1" fill="#b09a98" stroke="#7a7a7a" stroke-width="0.55"/><circle cx="516.2" cy="605.7" r="4.1" fill="#b09a98" stroke="#7a7a7a" stroke-width="0.55"/><circle cx="541.7" cy="604.5" r="4.1" fill="#b09a98" stroke="#7a7a7a" stroke-width="0.55"/><circle cx="573.4" cy="598.6" r="4.1" fill="#b09a98" stroke="#7a7a7a" stroke-width="0.55"/><circle cx="594.6" cy="600.6" r="4.1" fill="#b09a98" stroke="#7a7a7a" stroke-width="0.55"/><circle cx="446.3" cy="624.1" r="4.1" fill="#fbe09a" stroke="#7a7a7a" stroke-width="0.55"/><circle cx="488.8" cy="619.5" r="4.1" fill="#fbe09a" stroke="#7a7a7a" stroke-width="0.55"/><circle cx="510.3" cy="616" r="4.1" fill="#fbe09a" stroke="#7a7a7a" stroke-width="0.55"/><circle cx="584" cy="596.6" r="4.1" fill="#fbe09a" stroke="#7a7a7a" stroke-width="0.55"/><circle cx="424.9" cy="643.6" r="4.1" fill="#f29a2e" stroke="#7a7a7a" stroke-width="0.55"/><circle cx="467.6" cy="642" r="4.1" fill="#f29a2e" stroke="#7a7a7a" stroke-width="0.55"/><circle cx="510.3" cy="635.2" r="4.1" fill="#f29a2e" stroke="#7a7a7a" stroke-width="0.55"/><circle cx="552.1" cy="632.1" r="4.1" fill="#f29a2e" stroke="#7a7a7a" stroke-width="0.55"/><circle cx="594.6" cy="628.3" r="4.1" fill="#f29a2e" stroke="#7a7a7a" stroke-width="0.55"/><circle cx="637.2" cy="623.7" r="4.1" fill="#f29a2e" stroke="#7a7a7a" stroke-width="0.55"/><circle cx="424.9" cy="622.8" r="4.1" fill="#2d72b8" stroke="#7a7a7a" stroke-width="0.55"/><circle cx="467.6" cy="599.6" r="4.1" fill="#2d72b8" stroke="#7a7a7a" stroke-width="0.55"/><circle cx="488.8" cy="590.4" r="4.1" fill="#2d72b8" stroke="#7a7a7a" stroke-width="0.55"/><circle cx="510.3" cy="581.6" r="4.1" fill="#2d72b8" stroke="#7a7a7a" stroke-width="0.55"/><circle cx="530.8" cy="576.9" r="4.1" fill="#2d72b8" stroke="#7a7a7a" stroke-width="0.55"/><circle cx="552.1" cy="575.1" r="4.1" fill="#2d72b8" stroke="#7a7a7a" stroke-width="0.55"/><circle cx="573.4" cy="573.3" r="4.1" fill="#2d72b8" stroke="#7a7a7a" stroke-width="0.55"/><circle cx="393.1" cy="664.4" r="4.1" fill="#e8654a" stroke="#7a7a7a" stroke-width="0.55"/><circle cx="414.4" cy="622.1" r="4.1" fill="#e8654a" stroke="#7a7a7a" stroke-width="0.55"/><circle cx="435.8" cy="603.9" r="4.1" fill="#e8654a" stroke="#7a7a7a" stroke-width="0.55"/><circle cx="456.6" cy="589.5" r="4.1" fill="#e8654a" stroke="#7a7a7a" stroke-width="0.55"/><circle cx="478.1" cy="575.5" r="4.1" fill="#e8654a" stroke="#7a7a7a" stroke-width="0.55"/><circle cx="499.3" cy="561.5" r="4.1" fill="#e8654a" stroke="#7a7a7a" stroke-width="0.55"/><circle cx="520.6" cy="556.5" r="4.1" fill="#e8654a" stroke="#7a7a7a" stroke-width="0.55"/><circle cx="541.7" cy="555.8" r="4.1" fill="#e8654a" stroke="#7a7a7a" stroke-width="0.55"/><circle cx="562.7" cy="555.8" r="4.1" fill="#e8654a" stroke="#7a7a7a" stroke-width="0.55"/><circle cx="584" cy="552" r="4.1" fill="#e8654a" stroke="#7a7a7a" stroke-width="0.55"/><circle cx="605.3" cy="550.6" r="4.1" fill="#e8654a" stroke="#7a7a7a" stroke-width="0.55"/><circle cx="626.5" cy="552.4" r="4.1" fill="#e8654a" stroke="#7a7a7a" stroke-width="0.55"/><circle cx="637.2" cy="552.4" r="4.1" fill="#e8654a" stroke="#7a7a7a" stroke-width="0.55"/>
</svg>
</body></html>
